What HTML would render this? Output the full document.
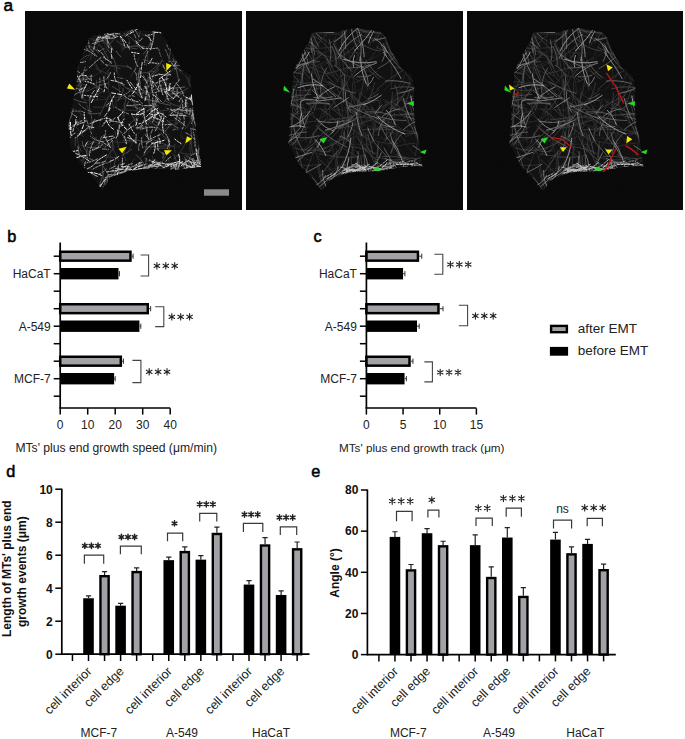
<!DOCTYPE html>
<html><head><meta charset="utf-8"><title>figure</title>
<style>
html,body{margin:0;padding:0;background:#fff;width:685px;height:739px;overflow:hidden}
svg{display:block}
text{font-family:"Liberation Sans", sans-serif}
</style></head><body>
<svg width="685" height="739" viewBox="0 0 685 739">
<defs><filter id="soft" x="-5%" y="-5%" width="110%" height="110%"><feGaussianBlur stdDeviation="0.4"/></filter><filter id="noise" x="0" y="0" width="100%" height="100%"><feTurbulence type="fractalNoise" baseFrequency="0.9" numOctaves="1" seed="3"/><feColorMatrix type="saturate" values="0"/></filter></defs>
<rect width="685" height="739" fill="#fff"/>
<rect x="25" y="11" width="217" height="199" fill="#070707"/>
<rect x="25" y="11" width="217" height="199" fill="#fff" filter="url(#noise)" opacity="0.03"/>
<clipPath id="clip1"><path d="M92.0 35.8 L115.7 31.8 L136.7 29.2 L160.4 31.8 L166.9 41.0 L173.5 54.2 L181.4 68.6 L190.6 75.2 L191.9 93.6 L193.2 109.3 L195.8 125.1 L199.8 146.1 L201.1 167.1 L176.1 169.8 L149.8 168.5 L128.8 171.1 L110.4 177.6 L102.5 190.8 L94.7 180.3 L78.9 161.9 L69.7 146.1 L68.4 125.1 L72.3 104.1 L76.3 85.7 L77.6 67.3 L84.2 49.0 L89.4 38.4 Z"/></clipPath>
<g clip-path="url(#clip1)">
<path d="M92.0 35.8 L115.7 31.8 L136.7 29.2 L160.4 31.8 L166.9 41.0 L173.5 54.2 L181.4 68.6 L190.6 75.2 L191.9 93.6 L193.2 109.3 L195.8 125.1 L199.8 146.1 L201.1 167.1 L176.1 169.8 L149.8 168.5 L128.8 171.1 L110.4 177.6 L102.5 190.8 L94.7 180.3 L78.9 161.9 L69.7 146.1 L68.4 125.1 L72.3 104.1 L76.3 85.7 L77.6 67.3 L84.2 49.0 L89.4 38.4 Z" fill="#121212" stroke="none"/>
<g fill="none" stroke-linecap="round" filter="url(#soft)">
<path d="M137.1 46.2 L137.8 42.5 L138.6 38.8 L139.4 35.2 L140.2 31.5" stroke="rgb(55,55,55)" stroke-width="0.9"/>
<path d="M83.1 163.4 L79.9 158.5 L76.2 154.0 L72.1 149.9 L67.6 146.2" stroke="rgb(40,40,40)" stroke-width="0.7"/>
<path d="M161.9 75.0 L166.6 73.3 L171.1 70.9 L175.2 68.0 L178.8 64.6" stroke="rgb(40,40,40)" stroke-width="0.7"/>
<path d="M122.9 140.4 L128.0 140.2 L133.0 140.2 L138.1 140.5 L143.2 141.1" stroke="rgb(85,85,85)" stroke-width="0.7"/>
<path d="M151.3 114.1 L150.0 118.3 L148.8 122.6 L147.8 126.9 L147.0 131.3" stroke="rgb(70,70,70)" stroke-width="0.7"/>
<path d="M85.6 117.9 L82.7 120.3 L79.5 122.3 L76.0 124.0 L72.4 125.2" stroke="rgb(85,85,85)" stroke-width="0.7"/>
<path d="M173.1 58.6 L174.8 64.1 L176.3 69.7 L177.6 75.4 L178.7 81.1" stroke="rgb(85,85,85)" stroke-width="0.9"/>
<path d="M189.8 145.9 L189.9 148.0 L190.1 150.2 L190.4 152.4 L190.9 154.5" stroke="rgb(70,70,70)" stroke-width="0.7"/>
<path d="M137.2 93.6 L134.3 90.3 L131.3 87.0 L128.4 83.8 L125.4 80.5" stroke="rgb(40,40,40)" stroke-width="0.9"/>
<path d="M157.3 118.1 L161.8 120.3 L166.4 122.2 L171.1 123.7 L176.0 125.0" stroke="rgb(40,40,40)" stroke-width="0.7"/>
<path d="M115.8 137.8 L112.1 138.5 L108.5 139.5 L104.9 140.7 L101.4 142.0" stroke="rgb(55,55,55)" stroke-width="0.9"/>
<path d="M125.8 118.7 L122.4 120.8 L118.9 122.7 L115.3 124.3 L111.5 125.6" stroke="rgb(40,40,40)" stroke-width="0.9"/>
<path d="M147.7 123.6 L144.7 127.7 L141.0 131.3 L136.8 134.1 L132.1 136.2" stroke="rgb(40,40,40)" stroke-width="0.7"/>
<path d="M136.5 136.7 L133.9 140.8 L131.5 144.9 L129.3 149.1 L127.2 153.5" stroke="rgb(55,55,55)" stroke-width="0.7"/>
<path d="M126.1 142.8 L127.6 138.4 L128.6 134.0 L129.2 129.4 L129.2 124.9" stroke="rgb(40,40,40)" stroke-width="0.9"/>
<path d="M183.5 162.5 L186.1 165.2 L188.4 168.2 L190.3 171.4 L192.0 174.8" stroke="rgb(85,85,85)" stroke-width="0.9"/>
<path d="M187.9 109.0 L185.1 104.1 L181.6 99.6 L177.7 95.5 L173.2 92.0" stroke="rgb(85,85,85)" stroke-width="0.9"/>
<path d="M174.0 128.9 L176.9 124.1 L179.3 119.1 L181.5 113.9 L183.2 108.6" stroke="rgb(55,55,55)" stroke-width="0.7"/>
<path d="M142.3 127.7 L138.8 127.4 L135.2 127.0 L131.6 126.7 L128.0 126.4" stroke="rgb(40,40,40)" stroke-width="0.7"/>
<path d="M99.6 115.9 L101.9 110.8 L104.3 105.7 L106.6 100.7 L109.1 95.6" stroke="rgb(85,85,85)" stroke-width="0.7"/>
<path d="M91.3 152.0 L88.6 153.8 L86.1 155.9 L83.7 158.2 L81.6 160.7" stroke="rgb(70,70,70)" stroke-width="0.9"/>
<path d="M82.3 141.7 L82.8 144.5 L83.7 147.1 L85.1 149.5 L86.9 151.7" stroke="rgb(85,85,85)" stroke-width="0.9"/>
<path d="M176.5 110.3 L180.0 112.6 L183.7 114.5 L187.6 116.1 L191.6 117.3" stroke="rgb(55,55,55)" stroke-width="0.9"/>
<path d="M190.4 75.7 L189.6 78.1 L189.1 80.6 L189.0 83.1 L189.2 85.6" stroke="rgb(55,55,55)" stroke-width="0.7"/>
<path d="M126.0 160.7 L125.2 158.7 L124.5 156.8 L123.8 154.8 L123.2 152.9" stroke="rgb(55,55,55)" stroke-width="0.9"/>
<path d="M137.6 135.9 L136.2 137.8 L134.6 139.6 L132.8 141.2 L130.8 142.7" stroke="rgb(40,40,40)" stroke-width="0.9"/>
<path d="M83.6 61.1 L85.6 59.8 L87.3 58.2 L88.9 56.4 L90.2 54.5" stroke="rgb(40,40,40)" stroke-width="0.9"/>
<path d="M124.6 98.2 L122.4 98.4 L120.3 98.9 L118.3 99.5 L116.3 100.4" stroke="rgb(55,55,55)" stroke-width="0.9"/>
<path d="M194.0 111.2 L192.8 116.1 L190.9 120.8 L188.3 125.1 L185.1 129.0" stroke="rgb(70,70,70)" stroke-width="0.7"/>
<path d="M86.7 84.7 L82.3 84.9 L77.8 85.5 L73.4 86.5 L69.1 87.8" stroke="rgb(55,55,55)" stroke-width="0.9"/>
<path d="M144.8 146.9 L147.5 147.2 L150.3 147.1 L153.0 146.6 L155.6 145.5" stroke="rgb(85,85,85)" stroke-width="0.9"/>
<path d="M152.8 164.4 L152.8 162.2 L152.8 160.0 L152.7 157.8 L152.4 155.7" stroke="rgb(55,55,55)" stroke-width="0.7"/>
<path d="M128.6 101.5 L126.8 105.2 L124.8 108.8 L122.6 112.3 L120.2 115.7" stroke="rgb(85,85,85)" stroke-width="0.9"/>
<path d="M164.2 154.7 L160.6 152.0 L157.2 149.0 L154.1 145.7 L151.3 142.2" stroke="rgb(85,85,85)" stroke-width="0.9"/>
<path d="M110.8 148.0 L110.8 153.1 L110.6 158.1 L110.5 163.1 L110.3 168.1" stroke="rgb(40,40,40)" stroke-width="0.9"/>
<path d="M92.9 136.0 L96.9 139.7 L100.8 143.5 L104.7 147.3 L108.6 151.1" stroke="rgb(70,70,70)" stroke-width="0.7"/>
<path d="M93.0 76.2 L89.8 76.4 L86.6 76.9 L83.5 77.6 L80.4 78.6" stroke="rgb(70,70,70)" stroke-width="0.7"/>
<path d="M157.1 140.1 L154.0 145.1 L150.3 149.7 L146.0 153.8 L141.2 157.2" stroke="rgb(55,55,55)" stroke-width="0.7"/>
<path d="M125.3 78.3 L129.0 82.3 L132.9 86.2 L136.7 90.1 L140.7 93.8" stroke="rgb(40,40,40)" stroke-width="0.7"/>
<path d="M162.3 125.0 L158.9 123.6 L155.6 121.8 L152.6 119.7 L149.8 117.2" stroke="rgb(85,85,85)" stroke-width="0.9"/>
<path d="M112.3 149.7 L110.4 152.3 L108.7 155.0 L107.1 157.8 L105.8 160.8" stroke="rgb(70,70,70)" stroke-width="0.7"/>
<path d="M191.1 87.1 L189.8 84.2 L188.5 81.4 L187.2 78.5 L185.8 75.7" stroke="rgb(70,70,70)" stroke-width="0.7"/>
<path d="M118.5 99.8 L119.2 95.7 L119.5 91.5 L119.3 87.4 L118.5 83.3" stroke="rgb(55,55,55)" stroke-width="0.9"/>
<path d="M177.9 70.3 L181.5 72.7 L184.9 75.3 L188.2 78.0 L191.3 80.9" stroke="rgb(40,40,40)" stroke-width="0.9"/>
<path d="M83.2 136.5 L81.4 134.1 L79.6 131.7 L77.8 129.3 L76.0 126.9" stroke="rgb(55,55,55)" stroke-width="0.9"/>
<path d="M173.6 100.0 L172.0 96.3 L170.7 92.6 L169.7 88.7 L168.9 84.8" stroke="rgb(40,40,40)" stroke-width="0.7"/>
<path d="M169.2 101.4 L171.9 99.2 L174.4 96.8 L176.8 94.3 L179.1 91.6" stroke="rgb(55,55,55)" stroke-width="0.9"/>
<path d="M87.5 38.2 L89.9 38.6 L92.3 38.9 L94.7 39.1 L97.1 39.2" stroke="rgb(55,55,55)" stroke-width="0.7"/>
<path d="M142.3 109.9 L145.3 107.8 L148.3 105.9 L151.4 104.0 L154.6 102.4" stroke="rgb(70,70,70)" stroke-width="0.9"/>
<path d="M187.1 116.1 L184.3 111.9 L181.6 107.6 L178.8 103.3 L175.9 99.1" stroke="rgb(40,40,40)" stroke-width="0.7"/>
<path d="M111.2 65.9 L116.3 65.6 L121.5 65.9 L126.6 66.8 L131.6 68.1" stroke="rgb(70,70,70)" stroke-width="0.7"/>
<path d="M162.8 60.1 L159.1 63.7 L155.2 67.2 L151.2 70.5 L147.1 73.6" stroke="rgb(85,85,85)" stroke-width="0.7"/>
<path d="M121.7 158.6 L122.7 156.3 L123.6 154.0 L124.6 151.6 L125.6 149.3" stroke="rgb(70,70,70)" stroke-width="0.7"/>
<path d="M82.4 162.4 L85.2 157.9 L87.7 153.2 L89.9 148.5 L92.0 143.6" stroke="rgb(40,40,40)" stroke-width="0.7"/>
<path d="M194.2 143.5 L190.5 142.0 L186.9 140.1 L183.5 137.9 L180.4 135.3" stroke="rgb(40,40,40)" stroke-width="0.9"/>
<path d="M120.5 36.7 L123.5 35.5 L126.3 33.8 L128.8 31.8 L131.0 29.3" stroke="rgb(85,85,85)" stroke-width="0.9"/>
<path d="M161.1 163.3 L163.9 159.3 L166.4 155.1 L168.4 150.7 L170.0 146.2" stroke="rgb(85,85,85)" stroke-width="0.7"/>
<path d="M162.4 60.5 L159.2 65.3 L155.7 69.9 L151.8 74.2 L147.6 78.1" stroke="rgb(85,85,85)" stroke-width="0.9"/>
<path d="M121.6 84.4 L125.0 87.3 L128.7 89.8 L132.7 91.9 L137.0 93.5" stroke="rgb(55,55,55)" stroke-width="0.9"/>
<path d="M116.5 157.8 L113.5 157.4 L110.5 157.2 L107.4 157.1 L104.4 157.2" stroke="rgb(55,55,55)" stroke-width="0.9"/>
<path d="M159.3 65.1 L155.3 63.4 L151.3 61.9 L147.2 60.7 L143.0 59.7" stroke="rgb(70,70,70)" stroke-width="0.9"/>
<path d="M168.9 62.0 L169.3 58.4 L169.8 54.8 L170.3 51.2 L170.8 47.7" stroke="rgb(70,70,70)" stroke-width="0.9"/>
<path d="M99.1 186.8 L100.1 183.3 L101.2 179.9 L102.4 176.5 L103.7 173.1" stroke="rgb(85,85,85)" stroke-width="0.9"/>
<path d="M154.3 92.4 L148.7 93.0 L143.1 93.0 L137.5 92.3 L132.0 91.0" stroke="rgb(85,85,85)" stroke-width="0.7"/>
<path d="M140.1 110.0 L139.0 112.0 L137.7 113.8 L136.3 115.5 L134.7 117.1" stroke="rgb(85,85,85)" stroke-width="0.9"/>
<path d="M137.3 110.4 L132.5 110.3 L127.7 110.2 L122.9 110.0 L118.2 109.7" stroke="rgb(55,55,55)" stroke-width="0.9"/>
<path d="M116.8 41.0 L121.2 44.3 L126.2 46.7 L131.5 48.2 L137.0 48.7" stroke="rgb(85,85,85)" stroke-width="0.7"/>
<path d="M108.2 92.5 L108.7 87.0 L108.8 81.5 L108.5 76.0 L107.8 70.5" stroke="rgb(55,55,55)" stroke-width="0.7"/>
<path d="M176.8 147.3 L180.1 145.5 L183.2 143.3 L185.9 140.7 L188.4 137.8" stroke="rgb(40,40,40)" stroke-width="0.9"/>
<path d="M161.2 118.0 L162.7 114.1 L164.3 110.4 L166.1 106.7 L167.9 103.0" stroke="rgb(40,40,40)" stroke-width="0.7"/>
<path d="M96.8 64.6 L94.6 65.2 L92.3 65.6 L90.1 66.1 L87.8 66.5" stroke="rgb(40,40,40)" stroke-width="0.7"/>
<path d="M66.4 128.6 L67.7 126.2 L68.7 123.7 L69.6 121.1 L70.3 118.4" stroke="rgb(55,55,55)" stroke-width="0.7"/>
<path d="M175.6 120.2 L174.1 116.4 L172.7 112.5 L171.4 108.7 L170.3 104.7" stroke="rgb(55,55,55)" stroke-width="0.7"/>
<path d="M179.5 115.1 L180.4 120.9 L181.1 126.8 L181.6 132.6 L182.0 138.5" stroke="rgb(40,40,40)" stroke-width="0.7"/>
<path d="M140.9 97.8 L138.0 94.5 L134.6 91.8 L130.8 89.6 L126.7 88.0" stroke="rgb(85,85,85)" stroke-width="0.9"/>
<path d="M180.4 127.9 L174.5 127.6 L168.5 127.9 L162.7 128.8 L156.9 130.2" stroke="rgb(40,40,40)" stroke-width="0.7"/>
<path d="M153.8 74.7 L151.8 75.9 L149.9 77.3 L148.0 78.7 L146.2 80.2" stroke="rgb(55,55,55)" stroke-width="0.9"/>
<path d="M96.5 80.1 L96.6 85.2 L96.8 90.4 L97.0 95.6 L97.3 100.7" stroke="rgb(55,55,55)" stroke-width="0.9"/>
<path d="M164.7 168.4 L161.6 168.5 L158.5 168.6 L155.4 168.6 L152.3 168.6" stroke="rgb(40,40,40)" stroke-width="0.9"/>
<path d="M96.4 50.9 L97.0 48.5 L97.9 46.1 L98.9 43.7 L100.1 41.5" stroke="rgb(55,55,55)" stroke-width="0.7"/>
<path d="M80.9 92.5 L78.4 93.1 L76.0 94.1 L73.8 95.6 L71.9 97.4" stroke="rgb(55,55,55)" stroke-width="0.9"/>
<path d="M144.9 110.1 L140.9 113.9 L136.9 117.6 L132.8 121.3 L128.6 125.0" stroke="rgb(70,70,70)" stroke-width="0.9"/>
<path d="M90.7 35.3 L93.8 36.0 L96.7 37.2 L99.5 38.8 L102.0 40.8" stroke="rgb(40,40,40)" stroke-width="0.7"/>
<path d="M149.7 79.0 L146.6 83.1 L144.3 87.7 L142.6 92.5 L141.6 97.6" stroke="rgb(70,70,70)" stroke-width="0.9"/>
<path d="M115.0 169.0 L116.6 167.5 L118.2 165.8 L119.6 164.0 L121.0 162.2" stroke="rgb(40,40,40)" stroke-width="0.9"/>
<path d="M117.8 101.2 L119.9 98.4 L121.6 95.3 L122.7 91.9 L123.2 88.4" stroke="rgb(85,85,85)" stroke-width="0.7"/>
<path d="M93.6 76.2 L98.6 73.1 L103.3 69.5 L107.7 65.5 L111.7 61.1" stroke="rgb(40,40,40)" stroke-width="0.9"/>
<path d="M173.9 159.2 L177.2 155.7 L180.2 152.0 L182.8 148.1 L185.1 143.9" stroke="rgb(70,70,70)" stroke-width="0.7"/>
<path d="M153.1 98.7 L152.5 103.7 L152.3 108.7 L152.6 113.7 L153.4 118.6" stroke="rgb(85,85,85)" stroke-width="0.7"/>
<path d="M123.8 116.6 L123.9 111.8 L124.3 107.1 L125.1 102.4 L126.2 97.7" stroke="rgb(70,70,70)" stroke-width="0.9"/>
<path d="M114.8 131.4 L115.9 135.5 L116.9 139.6 L117.8 143.8 L118.6 148.0" stroke="rgb(55,55,55)" stroke-width="0.9"/>
<path d="M106.5 46.3 L105.3 50.8 L104.2 55.2 L103.2 59.7 L102.1 64.2" stroke="rgb(40,40,40)" stroke-width="0.7"/>
<path d="M111.1 66.8 L108.1 70.5 L105.7 74.5 L104.0 78.9 L103.0 83.5" stroke="rgb(55,55,55)" stroke-width="0.7"/>
<path d="M171.6 165.6 L175.3 166.2 L179.1 166.4 L182.8 166.2 L186.6 165.6" stroke="rgb(70,70,70)" stroke-width="0.9"/>
<path d="M93.3 107.1 L97.6 107.2 L101.8 107.1 L106.0 106.5 L110.2 105.7" stroke="rgb(55,55,55)" stroke-width="0.9"/>
<path d="M119.2 75.2 L117.9 73.2 L116.6 71.4 L115.1 69.6 L113.6 67.8" stroke="rgb(55,55,55)" stroke-width="0.7"/>
<path d="M187.0 104.7 L185.4 106.2 L183.8 107.9 L182.4 109.6 L181.2 111.4" stroke="rgb(70,70,70)" stroke-width="0.9"/>
<path d="M93.8 40.9 L91.8 44.4 L89.3 47.6 L86.4 50.4 L83.2 52.9" stroke="rgb(40,40,40)" stroke-width="0.7"/>
<path d="M113.3 141.9 L117.6 142.3 L121.9 142.4 L126.2 142.2 L130.4 141.7" stroke="rgb(55,55,55)" stroke-width="0.9"/>
<path d="M154.7 110.6 L152.8 106.4 L150.5 102.4 L147.9 98.5 L145.0 95.0" stroke="rgb(40,40,40)" stroke-width="0.7"/>
<path d="M145.1 133.0 L143.1 136.1 L141.2 139.3 L139.4 142.6 L137.8 145.9" stroke="rgb(40,40,40)" stroke-width="0.7"/>
<path d="M138.2 128.0 L136.7 124.5 L135.1 121.1 L133.4 117.7 L131.6 114.3" stroke="rgb(85,85,85)" stroke-width="0.9"/>
<path d="M141.6 105.4 L139.9 104.0 L138.0 102.8 L135.9 101.9 L133.8 101.3" stroke="rgb(70,70,70)" stroke-width="0.9"/>
<path d="M108.0 74.3 L104.9 72.8 L101.9 71.3 L98.8 69.8 L95.8 68.3" stroke="rgb(55,55,55)" stroke-width="0.9"/>
<path d="M185.1 155.4 L186.6 157.0 L187.9 158.7 L188.8 160.6 L189.4 162.7" stroke="rgb(70,70,70)" stroke-width="0.7"/>
<path d="M127.1 23.0 L126.9 27.4 L127.1 31.8 L127.8 36.2 L129.0 40.4" stroke="rgb(55,55,55)" stroke-width="0.7"/>
<path d="M91.5 116.3 L91.6 119.6 L91.9 123.0 L92.4 126.3 L93.1 129.6" stroke="rgb(70,70,70)" stroke-width="0.7"/>
<path d="M160.6 80.2 L163.5 83.7 L166.6 87.0 L169.8 90.2 L173.1 93.3" stroke="rgb(85,85,85)" stroke-width="0.9"/>
<path d="M108.0 58.5 L106.4 54.8 L104.4 51.3 L102.1 47.9 L99.5 44.8" stroke="rgb(85,85,85)" stroke-width="0.7"/>
<path d="M109.6 177.1 L107.8 173.7 L105.8 170.4 L103.7 167.2 L101.5 164.1" stroke="rgb(85,85,85)" stroke-width="0.9"/>
<path d="M149.7 94.3 L149.2 98.0 L149.0 101.8 L149.1 105.5 L149.5 109.3" stroke="rgb(70,70,70)" stroke-width="0.7"/>
<path d="M86.3 78.7 L83.0 83.1 L79.3 87.3 L75.4 91.4 L71.3 95.1" stroke="rgb(40,40,40)" stroke-width="0.7"/>
<path d="M96.4 93.6 L96.7 91.3 L97.3 89.1 L98.3 87.0 L99.7 85.1" stroke="rgb(55,55,55)" stroke-width="0.9"/>
<path d="M198.7 145.4 L198.5 150.0 L198.7 154.7 L199.3 159.3 L200.2 163.9" stroke="rgb(70,70,70)" stroke-width="0.7"/>
<path d="M108.2 99.0 L104.7 97.6 L101.1 96.2 L97.5 95.0 L93.9 93.7" stroke="rgb(40,40,40)" stroke-width="0.7"/>
<path d="M171.7 102.7 L173.9 106.6 L176.2 110.4 L178.6 114.2 L181.2 117.8" stroke="rgb(40,40,40)" stroke-width="0.7"/>
<path d="M103.3 153.6 L101.1 155.9 L99.0 158.2 L97.0 160.7 L95.0 163.2" stroke="rgb(40,40,40)" stroke-width="0.9"/>
<path d="M165.1 166.7 L159.5 165.6 L154.1 163.8 L149.1 161.2 L144.4 158.0" stroke="rgb(70,70,70)" stroke-width="0.7"/>
<path d="M193.7 114.6 L194.2 117.8 L195.0 120.9 L196.0 123.9 L197.4 126.7" stroke="rgb(70,70,70)" stroke-width="0.7"/>
<path d="M129.6 104.9 L127.6 105.8 L125.7 107.0 L124.0 108.4 L122.4 109.9" stroke="rgb(40,40,40)" stroke-width="0.9"/>
<path d="M146.8 99.2 L143.9 96.5 L141.1 93.7 L138.3 91.0 L135.5 88.2" stroke="rgb(55,55,55)" stroke-width="0.9"/>
<path d="M110.0 178.3 L111.9 172.8 L113.6 167.3 L115.0 161.7 L116.3 156.1" stroke="rgb(70,70,70)" stroke-width="0.9"/>
<path d="M101.7 73.6 L100.1 71.6 L98.6 69.4 L97.2 67.2 L96.0 64.9" stroke="rgb(70,70,70)" stroke-width="0.7"/>
<path d="M122.6 51.5 L121.9 47.1 L121.2 42.7 L120.7 38.2 L120.3 33.8" stroke="rgb(55,55,55)" stroke-width="0.7"/>
<path d="M168.7 112.1 L173.4 109.8 L178.4 108.1 L183.6 106.8 L188.8 106.1" stroke="rgb(55,55,55)" stroke-width="0.9"/>
<path d="M80.9 92.7 L80.5 87.2 L79.5 81.7 L77.9 76.3 L75.7 71.2" stroke="rgb(85,85,85)" stroke-width="0.9"/>
<path d="M102.1 89.6 L98.6 87.4 L95.1 85.3 L91.6 83.3 L88.0 81.3" stroke="rgb(85,85,85)" stroke-width="0.9"/>
<path d="M166.3 69.7 L163.8 68.0 L161.5 66.1 L159.4 63.9 L157.5 61.6" stroke="rgb(40,40,40)" stroke-width="0.9"/>
<path d="M179.2 101.5 L184.1 102.5 L188.9 103.8 L193.7 105.4 L198.3 107.3" stroke="rgb(40,40,40)" stroke-width="0.7"/>
<path d="M140.6 93.4 L140.6 88.2 L140.2 83.0 L139.2 77.9 L137.8 72.8" stroke="rgb(40,40,40)" stroke-width="0.7"/>
<path d="M195.2 139.4 L195.2 142.3 L195.7 145.3 L196.4 148.2 L197.5 151.0" stroke="rgb(40,40,40)" stroke-width="0.9"/>
<path d="M99.1 35.6 L101.1 38.6 L102.9 41.7 L104.6 44.8 L106.2 48.0" stroke="rgb(55,55,55)" stroke-width="0.7"/>
<path d="M178.0 63.4 L174.6 67.3 L171.4 71.3 L168.1 75.2 L164.8 79.2" stroke="rgb(55,55,55)" stroke-width="0.9"/>
<path d="M191.5 143.7 L191.6 146.5 L191.9 149.2 L192.4 152.0 L193.1 154.7" stroke="rgb(70,70,70)" stroke-width="0.7"/>
<path d="M83.2 131.4 L79.9 134.2 L76.7 137.1 L73.6 140.0 L70.6 143.1" stroke="rgb(40,40,40)" stroke-width="0.7"/>
<path d="M90.2 144.1 L92.0 142.5 L93.6 140.8 L95.1 139.0 L96.4 137.0" stroke="rgb(70,70,70)" stroke-width="0.7"/>
<path d="M168.9 94.1 L173.9 93.8 L178.9 92.6 L183.6 90.7 L187.9 88.0" stroke="rgb(70,70,70)" stroke-width="0.9"/>
<path d="M90.3 59.9 L91.2 56.7 L92.3 53.6 L93.6 50.5 L95.1 47.6" stroke="rgb(55,55,55)" stroke-width="0.9"/>
<path d="M150.7 114.6 L148.8 118.2 L146.7 121.7 L144.4 125.0 L141.9 128.1" stroke="rgb(55,55,55)" stroke-width="0.7"/>
<path d="M134.8 158.4 L133.4 160.1 L132.2 162.0 L131.3 164.1 L130.6 166.2" stroke="rgb(55,55,55)" stroke-width="0.7"/>
<path d="M86.3 104.9 L87.6 107.1 L88.6 109.5 L89.1 112.0 L89.3 114.5" stroke="rgb(70,70,70)" stroke-width="0.7"/>
<path d="M92.9 148.7 L96.2 145.5 L99.4 142.1 L102.5 138.6 L105.4 134.9" stroke="rgb(70,70,70)" stroke-width="0.7"/>
<path d="M170.0 141.6 L167.5 139.8 L165.2 137.8 L163.0 135.6 L161.1 133.1" stroke="rgb(85,85,85)" stroke-width="0.9"/>
<path d="M103.3 41.7 L100.6 41.5 L98.0 41.2 L95.4 40.7 L92.8 40.2" stroke="rgb(70,70,70)" stroke-width="0.7"/>
<path d="M165.4 97.3 L167.8 96.0 L170.3 95.1 L172.9 94.6 L175.6 94.5" stroke="rgb(55,55,55)" stroke-width="0.7"/>
<path d="M153.5 110.2 L154.4 107.4 L155.6 104.6 L157.0 101.8 L158.5 99.2" stroke="rgb(70,70,70)" stroke-width="0.9"/>
<path d="M157.6 84.0 L154.3 82.5 L150.8 81.3 L147.2 80.4 L143.6 79.8" stroke="rgb(85,85,85)" stroke-width="0.9"/>
<path d="M100.6 118.8 L100.2 121.2 L100.0 123.6 L99.9 126.0 L99.9 128.4" stroke="rgb(40,40,40)" stroke-width="0.7"/>
<path d="M137.7 81.9 L137.8 86.2 L138.7 90.4 L140.2 94.4 L142.3 98.2" stroke="rgb(85,85,85)" stroke-width="0.9"/>
<path d="M140.1 107.3 L136.8 107.0 L133.4 106.6 L130.1 106.0 L126.8 105.2" stroke="rgb(55,55,55)" stroke-width="0.9"/>
<path d="M106.4 186.5 L104.3 181.8 L103.0 176.8 L102.4 171.6 L102.7 166.5" stroke="rgb(85,85,85)" stroke-width="0.7"/>
<path d="M110.1 144.1 L104.2 143.8 L98.3 143.1 L92.5 142.2 L86.7 140.9" stroke="rgb(55,55,55)" stroke-width="0.7"/>
<path d="M157.0 104.1 L159.0 108.2 L161.3 112.2 L163.8 116.0 L166.5 119.7" stroke="rgb(40,40,40)" stroke-width="0.7"/>
<path d="M175.4 82.7 L173.3 82.9 L171.1 83.1 L169.0 83.3 L166.9 83.6" stroke="rgb(40,40,40)" stroke-width="0.7"/>
<path d="M107.9 173.7 L107.6 176.9 L107.6 180.0 L108.0 183.2 L108.6 186.3" stroke="rgb(85,85,85)" stroke-width="0.7"/>
<path d="M144.6 102.2 L145.5 99.7 L146.5 97.1 L147.6 94.6 L148.8 92.2" stroke="rgb(40,40,40)" stroke-width="0.7"/>
<path d="M155.7 125.5 L157.3 127.0 L159.0 128.5 L160.7 130.0 L162.4 131.3" stroke="rgb(85,85,85)" stroke-width="0.9"/>
<path d="M83.0 98.6 L81.0 95.1 L79.6 91.4 L78.8 87.6 L78.6 83.6" stroke="rgb(70,70,70)" stroke-width="0.7"/>
<path d="M106.5 99.5 L101.1 99.6 L95.6 99.8 L90.1 100.1 L84.6 100.4" stroke="rgb(40,40,40)" stroke-width="0.9"/>
<path d="M75.0 70.5 L76.5 68.0 L77.6 65.4 L78.5 62.7 L79.2 59.9" stroke="rgb(70,70,70)" stroke-width="0.7"/>
<path d="M113.1 150.3 L113.1 147.2 L112.8 144.2 L112.2 141.2 L111.3 138.3" stroke="rgb(85,85,85)" stroke-width="0.9"/>
<path d="M163.2 102.9 L165.1 100.8 L166.6 98.4 L167.8 95.7 L168.5 93.0" stroke="rgb(85,85,85)" stroke-width="0.9"/>
<path d="M175.2 125.9 L171.2 124.8 L167.0 124.3 L162.9 124.4 L158.7 124.9" stroke="rgb(40,40,40)" stroke-width="0.9"/>
<path d="M182.3 101.8 L179.7 107.0 L177.7 112.4 L176.4 118.1 L175.8 123.9" stroke="rgb(70,70,70)" stroke-width="0.9"/>
<path d="M118.6 160.7 L116.7 156.4 L114.6 152.1 L112.4 147.9 L109.9 143.8" stroke="rgb(55,55,55)" stroke-width="0.9"/>
<path d="M147.5 101.1 L143.4 97.7 L138.9 94.8 L134.2 92.3 L129.2 90.4" stroke="rgb(55,55,55)" stroke-width="0.7"/>
<path d="M175.2 152.6 L174.7 150.5 L174.6 148.4 L174.7 146.3 L175.0 144.2" stroke="rgb(70,70,70)" stroke-width="0.7"/>
<path d="M142.4 93.8 L146.3 90.1 L149.4 85.7 L151.8 80.9 L153.4 75.8" stroke="rgb(70,70,70)" stroke-width="0.9"/>
<path d="M75.3 145.9 L75.2 143.8 L75.3 141.6 L75.5 139.4 L76.0 137.3" stroke="rgb(70,70,70)" stroke-width="0.9"/>
<path d="M148.1 164.4 L148.0 166.5 L147.9 168.5 L147.8 170.6 L147.6 172.7" stroke="rgb(55,55,55)" stroke-width="0.7"/>
<path d="M159.0 133.4 L158.3 137.6 L158.0 141.8 L158.2 146.0 L158.6 150.2" stroke="rgb(70,70,70)" stroke-width="0.7"/>
<path d="M154.9 71.1 L150.9 71.8 L146.9 72.4 L142.9 73.0 L138.9 73.5" stroke="rgb(70,70,70)" stroke-width="0.9"/>
<path d="M168.0 110.3 L164.2 110.5 L160.3 111.0 L156.5 111.8 L152.8 112.9" stroke="rgb(55,55,55)" stroke-width="0.9"/>
<path d="M145.8 83.5 L148.6 79.6 L151.7 76.1 L155.2 72.8 L158.8 69.8" stroke="rgb(70,70,70)" stroke-width="0.9"/>
<path d="M86.6 119.3 L82.9 115.3 L78.5 111.9 L73.7 109.2 L68.6 107.3" stroke="rgb(55,55,55)" stroke-width="0.7"/>
<path d="M147.0 36.5 L144.7 35.7 L142.4 34.7 L140.3 33.5 L138.3 32.1" stroke="rgb(55,55,55)" stroke-width="0.7"/>
<path d="M81.4 151.2 L79.3 147.1 L77.9 142.7 L77.4 138.1 L77.7 133.5" stroke="rgb(70,70,70)" stroke-width="0.7"/>
<path d="M95.5 177.4 L93.9 175.2 L92.5 172.8 L91.4 170.3 L90.5 167.7" stroke="rgb(55,55,55)" stroke-width="0.7"/>
<path d="M165.9 87.2 L166.3 84.0 L166.5 80.8 L166.6 77.6 L166.5 74.4" stroke="rgb(70,70,70)" stroke-width="0.7"/>
<path d="M124.2 129.5 L124.3 132.3 L124.8 135.0 L125.8 137.7 L127.1 140.1" stroke="rgb(40,40,40)" stroke-width="0.7"/>
<path d="M117.8 119.6 L120.3 122.0 L122.7 124.4 L125.1 126.9 L127.5 129.4" stroke="rgb(70,70,70)" stroke-width="0.9"/>
<path d="M160.3 121.8 L165.2 121.2 L170.1 120.7 L174.9 120.3 L179.8 120.0" stroke="rgb(40,40,40)" stroke-width="0.7"/>
<path d="M89.4 87.4 L87.4 89.2 L85.2 90.7 L83.0 92.1 L80.6 93.2" stroke="rgb(70,70,70)" stroke-width="0.7"/>
<path d="M110.2 43.6 L112.3 41.6 L114.2 39.2 L115.7 36.7 L116.9 33.9" stroke="rgb(85,85,85)" stroke-width="0.7"/>
<path d="M170.5 124.0 L172.8 124.1 L175.1 123.9 L177.3 123.3 L179.4 122.4" stroke="rgb(55,55,55)" stroke-width="0.9"/>
<path d="M167.5 158.0 L169.6 162.8 L170.9 167.8 L171.5 173.0 L171.2 178.2" stroke="rgb(70,70,70)" stroke-width="0.7"/>
<path d="M159.8 174.3 L163.6 172.4 L167.8 171.2 L172.0 170.7 L176.3 171.1" stroke="rgb(70,70,70)" stroke-width="0.9"/>
<path d="M87.1 148.9 L86.8 152.2 L87.0 155.5 L87.4 158.7 L88.3 161.9" stroke="rgb(85,85,85)" stroke-width="0.9"/>
<path d="M157.4 160.5 L157.2 164.6 L156.8 168.6 L156.5 172.6 L156.1 176.6" stroke="rgb(55,55,55)" stroke-width="0.9"/>
<path d="M146.2 46.4 L147.4 51.2 L147.8 56.1 L147.4 61.0 L146.2 65.7" stroke="rgb(70,70,70)" stroke-width="0.7"/>
<path d="M151.2 110.3 L152.5 108.0 L153.5 105.6 L154.1 103.0 L154.4 100.4" stroke="rgb(70,70,70)" stroke-width="0.9"/>
<path d="M109.9 93.6 L110.9 97.3 L111.8 100.9 L112.8 104.6 L113.8 108.2" stroke="rgb(70,70,70)" stroke-width="0.7"/>
<path d="M141.1 49.6 L137.8 44.6 L133.8 40.1 L129.2 36.4 L124.0 33.4" stroke="rgb(70,70,70)" stroke-width="0.9"/>
<path d="M71.4 102.0 L72.9 97.9 L74.3 93.7 L75.6 89.5 L76.9 85.3" stroke="rgb(55,55,55)" stroke-width="0.9"/>
<path d="M96.3 61.8 L93.6 56.9 L91.1 52.0 L88.8 47.0 L86.5 42.0" stroke="rgb(40,40,40)" stroke-width="0.7"/>
<path d="M169.8 58.2 L171.6 60.3 L173.5 62.4 L175.5 64.5 L177.5 66.4" stroke="rgb(40,40,40)" stroke-width="0.7"/>
<path d="M193.1 133.2 L193.4 131.1 L193.5 128.9 L193.2 126.8 L192.7 124.7" stroke="rgb(55,55,55)" stroke-width="0.9"/>
<path d="M159.7 103.0 L162.3 103.5 L165.0 104.1 L167.6 104.7 L170.2 105.2" stroke="rgb(85,85,85)" stroke-width="0.9"/>
<path d="M120.7 91.9 L118.7 90.4 L116.6 89.0 L114.5 87.7 L112.3 86.4" stroke="rgb(85,85,85)" stroke-width="0.9"/>
<path d="M197.6 153.7 L193.4 154.2 L189.1 154.2 L184.9 153.7 L180.8 152.8" stroke="rgb(70,70,70)" stroke-width="0.7"/>
<path d="M96.1 83.2 L99.0 81.8 L101.9 80.6 L105.0 79.5 L108.0 78.6" stroke="rgb(85,85,85)" stroke-width="0.7"/>
<path d="M123.6 48.1 L128.7 46.8 L133.8 46.1 L139.0 46.0 L144.2 46.4" stroke="rgb(85,85,85)" stroke-width="0.9"/>
<path d="M97.1 51.1 L95.4 49.8 L93.8 48.6 L92.1 47.5 L90.4 46.3" stroke="rgb(85,85,85)" stroke-width="0.9"/>
<path d="M118.0 26.0 L115.0 30.9 L112.7 36.1 L111.1 41.5 L110.2 47.2" stroke="rgb(40,40,40)" stroke-width="0.7"/>
<path d="M86.9 102.9 L82.9 102.2 L79.0 101.2 L75.2 99.7 L71.6 97.8" stroke="rgb(85,85,85)" stroke-width="0.9"/>
<path d="M171.4 152.9 L176.2 155.7 L181.1 158.3 L186.1 160.5 L191.3 162.5" stroke="rgb(40,40,40)" stroke-width="0.7"/>
<path d="M123.6 103.9 L123.3 108.6 L123.0 113.3 L122.5 118.0 L122.0 122.7" stroke="rgb(40,40,40)" stroke-width="0.7"/>
<path d="M141.6 107.4 L142.6 111.9 L143.8 116.3 L144.9 120.8 L146.1 125.2" stroke="rgb(55,55,55)" stroke-width="0.9"/>
<path d="M89.3 55.0 L87.0 55.7 L84.7 56.8 L82.6 58.3 L80.8 60.0" stroke="rgb(70,70,70)" stroke-width="0.9"/>
<path d="M125.0 92.5 L122.7 89.6 L120.8 86.4 L119.3 83.0 L118.2 79.5" stroke="rgb(55,55,55)" stroke-width="0.7"/>
<path d="M77.8 71.9 L78.1 68.6 L77.8 65.2 L77.1 62.0 L76.0 58.8" stroke="rgb(55,55,55)" stroke-width="0.7"/>
<path d="M122.1 155.0 L124.6 153.8 L127.1 152.5 L129.5 151.0 L131.7 149.4" stroke="rgb(85,85,85)" stroke-width="0.7"/>
<path d="M185.2 104.5 L184.1 108.0 L182.9 111.5 L181.6 114.9 L180.1 118.3" stroke="rgb(40,40,40)" stroke-width="0.9"/>
<path d="M120.3 68.8 L116.9 67.5 L113.4 66.3 L109.9 65.3 L106.4 64.3" stroke="rgb(70,70,70)" stroke-width="0.9"/>
<path d="M116.0 107.4 L116.3 105.1 L116.1 102.7 L115.6 100.4 L114.6 98.2" stroke="rgb(40,40,40)" stroke-width="0.9"/>
<path d="M147.0 140.5 L146.8 144.1 L146.2 147.8 L145.3 151.3 L144.0 154.8" stroke="rgb(85,85,85)" stroke-width="0.9"/>
<path d="M84.6 101.4 L83.3 96.4 L82.2 91.3 L81.5 86.2 L81.1 81.1" stroke="rgb(55,55,55)" stroke-width="0.9"/>
<path d="M143.0 54.3 L145.2 52.2 L147.0 49.7 L148.5 47.0 L149.6 44.1" stroke="rgb(85,85,85)" stroke-width="0.9"/>
<path d="M184.1 92.3 L180.1 95.0 L175.8 97.0 L171.2 98.2 L166.4 98.7" stroke="rgb(70,70,70)" stroke-width="0.9"/>
<path d="M166.7 148.1 L164.6 148.0 L162.5 148.0 L160.3 148.2 L158.3 148.6" stroke="rgb(85,85,85)" stroke-width="0.7"/>
<path d="M184.2 157.0 L186.4 160.2 L188.4 163.4 L190.4 166.7 L192.2 170.1" stroke="rgb(85,85,85)" stroke-width="0.9"/>
<path d="M190.4 127.9 L191.3 132.0 L191.6 136.1 L191.2 140.3 L190.1 144.4" stroke="rgb(85,85,85)" stroke-width="0.9"/>
<path d="M100.9 147.4 L96.1 147.8 L91.3 147.7 L86.5 146.9 L81.9 145.5" stroke="rgb(85,85,85)" stroke-width="0.9"/>
<path d="M173.9 154.8 L176.0 160.0 L177.3 165.4 L178.0 171.0 L178.0 176.5" stroke="rgb(85,85,85)" stroke-width="0.7"/>
<path d="M146.5 136.7 L151.6 138.9 L156.7 141.1 L161.9 143.2 L167.2 145.2" stroke="rgb(85,85,85)" stroke-width="0.7"/>
<path d="M194.6 166.9 L192.6 165.4 L190.6 163.8 L188.8 162.1 L187.1 160.2" stroke="rgb(40,40,40)" stroke-width="0.7"/>
<path d="M157.1 124.3 L161.0 126.9 L164.6 129.9 L167.7 133.3 L170.4 137.1" stroke="rgb(40,40,40)" stroke-width="0.7"/>
<path d="M158.1 96.3 L154.4 91.6 L151.4 86.5 L149.0 81.0 L147.4 75.3" stroke="rgb(55,55,55)" stroke-width="0.7"/>
<path d="M90.1 78.8 L85.7 78.9 L81.3 79.2 L77.0 79.8 L72.6 80.6" stroke="rgb(85,85,85)" stroke-width="0.7"/>
<path d="M100.4 113.1 L97.3 113.6 L94.1 113.8 L91.0 113.5 L87.9 112.9" stroke="rgb(85,85,85)" stroke-width="0.9"/>
<path d="M151.2 90.1 L156.3 89.2 L161.4 89.0 L166.4 89.5 L171.4 90.6" stroke="rgb(55,55,55)" stroke-width="0.9"/>
<path d="M157.4 127.3 L154.3 127.2 L151.2 127.3 L148.2 127.5 L145.1 127.8" stroke="rgb(85,85,85)" stroke-width="0.7"/>
<path d="M147.1 173.3 L145.6 168.1 L143.3 163.2 L140.2 158.8 L136.4 154.9" stroke="rgb(85,85,85)" stroke-width="0.9"/>
<path d="M147.8 85.2 L147.3 90.8 L147.7 96.3 L148.8 101.7 L150.8 106.9" stroke="rgb(70,70,70)" stroke-width="0.9"/>
<path d="M117.0 71.8 L116.1 65.9 L114.3 60.3 L111.7 55.0 L108.2 50.2" stroke="rgb(85,85,85)" stroke-width="0.7"/>
<path d="M99.8 35.6 L102.3 39.1 L105.0 42.5 L107.8 45.8 L110.7 48.9" stroke="rgb(85,85,85)" stroke-width="0.9"/>
<path d="M130.5 77.0 L133.2 72.6 L135.5 67.8 L137.3 62.9 L138.7 57.9" stroke="rgb(55,55,55)" stroke-width="0.7"/>
<path d="M140.7 115.1 L138.3 111.9 L136.4 108.5 L134.8 104.8 L133.7 101.0" stroke="rgb(70,70,70)" stroke-width="0.7"/>
<path d="M75.8 82.3 L76.3 79.6 L76.5 76.8 L76.5 74.0 L76.2 71.2" stroke="rgb(85,85,85)" stroke-width="0.7"/>
<path d="M79.0 121.3 L79.8 118.3 L80.4 115.3 L80.7 112.3 L80.6 109.2" stroke="rgb(40,40,40)" stroke-width="0.9"/>
<path d="M88.7 172.2 L86.9 169.4 L85.1 166.5 L83.3 163.7 L81.5 160.8" stroke="rgb(40,40,40)" stroke-width="0.7"/>
<path d="M91.4 126.1 L87.4 129.5 L83.3 132.7 L79.1 135.7 L74.8 138.7" stroke="rgb(55,55,55)" stroke-width="0.9"/>
<path d="M91.9 118.1 L90.4 113.1 L89.6 107.9 L89.5 102.7 L90.2 97.5" stroke="rgb(85,85,85)" stroke-width="0.7"/>
<path d="M108.8 83.0 L103.0 84.5 L97.4 86.4 L92.0 88.8 L86.7 91.6" stroke="rgb(70,70,70)" stroke-width="0.9"/>
<path d="M81.3 117.6 L84.4 119.7 L87.2 122.0 L89.9 124.5 L92.3 127.3" stroke="rgb(55,55,55)" stroke-width="0.9"/>
<path d="M135.7 103.6 L132.5 101.8 L129.4 99.9 L126.5 97.7 L123.7 95.4" stroke="rgb(55,55,55)" stroke-width="0.7"/>
<path d="M135.9 111.6 L140.0 114.6 L143.9 117.7 L147.7 120.9 L151.4 124.2" stroke="rgb(55,55,55)" stroke-width="0.9"/>
<path d="M104.0 90.4 L100.2 93.0 L96.3 95.5 L92.4 97.8 L88.4 100.1" stroke="rgb(70,70,70)" stroke-width="0.7"/>
<path d="M174.5 71.7 L174.9 67.5 L174.8 63.3 L174.4 59.1 L173.7 54.9" stroke="rgb(40,40,40)" stroke-width="0.7"/>
<path d="M109.4 42.7 L109.1 45.1 L108.6 47.4 L107.7 49.7 L106.5 51.8" stroke="rgb(55,55,55)" stroke-width="0.9"/>
<path d="M156.4 125.8 L153.9 124.2 L151.6 122.3 L149.6 120.1 L147.9 117.6" stroke="rgb(85,85,85)" stroke-width="0.7"/>
<path d="M154.6 79.4 L156.0 74.0 L157.7 68.7 L159.7 63.5 L162.1 58.5" stroke="rgb(40,40,40)" stroke-width="0.7"/>
<path d="M180.6 106.6 L176.6 105.6 L172.7 104.3 L168.9 102.7 L165.3 100.8" stroke="rgb(70,70,70)" stroke-width="0.9"/>
<path d="M158.0 146.3 L161.9 146.0 L165.9 145.9 L169.9 146.0 L173.9 146.3" stroke="rgb(70,70,70)" stroke-width="0.9"/>
<path d="M178.9 166.0 L173.6 166.1 L168.2 165.9 L162.9 165.4 L157.6 164.6" stroke="rgb(70,70,70)" stroke-width="0.9"/>
<path d="M87.2 144.4 L89.5 143.9 L91.7 143.1 L93.7 141.8 L95.5 140.3" stroke="rgb(85,85,85)" stroke-width="0.7"/>
<path d="M134.2 165.5 L130.7 167.8 L127.4 170.4 L124.2 173.2 L121.3 176.2" stroke="rgb(85,85,85)" stroke-width="0.9"/>
<path d="M174.2 87.3 L168.2 87.6 L162.3 88.3 L156.4 89.1 L150.5 90.3" stroke="rgb(70,70,70)" stroke-width="0.9"/>
<path d="M126.0 95.2 L123.2 96.1 L120.4 96.8 L117.5 97.2 L114.5 97.4" stroke="rgb(55,55,55)" stroke-width="0.7"/>
<path d="M165.5 74.9 L165.2 71.5 L164.8 68.0 L164.4 64.6 L163.8 61.2" stroke="rgb(40,40,40)" stroke-width="0.9"/>
<path d="M124.4 163.4 L123.1 164.2 L121.7 164.7 L120.2 165.0 L118.7 165.1" stroke="rgb(240,240,240)" stroke-width="0.8" stroke-dasharray="4 2"/>
<path d="M154.0 34.9 L153.5 38.7 L152.7 42.5 L151.7 46.2 L150.5 49.8" stroke="rgb(240,240,240)" stroke-width="0.8" stroke-dasharray="1.5 1.5"/>
<path d="M180.7 107.7 L178.3 108.7 L175.7 109.5 L173.1 110.2 L170.5 110.7" stroke="rgb(160,160,160)" stroke-width="0.8" stroke-dasharray="4 2"/>
<path d="M92.2 43.6 L94.9 42.7 L97.7 41.8 L100.5 41.0 L103.2 40.1" stroke="rgb(120,120,120)" stroke-width="1.0" stroke-dasharray="3 1.5"/>
<path d="M193.7 158.7 L191.8 158.4 L190.0 157.7 L188.4 156.7 L186.9 155.5" stroke="rgb(120,120,120)" stroke-width="0.8" stroke-dasharray="2 1.5"/>
<path d="M162.3 74.4 L159.7 74.6 L157.2 75.0 L154.6 75.6 L152.2 76.5" stroke="rgb(200,200,200)" stroke-width="1.0" stroke-dasharray="3 1.5"/>
<path d="M124.1 133.5 L126.2 131.3 L128.4 129.3 L130.8 127.5 L133.4 125.9" stroke="rgb(240,240,240)" stroke-width="0.8" stroke-dasharray="1.5 1.5"/>
<path d="M139.0 36.7 L138.2 35.3 L137.4 33.9 L136.6 32.4 L135.8 31.1" stroke="rgb(160,160,160)" stroke-width="0.8" stroke-dasharray="1.5 1.5"/>
<path d="M114.6 137.2 L112.8 138.4 L111.0 139.5 L109.1 140.3 L107.1 141.0" stroke="rgb(160,160,160)" stroke-width="1.0" stroke-dasharray="1.5 1.5"/>
<path d="M110.3 108.1 L108.9 110.3 L107.4 112.5 L105.9 114.6 L104.2 116.7" stroke="rgb(240,240,240)" stroke-width="0.8" stroke-dasharray="4 2"/>
<path d="M142.3 62.4 L141.6 66.2 L141.1 70.0 L140.7 73.8 L140.4 77.6" stroke="rgb(200,200,200)" stroke-width="1.0" stroke-dasharray="3 1.5"/>
<path d="M164.1 81.7 L165.0 80.2 L166.0 78.6 L167.0 77.1 L168.0 75.6" stroke="rgb(120,120,120)" stroke-width="0.8" stroke-dasharray="2 1.5"/>
<path d="M169.2 61.6 L172.6 61.3 L176.0 61.2 L179.3 61.2 L182.7 61.3" stroke="rgb(120,120,120)" stroke-width="0.8" stroke-dasharray="1.5 1.5"/>
<path d="M163.3 121.5 L161.4 118.6 L159.7 115.6 L158.2 112.5 L156.7 109.4" stroke="rgb(240,240,240)" stroke-width="1.0" stroke-dasharray="1.5 1.5"/>
<path d="M153.4 95.9 L153.0 93.9 L152.5 92.0 L152.1 90.0 L151.6 88.1" stroke="rgb(160,160,160)" stroke-width="1.0" stroke-dasharray="2 1.5"/>
<path d="M195.1 146.6 L195.0 143.0 L194.7 139.5 L194.2 136.0 L193.5 132.5" stroke="rgb(160,160,160)" stroke-width="0.8" stroke-dasharray="2 1.5"/>
<path d="M158.6 91.0 L156.8 87.5 L154.7 84.1 L152.4 80.9 L149.8 77.8" stroke="rgb(160,160,160)" stroke-width="1.0" stroke-dasharray="3 1.5"/>
<path d="M142.0 89.7 L140.8 88.6 L139.8 87.3 L138.9 86.0 L138.1 84.6" stroke="rgb(240,240,240)" stroke-width="1.0" stroke-dasharray="1.5 1.5"/>
<path d="M152.4 116.2 L149.4 118.9 L146.1 121.1 L142.5 122.8 L138.7 123.9" stroke="rgb(200,200,200)" stroke-width="1.0" stroke-dasharray="2 1.5"/>
<path d="M94.3 90.5 L93.0 92.3 L91.7 94.1 L90.6 96.0 L89.7 98.0" stroke="rgb(160,160,160)" stroke-width="1.0" stroke-dasharray="4 2"/>
<path d="M171.8 63.0 L172.7 64.5 L173.7 66.1 L174.6 67.7 L175.6 69.2" stroke="rgb(160,160,160)" stroke-width="1.0" stroke-dasharray="4 2"/>
<path d="M135.8 125.3 L136.4 123.8 L136.8 122.2 L137.0 120.6 L136.9 118.9" stroke="rgb(240,240,240)" stroke-width="1.0" stroke-dasharray="3 1.5"/>
<path d="M184.8 112.6 L188.3 114.0 L191.6 115.7 L194.8 117.8 L197.7 120.1" stroke="rgb(120,120,120)" stroke-width="1.0" stroke-dasharray="2 1.5"/>
<path d="M79.6 134.1 L81.0 131.4 L82.2 128.7 L83.3 125.8 L84.1 122.9" stroke="rgb(240,240,240)" stroke-width="1.0" stroke-dasharray="4 2"/>
<path d="M121.6 94.6 L118.8 94.2 L116.1 93.7 L113.3 93.2 L110.6 92.7" stroke="rgb(240,240,240)" stroke-width="1.0" stroke-dasharray="4 2"/>
<path d="M108.8 47.8 L107.9 45.0 L107.3 42.2 L107.0 39.3 L107.0 36.4" stroke="rgb(160,160,160)" stroke-width="0.8" stroke-dasharray="3 1.5"/>
<path d="M118.0 36.5 L116.7 36.3 L115.5 36.2 L114.2 36.2 L112.9 36.4" stroke="rgb(200,200,200)" stroke-width="0.8" stroke-dasharray="1.5 1.5"/>
<path d="M98.0 37.6 L101.0 37.2 L104.0 37.0 L107.0 36.9 L110.0 37.1" stroke="rgb(200,200,200)" stroke-width="1.0" stroke-dasharray="3 1.5"/>
<path d="M142.1 97.8 L140.9 94.9 L139.9 91.9 L139.2 88.9 L138.7 85.8" stroke="rgb(240,240,240)" stroke-width="0.8" stroke-dasharray="2 1.5"/>
<path d="M98.9 88.7 L97.0 92.2 L95.1 95.6 L93.2 99.1 L91.2 102.6" stroke="rgb(240,240,240)" stroke-width="1.0" stroke-dasharray="4 2"/>
<path d="M175.1 118.2 L177.8 120.0 L180.3 121.8 L182.8 123.8 L185.3 125.8" stroke="rgb(200,200,200)" stroke-width="0.8" stroke-dasharray="2 1.5"/>
<path d="M154.7 95.6 L155.9 97.0 L156.9 98.5 L157.7 100.0 L158.4 101.7" stroke="rgb(240,240,240)" stroke-width="0.8" stroke-dasharray="2 1.5"/>
<path d="M152.1 31.9 L154.8 32.0 L157.6 32.0 L160.4 32.0 L163.2 31.8" stroke="rgb(120,120,120)" stroke-width="0.8" stroke-dasharray="3 1.5"/>
<path d="M164.3 92.0 L166.8 90.7 L169.4 89.4 L172.0 88.2 L174.6 87.2" stroke="rgb(240,240,240)" stroke-width="0.8" stroke-dasharray="4 2"/>
<path d="M105.0 83.4 L105.1 85.5 L104.9 87.7 L104.5 89.8 L104.0 91.9" stroke="rgb(200,200,200)" stroke-width="1.0" stroke-dasharray="4 2"/>
<path d="M178.1 93.2 L176.7 94.7 L175.2 96.3 L173.9 98.0 L172.7 99.7" stroke="rgb(200,200,200)" stroke-width="1.0" stroke-dasharray="1.5 1.5"/>
<path d="M96.8 39.6 L100.2 39.0 L103.6 38.1 L106.9 36.9 L110.1 35.5" stroke="rgb(160,160,160)" stroke-width="0.8" stroke-dasharray="3 1.5"/>
<path d="M176.8 83.8 L179.1 86.5 L181.1 89.5 L182.7 92.7 L183.9 96.1" stroke="rgb(200,200,200)" stroke-width="0.8" stroke-dasharray="3 1.5"/>
<path d="M142.1 109.3 L140.3 109.2 L138.6 108.8 L136.9 108.2 L135.4 107.2" stroke="rgb(120,120,120)" stroke-width="1.0" stroke-dasharray="3 1.5"/>
<path d="M139.6 143.5 L139.1 145.1 L138.8 146.9 L138.7 148.6 L138.8 150.4" stroke="rgb(120,120,120)" stroke-width="1.0" stroke-dasharray="3 1.5"/>
<path d="M137.9 73.8 L139.2 77.4 L139.9 81.2 L140.2 85.0 L139.9 88.9" stroke="rgb(120,120,120)" stroke-width="0.8" stroke-dasharray="1.5 1.5"/>
<path d="M91.4 111.6 L87.9 110.3 L84.5 108.5 L81.5 106.2 L78.8 103.6" stroke="rgb(120,120,120)" stroke-width="0.8" stroke-dasharray="4 2"/>
<path d="M118.0 134.2 L118.6 131.9 L119.0 129.7 L119.3 127.4 L119.5 125.1" stroke="rgb(160,160,160)" stroke-width="0.8" stroke-dasharray="4 2"/>
<path d="M157.6 113.9 L154.6 115.4 L151.7 117.0 L148.9 118.8 L146.2 120.7" stroke="rgb(240,240,240)" stroke-width="1.0" stroke-dasharray="4 2"/>
<path d="M142.4 48.1 L146.2 48.5 L150.0 48.7 L153.9 48.5 L157.6 48.1" stroke="rgb(200,200,200)" stroke-width="0.8" stroke-dasharray="2 1.5"/>
<path d="M129.0 135.3 L130.6 137.7 L132.5 139.9 L134.6 141.9 L136.9 143.6" stroke="rgb(240,240,240)" stroke-width="1.0" stroke-dasharray="1.5 1.5"/>
<path d="M156.2 82.9 L159.4 81.6 L162.5 80.4 L165.7 79.4 L169.0 78.5" stroke="rgb(200,200,200)" stroke-width="0.8" stroke-dasharray="2 1.5"/>
<path d="M85.3 161.7 L84.8 164.3 L84.3 166.8 L83.6 169.3 L82.8 171.7" stroke="rgb(160,160,160)" stroke-width="1.0" stroke-dasharray="4 2"/>
<path d="M126.3 143.7 L126.0 141.8 L125.6 139.9 L125.0 138.1 L124.2 136.3" stroke="rgb(200,200,200)" stroke-width="1.0" stroke-dasharray="1.5 1.5"/>
<path d="M85.0 121.6 L84.7 119.2 L84.4 116.9 L84.2 114.5 L84.1 112.2" stroke="rgb(240,240,240)" stroke-width="1.0" stroke-dasharray="1.5 1.5"/>
<path d="M149.2 73.4 L149.9 77.0 L150.6 80.7 L151.3 84.3 L152.0 88.0" stroke="rgb(200,200,200)" stroke-width="0.8" stroke-dasharray="2 1.5"/>
<path d="M146.4 158.3 L146.1 160.9 L145.5 163.4 L144.6 165.8 L143.4 168.0" stroke="rgb(120,120,120)" stroke-width="0.8" stroke-dasharray="4 2"/>
<path d="M121.5 82.0 L122.0 83.1 L122.6 84.3 L123.3 85.3 L124.2 86.2" stroke="rgb(120,120,120)" stroke-width="0.8" stroke-dasharray="2 1.5"/>
<path d="M152.6 122.1 L153.6 120.0 L154.5 118.0 L155.5 116.0 L156.5 114.0" stroke="rgb(160,160,160)" stroke-width="1.0" stroke-dasharray="1.5 1.5"/>
<path d="M127.2 168.1 L126.5 169.2 L125.6 170.2 L124.6 171.1 L123.5 171.9" stroke="rgb(240,240,240)" stroke-width="1.0" stroke-dasharray="4 2"/>
<path d="M86.4 75.8 L84.5 75.5 L82.5 75.5 L80.6 75.8 L78.8 76.5" stroke="rgb(240,240,240)" stroke-width="1.0" stroke-dasharray="1.5 1.5"/>
<path d="M164.3 116.9 L163.4 115.9 L162.6 114.9 L161.8 113.9 L161.1 112.8" stroke="rgb(120,120,120)" stroke-width="1.0" stroke-dasharray="1.5 1.5"/>
<path d="M114.3 72.9 L114.3 75.2 L114.6 77.3 L115.3 79.4 L116.2 81.4" stroke="rgb(200,200,200)" stroke-width="1.0" stroke-dasharray="2 1.5"/>
<path d="M161.5 77.0 L163.8 80.3 L165.5 83.9 L166.5 87.8 L166.8 91.7" stroke="rgb(240,240,240)" stroke-width="1.0" stroke-dasharray="4 2"/>
<path d="M181.0 93.2 L177.5 92.0 L173.9 91.1 L170.3 90.6 L166.6 90.4" stroke="rgb(120,120,120)" stroke-width="1.0" stroke-dasharray="4 2"/>
<path d="M181.5 162.3 L183.1 165.1 L184.6 167.9 L186.1 170.8 L187.5 173.7" stroke="rgb(160,160,160)" stroke-width="1.0" stroke-dasharray="1.5 1.5"/>
<path d="M158.8 49.0 L159.2 50.9 L159.7 52.8 L160.2 54.6 L160.8 56.4" stroke="rgb(120,120,120)" stroke-width="0.8" stroke-dasharray="2 1.5"/>
<path d="M140.2 162.3 L138.6 163.1 L137.1 164.0 L135.6 165.0 L134.2 166.0" stroke="rgb(200,200,200)" stroke-width="1.0" stroke-dasharray="2 1.5"/>
<path d="M117.7 117.3 L119.3 120.7 L121.3 123.9 L123.7 126.7 L126.5 129.3" stroke="rgb(240,240,240)" stroke-width="1.0" stroke-dasharray="4 2"/>
<path d="M152.1 58.4 L151.3 59.9 L150.4 61.3 L149.4 62.6 L148.3 63.7" stroke="rgb(240,240,240)" stroke-width="0.8" stroke-dasharray="3 1.5"/>
<path d="M125.6 36.1 L128.6 33.6 L131.4 31.0 L134.0 28.1 L136.5 25.1" stroke="rgb(160,160,160)" stroke-width="1.0" stroke-dasharray="4 2"/>
<path d="M91.2 75.2 L91.0 76.7 L91.0 78.3 L91.1 79.8 L91.5 81.3" stroke="rgb(200,200,200)" stroke-width="1.0" stroke-dasharray="2 1.5"/>
<path d="M167.3 108.7 L169.3 109.1 L171.3 109.4 L173.3 109.6 L175.3 109.9" stroke="rgb(160,160,160)" stroke-width="0.8" stroke-dasharray="1.5 1.5"/>
<path d="M192.2 109.6 L192.2 112.0 L192.1 114.3 L191.7 116.5 L191.0 118.7" stroke="rgb(160,160,160)" stroke-width="0.8" stroke-dasharray="3 1.5"/>
<path d="M104.0 48.7 L102.4 49.4 L100.9 50.2 L99.4 51.3 L98.1 52.5" stroke="rgb(120,120,120)" stroke-width="0.8" stroke-dasharray="1.5 1.5"/>
<path d="M106.3 35.4 L109.6 34.5 L112.9 33.9 L116.3 33.7 L119.7 33.9" stroke="rgb(240,240,240)" stroke-width="0.8" stroke-dasharray="3 1.5"/>
<path d="M169.6 145.2 L169.3 142.2 L168.5 139.3 L167.3 136.5 L165.7 133.9" stroke="rgb(200,200,200)" stroke-width="0.8" stroke-dasharray="2 1.5"/>
<path d="M160.9 84.9 L160.9 87.4 L161.3 89.9 L162.0 92.3 L162.9 94.7" stroke="rgb(200,200,200)" stroke-width="1.0" stroke-dasharray="1.5 1.5"/>
<path d="M165.4 49.5 L166.4 51.7 L167.4 53.9 L168.2 56.2 L169.0 58.4" stroke="rgb(120,120,120)" stroke-width="0.8" stroke-dasharray="3 1.5"/>
<path d="M151.2 40.6 L150.1 38.8 L148.7 37.3 L147.1 36.0 L145.3 34.9" stroke="rgb(240,240,240)" stroke-width="0.8" stroke-dasharray="2 1.5"/>
<path d="M132.7 93.5 L134.4 91.1 L135.9 88.5 L137.3 86.0 L138.7 83.3" stroke="rgb(240,240,240)" stroke-width="1.0" stroke-dasharray="3 1.5"/>
<path d="M171.0 109.6 L173.8 111.4 L177.0 112.8 L180.2 113.6 L183.6 113.9" stroke="rgb(160,160,160)" stroke-width="0.8" stroke-dasharray="2 1.5"/>
<path d="M107.3 77.8 L108.3 76.6 L109.2 75.4 L109.9 74.0 L110.5 72.6" stroke="rgb(200,200,200)" stroke-width="0.8" stroke-dasharray="3 1.5"/>
<path d="M102.8 163.0 L104.7 163.2 L106.6 163.0 L108.4 162.6 L110.2 161.8" stroke="rgb(120,120,120)" stroke-width="1.0" stroke-dasharray="1.5 1.5"/>
<path d="M157.6 141.1 L157.5 143.5 L157.5 146.0 L157.7 148.4 L158.2 150.8" stroke="rgb(200,200,200)" stroke-width="0.8" stroke-dasharray="2 1.5"/>
<path d="M182.8 108.2 L182.6 106.2 L182.6 104.2 L182.5 102.2 L182.5 100.1" stroke="rgb(160,160,160)" stroke-width="0.8" stroke-dasharray="4 2"/>
<path d="M142.9 147.8 L142.0 145.3 L141.5 142.8 L141.4 140.2 L141.7 137.6" stroke="rgb(160,160,160)" stroke-width="0.8" stroke-dasharray="1.5 1.5"/>
<path d="M71.0 129.9 L70.8 127.9 L70.6 125.9 L70.5 123.9 L70.5 122.0" stroke="rgb(240,240,240)" stroke-width="1.0" stroke-dasharray="3 1.5"/>
<path d="M100.3 36.8 L99.2 38.2 L98.2 39.8 L97.4 41.5 L96.7 43.2" stroke="rgb(160,160,160)" stroke-width="1.0" stroke-dasharray="2 1.5"/>
<path d="M166.8 44.8 L167.3 46.2 L167.8 47.4 L168.5 48.7 L169.4 49.8" stroke="rgb(120,120,120)" stroke-width="1.0" stroke-dasharray="2 1.5"/>
<path d="M152.3 143.5 L149.9 145.8 L147.6 148.4 L145.5 151.0 L143.5 153.7" stroke="rgb(200,200,200)" stroke-width="0.8" stroke-dasharray="2 1.5"/>
<path d="M94.4 84.0 L92.1 83.2 L89.8 82.4 L87.4 81.8 L85.0 81.3" stroke="rgb(240,240,240)" stroke-width="0.8" stroke-dasharray="1.5 1.5"/>
<path d="M97.4 158.9 L94.9 160.1 L92.3 161.1 L89.7 162.0 L87.0 162.8" stroke="rgb(160,160,160)" stroke-width="1.0" stroke-dasharray="2 1.5"/>
<path d="M128.9 47.9 L127.2 44.7 L125.2 41.6 L122.9 38.8 L120.2 36.3" stroke="rgb(240,240,240)" stroke-width="0.8" stroke-dasharray="4 2"/>
<path d="M115.3 166.1 L113.9 166.8 L112.5 167.5 L111.1 168.2 L109.7 168.9" stroke="rgb(200,200,200)" stroke-width="0.8" stroke-dasharray="1.5 1.5"/>
<path d="M151.0 111.1 L153.0 110.5 L154.9 109.8 L156.7 109.0 L158.5 108.0" stroke="rgb(240,240,240)" stroke-width="0.8" stroke-dasharray="1.5 1.5"/>
<path d="M85.5 145.6 L86.0 144.2 L86.7 143.0 L87.6 141.8 L88.7 140.8" stroke="rgb(240,240,240)" stroke-width="0.8" stroke-dasharray="4 2"/>
<path d="M124.5 46.0 L123.9 43.5 L123.0 41.1 L121.8 38.8 L120.4 36.6" stroke="rgb(240,240,240)" stroke-width="0.8" stroke-dasharray="3 1.5"/>
<path d="M145.4 135.0 L146.5 136.1 L147.5 137.3 L148.3 138.6 L148.9 140.0" stroke="rgb(160,160,160)" stroke-width="1.0" stroke-dasharray="3 1.5"/>
<path d="M81.9 98.0 L82.4 94.4 L83.4 90.9 L84.8 87.5 L86.6 84.4" stroke="rgb(200,200,200)" stroke-width="1.0" stroke-dasharray="4 2"/>
<path d="M103.4 123.3 L104.7 122.5 L106.0 121.7 L107.4 121.1 L108.8 120.5" stroke="rgb(120,120,120)" stroke-width="1.0" stroke-dasharray="1.5 1.5"/>
<path d="M131.5 94.6 L132.7 95.3 L133.9 96.1 L135.0 96.9 L136.0 97.8" stroke="rgb(120,120,120)" stroke-width="0.8" stroke-dasharray="4 2"/>
<path d="M86.9 79.6 L83.5 79.8 L80.3 80.5 L77.1 81.8 L74.3 83.6" stroke="rgb(160,160,160)" stroke-width="0.8" stroke-dasharray="1.5 1.5"/>
<path d="M83.1 49.0 L86.7 50.2 L90.0 51.8 L93.1 53.9 L95.9 56.4" stroke="rgb(160,160,160)" stroke-width="1.0" stroke-dasharray="1.5 1.5"/>
<path d="M111.1 62.1 L109.1 60.8 L107.2 59.6 L105.2 58.3 L103.3 57.0" stroke="rgb(160,160,160)" stroke-width="1.0" stroke-dasharray="1.5 1.5"/>
<path d="M181.0 110.6 L182.1 109.5 L183.2 108.5 L184.2 107.4 L185.4 106.4" stroke="rgb(200,200,200)" stroke-width="0.8" stroke-dasharray="1.5 1.5"/>
<path d="M162.9 64.9 L164.2 67.9 L166.0 70.6 L168.2 73.1 L170.8 75.2" stroke="rgb(160,160,160)" stroke-width="1.0" stroke-dasharray="4 2"/>
<path d="M178.5 109.4 L182.3 110.3 L186.2 110.8 L190.2 110.9 L194.1 110.6" stroke="rgb(160,160,160)" stroke-width="1.0" stroke-dasharray="3 1.5"/>
<path d="M131.6 52.3 L133.6 52.6 L135.6 52.9 L137.5 53.3 L139.5 53.7" stroke="rgb(240,240,240)" stroke-width="1.0" stroke-dasharray="1.5 1.5"/>
<path d="M185.8 100.4 L185.8 101.9 L185.8 103.5 L185.6 105.0 L185.4 106.6" stroke="rgb(200,200,200)" stroke-width="1.0" stroke-dasharray="4 2"/>
<path d="M158.3 87.8 L159.0 85.9 L159.5 84.0 L159.7 82.0 L159.7 80.0" stroke="rgb(160,160,160)" stroke-width="1.0" stroke-dasharray="3 1.5"/>
<path d="M139.1 82.5 L138.7 78.9 L138.8 75.2 L139.1 71.6 L139.8 68.1" stroke="rgb(120,120,120)" stroke-width="1.0" stroke-dasharray="3 1.5"/>
<path d="M89.6 79.4 L86.6 77.0 L83.4 74.9 L80.1 72.9 L76.7 71.1" stroke="rgb(160,160,160)" stroke-width="0.8" stroke-dasharray="4 2"/>
<path d="M117.5 170.1 L116.0 171.5 L114.6 173.0 L113.2 174.5 L111.8 176.0" stroke="rgb(200,200,200)" stroke-width="0.8" stroke-dasharray="4 2"/>
<path d="M137.7 66.5 L136.2 63.4 L135.1 60.2 L134.4 56.9 L134.1 53.5" stroke="rgb(200,200,200)" stroke-width="0.8" stroke-dasharray="2 1.5"/>
<path d="M183.6 115.3 L184.2 118.7 L184.2 122.2 L183.6 125.6 L182.5 128.9" stroke="rgb(160,160,160)" stroke-width="1.0" stroke-dasharray="4 2"/>
<path d="M147.5 127.4 L145.8 128.0 L143.9 128.5 L142.1 128.9 L140.2 129.1" stroke="rgb(160,160,160)" stroke-width="1.0" stroke-dasharray="2 1.5"/>
<path d="M93.8 49.1 L94.4 45.8 L95.4 42.5 L96.7 39.4 L98.3 36.4" stroke="rgb(240,240,240)" stroke-width="0.8" stroke-dasharray="3 1.5"/>
<path d="M121.0 126.3 L121.4 124.3 L122.1 122.4 L123.0 120.5 L124.1 118.8" stroke="rgb(200,200,200)" stroke-width="0.8" stroke-dasharray="2 1.5"/>
<path d="M170.4 115.4 L174.3 115.1 L178.2 115.1 L182.0 115.3 L185.9 115.9" stroke="rgb(240,240,240)" stroke-width="0.8" stroke-dasharray="3 1.5"/>
<path d="M108.6 174.8 L106.3 177.4 L104.2 180.1 L102.1 182.9 L100.0 185.7" stroke="rgb(160,160,160)" stroke-width="1.0" stroke-dasharray="1.5 1.5"/>
<path d="M162.5 162.7 L161.1 163.0 L159.8 163.4 L158.5 164.1 L157.3 165.0" stroke="rgb(120,120,120)" stroke-width="1.0" stroke-dasharray="2 1.5"/>
<path d="M75.5 123.5 L75.6 121.9 L75.8 120.2 L76.1 118.6 L76.6 117.1" stroke="rgb(240,240,240)" stroke-width="0.8" stroke-dasharray="4 2"/>
<path d="M168.3 100.1 L167.6 97.7 L166.7 95.4 L165.7 93.1 L164.5 90.9" stroke="rgb(240,240,240)" stroke-width="0.8" stroke-dasharray="2 1.5"/>
<path d="M174.0 65.8 L174.8 64.6 L175.6 63.3 L176.3 62.1 L177.1 60.8" stroke="rgb(240,240,240)" stroke-width="0.8" stroke-dasharray="4 2"/>
<path d="M120.4 96.2 L123.1 95.2 L125.8 93.9 L128.3 92.4 L130.6 90.6" stroke="rgb(120,120,120)" stroke-width="1.0" stroke-dasharray="1.5 1.5"/>
<path d="M142.4 103.8 L141.6 102.9 L140.8 101.9 L140.0 101.0 L139.2 100.0" stroke="rgb(120,120,120)" stroke-width="1.0" stroke-dasharray="2 1.5"/>
<path d="M178.7 97.1 L177.2 95.7 L175.5 94.5 L173.8 93.4 L171.9 92.5" stroke="rgb(240,240,240)" stroke-width="0.8" stroke-dasharray="3 1.5"/>
<path d="M129.6 49.7 L129.2 47.8 L129.0 45.9 L129.0 44.0 L129.4 42.1" stroke="rgb(120,120,120)" stroke-width="0.8" stroke-dasharray="4 2"/>
<path d="M108.4 42.9 L107.6 40.3 L106.5 37.8 L105.3 35.4 L103.9 33.1" stroke="rgb(200,200,200)" stroke-width="0.8" stroke-dasharray="4 2"/>
<path d="M178.7 154.5 L179.5 157.9 L179.7 161.3 L179.3 164.8 L178.3 168.1" stroke="rgb(240,240,240)" stroke-width="1.0" stroke-dasharray="3 1.5"/>
<path d="M118.8 156.4 L116.7 158.0 L114.4 159.4 L112.0 160.6 L109.5 161.4" stroke="rgb(200,200,200)" stroke-width="1.0" stroke-dasharray="4 2"/>
<path d="M102.7 37.8 L106.3 38.3 L109.9 38.4 L113.4 38.0 L116.9 37.1" stroke="rgb(240,240,240)" stroke-width="0.8" stroke-dasharray="1.5 1.5"/>
<path d="M93.6 141.8 L91.9 145.1 L90.7 148.6 L89.8 152.2 L89.4 155.8" stroke="rgb(160,160,160)" stroke-width="1.0" stroke-dasharray="3 1.5"/>
<path d="M153.9 32.1 L156.6 32.4 L159.3 32.6 L162.0 32.8 L164.6 33.0" stroke="rgb(240,240,240)" stroke-width="1.0" stroke-dasharray="4 2"/>
<path d="M105.6 161.0 L103.5 161.9 L101.2 162.6 L98.9 163.0 L96.5 163.2" stroke="rgb(160,160,160)" stroke-width="1.0" stroke-dasharray="4 2"/>
<path d="M107.3 180.1 L107.2 181.4 L107.1 182.8 L107.1 184.2 L107.2 185.5" stroke="rgb(120,120,120)" stroke-width="0.8" stroke-dasharray="4 2"/>
<path d="M189.9 97.2 L190.9 100.0 L192.0 102.8 L193.2 105.5 L194.3 108.2" stroke="rgb(200,200,200)" stroke-width="0.8" stroke-dasharray="4 2"/>
<path d="M123.0 122.7 L119.4 122.2 L115.7 121.6 L112.1 121.0 L108.4 120.5" stroke="rgb(200,200,200)" stroke-width="1.0" stroke-dasharray="1.5 1.5"/>
<path d="M163.0 113.2 L161.8 115.9 L160.8 118.7 L159.9 121.5 L159.2 124.4" stroke="rgb(160,160,160)" stroke-width="1.0" stroke-dasharray="1.5 1.5"/>
<path d="M153.3 86.9 L153.0 85.4 L152.8 83.9 L152.7 82.3 L152.6 80.7" stroke="rgb(200,200,200)" stroke-width="1.0" stroke-dasharray="2 1.5"/>
<path d="M91.5 128.5 L92.0 126.1 L92.7 123.8 L93.7 121.5 L94.8 119.3" stroke="rgb(120,120,120)" stroke-width="1.0" stroke-dasharray="4 2"/>
<path d="M128.0 174.3 L124.3 173.4 L120.5 172.5 L116.8 171.6 L113.0 170.8" stroke="rgb(160,160,160)" stroke-width="0.8" stroke-dasharray="4 2"/>
<path d="M154.4 112.4 L154.4 109.3 L154.9 106.2 L155.7 103.1 L156.9 100.3" stroke="rgb(120,120,120)" stroke-width="1.0" stroke-dasharray="2 1.5"/>
<path d="M143.9 108.8 L141.8 110.0 L139.8 111.3 L137.9 112.7 L136.1 114.1" stroke="rgb(240,240,240)" stroke-width="1.0" stroke-dasharray="3 1.5"/>
<path d="M155.3 92.6 L158.8 91.3 L162.4 90.2 L166.0 89.5 L169.7 89.0" stroke="rgb(160,160,160)" stroke-width="1.0" stroke-dasharray="1.5 1.5"/>
<path d="M132.3 163.7 L129.5 164.4 L126.9 165.5 L124.4 167.0 L122.2 168.9" stroke="rgb(200,200,200)" stroke-width="0.8" stroke-dasharray="1.5 1.5"/>
<path d="M161.6 102.0 L159.8 99.7 L157.6 97.7 L155.2 96.0 L152.6 94.7" stroke="rgb(160,160,160)" stroke-width="0.8" stroke-dasharray="3 1.5"/>
<path d="M69.0 129.4 L69.1 126.4 L69.1 123.4 L68.9 120.4 L68.6 117.4" stroke="rgb(240,240,240)" stroke-width="1.0" stroke-dasharray="1.5 1.5"/>
<path d="M140.1 164.5 L137.4 166.9 L134.5 169.1 L131.5 171.2 L128.4 173.2" stroke="rgb(200,200,200)" stroke-width="0.8" stroke-dasharray="4 2"/>
<path d="M86.8 120.4 L87.9 123.8 L89.1 127.2 L90.3 130.5 L91.7 133.9" stroke="rgb(120,120,120)" stroke-width="1.0" stroke-dasharray="4 2"/>
<path d="M114.1 35.5 L110.5 34.6 L106.9 33.4 L103.4 32.0 L100.1 30.3" stroke="rgb(240,240,240)" stroke-width="0.8" stroke-dasharray="1.5 1.5"/>
<path d="M120.9 56.6 L119.6 55.5 L118.4 54.2 L117.4 52.8 L116.5 51.3" stroke="rgb(120,120,120)" stroke-width="0.8" stroke-dasharray="3 1.5"/>
<path d="M101.0 57.6 L98.0 59.9 L95.0 62.4 L92.2 65.0 L89.4 67.7" stroke="rgb(200,200,200)" stroke-width="0.8" stroke-dasharray="2 1.5"/>
<path d="M115.5 174.0 L113.9 174.5 L112.3 175.2 L110.8 176.0 L109.4 177.0" stroke="rgb(120,120,120)" stroke-width="1.0" stroke-dasharray="4 2"/>
<path d="M81.6 120.7 L78.3 122.4 L75.1 124.4 L72.2 126.8 L69.5 129.3" stroke="rgb(160,160,160)" stroke-width="1.0" stroke-dasharray="1.5 1.5"/>
<path d="M151.0 113.9 L152.8 115.1 L154.5 116.5 L156.0 118.1 L157.4 119.8" stroke="rgb(200,200,200)" stroke-width="0.8" stroke-dasharray="2 1.5"/>
<path d="M129.1 124.2 L130.3 126.7 L131.6 129.1 L133.1 131.4 L134.6 133.8" stroke="rgb(240,240,240)" stroke-width="0.8" stroke-dasharray="1.5 1.5"/>
<path d="M85.4 87.5 L83.7 87.8 L82.1 88.5 L80.7 89.3 L79.4 90.5" stroke="rgb(200,200,200)" stroke-width="1.0" stroke-dasharray="1.5 1.5"/>
<path d="M100.8 60.1 L102.3 61.7 L103.9 63.2 L105.6 64.6 L107.4 65.8" stroke="rgb(160,160,160)" stroke-width="1.0" stroke-dasharray="4 2"/>
<path d="M83.6 79.5 L83.3 76.4 L83.5 73.3 L84.1 70.2 L85.2 67.3" stroke="rgb(120,120,120)" stroke-width="1.0" stroke-dasharray="1.5 1.5"/>
<path d="M111.1 80.4 L114.5 81.0 L117.8 81.9 L121.0 83.1 L124.1 84.5" stroke="rgb(200,200,200)" stroke-width="1.0" stroke-dasharray="3 1.5"/>
<path d="M96.3 162.0 L94.5 164.2 L92.4 166.0 L90.1 167.5 L87.5 168.6" stroke="rgb(240,240,240)" stroke-width="0.8" stroke-dasharray="3 1.5"/>
<path d="M82.6 111.5 L78.8 111.1 L74.9 111.2 L71.2 111.9 L67.5 113.1" stroke="rgb(120,120,120)" stroke-width="0.8" stroke-dasharray="1.5 1.5"/>
<path d="M81.8 89.8 L79.4 89.2 L77.0 88.7 L74.6 88.2 L72.2 87.7" stroke="rgb(160,160,160)" stroke-width="0.8" stroke-dasharray="3 1.5"/>
<path d="M87.8 127.6 L86.5 129.0 L85.1 130.1 L83.5 131.0 L81.8 131.7" stroke="rgb(160,160,160)" stroke-width="1.0" stroke-dasharray="2 1.5"/>
<path d="M108.6 175.8 L106.9 178.4 L105.5 181.0 L104.3 183.8 L103.3 186.7" stroke="rgb(120,120,120)" stroke-width="0.8" stroke-dasharray="4 2"/>
<path d="M175.8 66.7 L177.0 68.1 L178.3 69.2 L179.8 70.1 L181.4 70.8" stroke="rgb(120,120,120)" stroke-width="0.8" stroke-dasharray="3 1.5"/>
<path d="M103.3 141.7 L99.8 141.2 L96.4 140.1 L93.3 138.4 L90.5 136.2" stroke="rgb(160,160,160)" stroke-width="0.8" stroke-dasharray="3 1.5"/>
<path d="M101.7 136.6 L100.6 138.9 L99.7 141.3 L99.1 143.8 L98.7 146.4" stroke="rgb(120,120,120)" stroke-width="1.0" stroke-dasharray="3 1.5"/>
<path d="M109.6 146.4 L108.3 143.3 L106.8 140.3 L105.0 137.5 L103.0 134.8" stroke="rgb(200,200,200)" stroke-width="1.0" stroke-dasharray="3 1.5"/>
<path d="M83.4 122.5 L81.7 122.9 L80.1 123.5 L78.5 124.2 L77.0 124.9" stroke="rgb(240,240,240)" stroke-width="0.8" stroke-dasharray="3 1.5"/>
<path d="M129.9 33.6 L132.7 31.9 L135.5 30.1 L138.3 28.4 L141.1 26.6" stroke="rgb(240,240,240)" stroke-width="1.0" stroke-dasharray="4 2"/>
<path d="M194.4 108.7 L194.1 112.5 L193.5 116.2 L192.7 119.9 L191.7 123.6" stroke="rgb(160,160,160)" stroke-width="0.8" stroke-dasharray="3 1.5"/>
<path d="M70.7 118.1 L71.2 115.9 L71.8 113.7 L72.5 111.5 L73.2 109.4" stroke="rgb(120,120,120)" stroke-width="0.8" stroke-dasharray="4 2"/>
<path d="M172.9 130.2 L174.0 129.6 L175.3 129.3 L176.5 129.1 L177.8 129.2" stroke="rgb(120,120,120)" stroke-width="0.8" stroke-dasharray="3 1.5"/>
<path d="M146.7 124.0 L145.9 122.2 L145.3 120.4 L144.8 118.5 L144.5 116.6" stroke="rgb(240,240,240)" stroke-width="0.8" stroke-dasharray="1.5 1.5"/>
<path d="M190.3 109.7 L190.1 111.1 L190.0 112.5 L189.8 113.9 L189.6 115.3" stroke="rgb(160,160,160)" stroke-width="1.0" stroke-dasharray="4 2"/>
<path d="M151.7 105.5 L149.3 105.4 L146.9 105.5 L144.6 105.6 L142.2 105.9" stroke="rgb(200,200,200)" stroke-width="0.8" stroke-dasharray="3 1.5"/>
<path d="M141.3 89.5 L139.7 88.4 L138.2 87.0 L137.1 85.4 L136.2 83.6" stroke="rgb(120,120,120)" stroke-width="0.8" stroke-dasharray="1.5 1.5"/>
<path d="M175.7 169.8 L175.2 167.7 L174.4 165.8 L173.3 163.9 L172.0 162.2" stroke="rgb(240,240,240)" stroke-width="0.8" stroke-dasharray="3 1.5"/>
<path d="M122.3 167.4 L122.3 165.2 L122.3 162.9 L122.4 160.6 L122.6 158.4" stroke="rgb(200,200,200)" stroke-width="1.0" stroke-dasharray="1.5 1.5"/>
<path d="M187.2 173.8 L186.9 170.2 L186.6 166.6 L186.2 163.0 L185.9 159.4" stroke="rgb(160,160,160)" stroke-width="1.0" stroke-dasharray="4 2"/>
<path d="M132.0 88.3 L130.7 86.4 L129.5 84.4 L128.2 82.4 L127.1 80.3" stroke="rgb(240,240,240)" stroke-width="1.0" stroke-dasharray="1.5 1.5"/>
<path d="M135.9 38.2 L134.5 34.9 L132.8 31.7 L130.7 28.7 L128.3 26.0" stroke="rgb(120,120,120)" stroke-width="1.0" stroke-dasharray="4 2"/>
<path d="M149.6 127.1 L150.9 127.0 L152.3 127.1 L153.7 127.4 L155.0 127.8" stroke="rgb(200,200,200)" stroke-width="0.8" stroke-dasharray="3 1.5"/>
<path d="M170.5 74.5 L167.4 75.0 L164.2 75.0 L161.0 74.6 L157.9 73.7" stroke="rgb(160,160,160)" stroke-width="1.0" stroke-dasharray="3 1.5"/>
<path d="M113.0 50.0 L111.4 47.0 L109.4 44.2 L107.2 41.6 L104.7 39.3" stroke="rgb(120,120,120)" stroke-width="0.8" stroke-dasharray="4 2"/>
<path d="M85.9 155.4 L82.0 156.0 L78.3 157.1 L74.7 158.5 L71.2 160.3" stroke="rgb(240,240,240)" stroke-width="1.0" stroke-dasharray="4 2"/>
<path d="M126.0 172.0 L124.6 172.2 L123.2 172.4 L121.9 172.5 L120.5 172.6" stroke="rgb(240,240,240)" stroke-width="0.8" stroke-dasharray="3 1.5"/>
<path d="M188.8 160.6 L186.4 161.6 L184.3 163.0 L182.3 164.7 L180.7 166.6" stroke="rgb(240,240,240)" stroke-width="1.0" stroke-dasharray="2 1.5"/>
<path d="M147.1 111.1 L149.5 109.6 L151.9 108.2 L154.4 106.8 L157.0 105.5" stroke="rgb(120,120,120)" stroke-width="1.0" stroke-dasharray="2 1.5"/>
<path d="M89.3 47.5 L88.9 44.0 L88.6 40.5 L88.3 37.0 L88.0 33.5" stroke="rgb(160,160,160)" stroke-width="0.8" stroke-dasharray="2 1.5"/>
<path d="M124.5 96.0 L126.5 97.5 L128.6 98.8 L130.9 99.9 L133.3 100.7" stroke="rgb(160,160,160)" stroke-width="1.0" stroke-dasharray="3 1.5"/>
<path d="M172.9 114.4 L175.1 115.4 L177.2 116.6 L179.1 118.0 L180.8 119.6" stroke="rgb(160,160,160)" stroke-width="1.0" stroke-dasharray="2 1.5"/>
<path d="M170.2 71.1 L167.3 73.3 L164.3 75.5 L161.3 77.6 L158.3 79.7" stroke="rgb(240,240,240)" stroke-width="1.0" stroke-dasharray="1.5 1.5"/>
<path d="M159.3 102.2 L155.6 101.3 L151.9 100.4 L148.2 99.6 L144.4 98.8" stroke="rgb(120,120,120)" stroke-width="1.0" stroke-dasharray="1.5 1.5"/>
<path d="M91.8 123.6 L94.9 121.8 L98.1 120.3 L101.5 119.1 L104.9 118.3" stroke="rgb(200,200,200)" stroke-width="0.8" stroke-dasharray="3 1.5"/>
<path d="M112.6 140.3 L111.0 142.0 L109.3 143.6 L107.5 145.1 L105.6 146.5" stroke="rgb(160,160,160)" stroke-width="0.8" stroke-dasharray="3 1.5"/>
<path d="M134.2 71.9 L134.7 70.7 L135.2 69.5 L135.8 68.4 L136.4 67.2" stroke="rgb(120,120,120)" stroke-width="1.0" stroke-dasharray="4 2"/>
<path d="M141.1 142.8 L143.2 142.1 L145.4 141.7 L147.7 141.5 L150.0 141.5" stroke="rgb(120,120,120)" stroke-width="0.8" stroke-dasharray="2 1.5"/>
<path d="M78.1 80.0 L79.7 76.9 L81.7 74.1 L84.2 71.7 L87.0 69.6" stroke="rgb(120,120,120)" stroke-width="1.0" stroke-dasharray="4 2"/>
<path d="M152.5 129.5 L151.6 131.5 L150.9 133.6 L150.5 135.8 L150.4 138.0" stroke="rgb(160,160,160)" stroke-width="0.8" stroke-dasharray="4 2"/>
<path d="M167.0 94.0 L168.1 92.0 L168.8 89.8 L169.2 87.6 L169.2 85.4" stroke="rgb(200,200,200)" stroke-width="0.8" stroke-dasharray="2 1.5"/>
<path d="M178.0 127.9 L175.1 126.3 L172.4 124.5 L169.9 122.6 L167.4 120.5" stroke="rgb(120,120,120)" stroke-width="0.8" stroke-dasharray="1.5 1.5"/>
<path d="M113.4 129.2 L111.1 127.5 L109.2 125.4 L107.6 123.0 L106.4 120.4" stroke="rgb(240,240,240)" stroke-width="1.0" stroke-dasharray="3 1.5"/>
<path d="M140.3 104.5 L136.6 104.9 L132.9 105.3 L129.2 105.5 L125.5 105.6" stroke="rgb(160,160,160)" stroke-width="1.0" stroke-dasharray="1.5 1.5"/>
<path d="M106.5 105.2 L108.0 103.7 L109.7 102.4 L111.5 101.4 L113.5 100.6" stroke="rgb(200,200,200)" stroke-width="0.8" stroke-dasharray="3 1.5"/>
<path d="M113.0 136.1 L110.3 136.4 L107.6 136.9 L104.9 137.4 L102.2 138.0" stroke="rgb(200,200,200)" stroke-width="1.0" stroke-dasharray="4 2"/>
<path d="M191.5 128.9 L193.8 129.2 L196.0 129.8 L198.0 130.9 L199.9 132.2" stroke="rgb(160,160,160)" stroke-width="0.8" stroke-dasharray="4 2"/>
<path d="M143.3 113.4 L140.1 114.3 L136.8 114.6 L133.5 114.4 L130.3 113.6" stroke="rgb(240,240,240)" stroke-width="1.0" stroke-dasharray="3 1.5"/>
<path d="M191.1 96.9 L191.6 100.0 L192.6 103.0 L193.8 105.8 L195.4 108.5" stroke="rgb(240,240,240)" stroke-width="0.8" stroke-dasharray="2 1.5"/>
<path d="M145.0 100.5 L145.9 97.0 L146.3 93.5 L146.4 90.0 L146.0 86.4" stroke="rgb(240,240,240)" stroke-width="0.8" stroke-dasharray="4 2"/>
<path d="M185.2 99.2 L188.1 99.0 L190.8 98.5 L193.6 97.8 L196.3 96.8" stroke="rgb(160,160,160)" stroke-width="0.8" stroke-dasharray="2 1.5"/>
<path d="M181.6 97.9 L180.7 99.0 L179.9 100.2 L179.2 101.5 L178.6 102.8" stroke="rgb(200,200,200)" stroke-width="0.8" stroke-dasharray="1.5 1.5"/>
<path d="M78.2 150.4 L75.9 151.0 L73.5 151.3 L71.1 151.4 L68.7 151.3" stroke="rgb(240,240,240)" stroke-width="1.0" stroke-dasharray="2 1.5"/>
<path d="M76.2 116.3 L73.8 115.0 L71.7 113.3 L69.9 111.3 L68.4 109.0" stroke="rgb(160,160,160)" stroke-width="1.0" stroke-dasharray="2 1.5"/>
<path d="M153.3 117.5 L155.9 118.0 L158.3 119.0 L160.6 120.4 L162.5 122.2" stroke="rgb(200,200,200)" stroke-width="1.0" stroke-dasharray="2 1.5"/>
<path d="M155.7 108.7 L153.3 110.4 L151.0 112.3 L148.8 114.3 L146.7 116.5" stroke="rgb(240,240,240)" stroke-width="1.0" stroke-dasharray="2 1.5"/>
<path d="M80.5 62.4 L81.8 62.4 L83.0 62.2 L84.3 62.0 L85.5 61.6" stroke="rgb(160,160,160)" stroke-width="1.0" stroke-dasharray="3 1.5"/>
<path d="M146.8 82.9 L145.9 80.8 L144.7 78.9 L143.2 77.2 L141.4 75.8" stroke="rgb(200,200,200)" stroke-width="1.0" stroke-dasharray="1.5 1.5"/>
<path d="M174.7 88.1 L177.3 87.8 L179.9 87.6 L182.4 87.3 L185.0 86.9" stroke="rgb(120,120,120)" stroke-width="0.8" stroke-dasharray="4 2"/>
<path d="M105.2 58.9 L107.1 59.9 L108.8 61.0 L110.3 62.4 L111.7 64.0" stroke="rgb(160,160,160)" stroke-width="1.0" stroke-dasharray="1.5 1.5"/>
<path d="M196.1 148.9 L196.4 152.7 L197.1 156.4 L198.2 160.1 L199.6 163.6" stroke="rgb(240,240,240)" stroke-width="1.0" stroke-dasharray="3 1.5"/>
<path d="M192.6 112.7 L192.9 116.1 L193.6 119.5 L194.6 122.7 L195.8 125.9" stroke="rgb(200,200,200)" stroke-width="0.8" stroke-dasharray="3 1.5"/>
<path d="M191.6 95.0 L191.9 98.5 L192.5 101.9 L193.2 105.4 L194.3 108.7" stroke="rgb(240,240,240)" stroke-width="1.0" stroke-dasharray="4 2"/>
<path d="M92.2 150.4 L95.4 149.3 L98.3 147.8 L101.0 145.8 L103.5 143.6" stroke="rgb(160,160,160)" stroke-width="0.8" stroke-dasharray="3 1.5"/>
<path d="M185.8 132.9 L188.3 134.0 L190.7 135.5 L192.8 137.4 L194.5 139.5" stroke="rgb(160,160,160)" stroke-width="0.8" stroke-dasharray="3 1.5"/>
<path d="M155.2 130.9 L156.8 128.3 L158.0 125.6 L158.9 122.7 L159.4 119.7" stroke="rgb(200,200,200)" stroke-width="0.8" stroke-dasharray="4 2"/>
<path d="M182.3 111.0 L185.8 110.1 L189.3 109.1 L192.8 108.0 L196.3 106.8" stroke="rgb(120,120,120)" stroke-width="1.0" stroke-dasharray="2 1.5"/>
<path d="M72.9 131.4 L73.4 128.7 L74.3 126.1 L75.5 123.7 L77.0 121.5" stroke="rgb(240,240,240)" stroke-width="0.8" stroke-dasharray="3 1.5"/>
<path d="M192.6 160.3 L193.6 162.2 L194.3 164.2 L194.8 166.2 L195.0 168.3" stroke="rgb(240,240,240)" stroke-width="0.8" stroke-dasharray="2 1.5"/>
<path d="M165.1 154.1 L166.8 150.6 L168.0 147.0 L168.7 143.3 L168.9 139.5" stroke="rgb(160,160,160)" stroke-width="0.8" stroke-dasharray="4 2"/>
<path d="M172.6 98.2 L171.1 96.7 L169.6 95.3 L167.9 94.0 L166.2 92.8" stroke="rgb(200,200,200)" stroke-width="1.0" stroke-dasharray="2 1.5"/>
<path d="M201.9 145.9 L199.5 148.8 L196.9 151.5 L193.9 153.8 L190.6 155.7" stroke="rgb(120,120,120)" stroke-width="1.0" stroke-dasharray="2 1.5"/>
<path d="M171.3 124.8 L169.8 124.5 L168.2 124.4 L166.6 124.5 L165.0 124.9" stroke="rgb(200,200,200)" stroke-width="0.8" stroke-dasharray="3 1.5"/>
<path d="M84.0 156.2 L86.7 157.4 L89.4 158.6 L92.1 159.7 L94.8 160.7" stroke="rgb(120,120,120)" stroke-width="0.8" stroke-dasharray="4 2"/>
<path d="M162.9 152.5 L163.1 153.9 L163.2 155.3 L163.1 156.7 L162.8 158.1" stroke="rgb(120,120,120)" stroke-width="1.0" stroke-dasharray="2 1.5"/>
<path d="M98.6 147.2 L97.2 147.9 L95.7 148.6 L94.1 149.1 L92.5 149.6" stroke="rgb(200,200,200)" stroke-width="0.8" stroke-dasharray="4 2"/>
<path d="M126.6 142.3 L125.0 139.2 L123.3 136.2 L121.6 133.1 L119.8 130.1" stroke="rgb(120,120,120)" stroke-width="1.0" stroke-dasharray="2 1.5"/>
<path d="M163.9 117.8 L163.0 121.5 L162.6 125.4 L162.9 129.2 L163.8 133.0" stroke="rgb(240,240,240)" stroke-width="1.0" stroke-dasharray="1.5 1.5"/>
<path d="M170.0 125.2 L168.7 126.8 L167.5 128.4 L166.2 130.0 L164.9 131.6" stroke="rgb(120,120,120)" stroke-width="0.8" stroke-dasharray="4 2"/>
<path d="M93.8 127.5 L92.0 127.4 L90.2 127.0 L88.6 126.4 L87.0 125.6" stroke="rgb(200,200,200)" stroke-width="1.0" stroke-dasharray="2 1.5"/>
<path d="M137.0 80.0 L136.9 78.1 L136.6 76.2 L136.2 74.3 L135.6 72.4" stroke="rgb(160,160,160)" stroke-width="0.8" stroke-dasharray="3 1.5"/>
<path d="M143.6 75.5 L145.1 78.6 L146.5 81.7 L147.9 84.9 L149.2 88.1" stroke="rgb(120,120,120)" stroke-width="0.8" stroke-dasharray="2 1.5"/>
<path d="M143.7 108.2 L144.0 110.0 L144.1 111.8 L144.1 113.5 L144.0 115.3" stroke="rgb(240,240,240)" stroke-width="1.0" stroke-dasharray="1.5 1.5"/>
<path d="M187.1 112.4 L186.1 109.5 L185.6 106.5 L185.7 103.4 L186.2 100.4" stroke="rgb(200,200,200)" stroke-width="0.8" stroke-dasharray="4 2"/>
<path d="M102.3 126.2 L104.0 124.0 L105.4 121.7 L106.4 119.1 L107.0 116.4" stroke="rgb(160,160,160)" stroke-width="1.0" stroke-dasharray="1.5 1.5"/>
<path d="M74.1 95.2 L76.2 93.6 L78.5 92.4 L80.9 91.6 L83.5 91.3" stroke="rgb(120,120,120)" stroke-width="1.0" stroke-dasharray="3 1.5"/>
<path d="M149.4 97.2 L148.5 94.0 L147.2 90.9 L145.7 87.9 L144.0 85.0" stroke="rgb(200,200,200)" stroke-width="0.8" stroke-dasharray="3 1.5"/>
<path d="M128.7 114.0 L125.1 112.6 L121.7 111.0 L118.4 109.1 L115.2 107.0" stroke="rgb(120,120,120)" stroke-width="1.0" stroke-dasharray="3 1.5"/>
<path d="M136.2 127.9 L138.0 127.7 L139.7 127.3 L141.3 126.5 L142.7 125.5" stroke="rgb(160,160,160)" stroke-width="1.0" stroke-dasharray="3 1.5"/>
<path d="M108.9 110.4 L109.5 106.5 L110.6 102.8 L112.1 99.2 L114.1 95.8" stroke="rgb(240,240,240)" stroke-width="1.0" stroke-dasharray="3 1.5"/>
<path d="M153.8 107.5 L153.1 105.1 L152.7 102.7 L152.6 100.3 L152.7 97.8" stroke="rgb(160,160,160)" stroke-width="0.8" stroke-dasharray="1.5 1.5"/>
<path d="M156.9 112.3 L159.5 112.9 L162.0 113.9 L164.2 115.3 L166.2 117.0" stroke="rgb(200,200,200)" stroke-width="1.0" stroke-dasharray="1.5 1.5"/>
<path d="M154.9 142.9 L155.1 145.8 L155.0 148.7 L154.4 151.5 L153.4 154.2" stroke="rgb(240,240,240)" stroke-width="1.0" stroke-dasharray="1.5 1.5"/>
<path d="M100.0 186.9 L101.4 184.7 L103.0 182.5 L104.7 180.5 L106.6 178.6" stroke="rgb(240,240,240)" stroke-width="1.0" stroke-dasharray="4 2"/>
<path d="M150.2 118.4 L150.4 115.1 L150.9 111.7 L151.7 108.5 L152.9 105.3" stroke="rgb(120,120,120)" stroke-width="0.8" stroke-dasharray="1.5 1.5"/>
<path d="M174.4 66.0 L176.5 65.7 L178.6 65.5 L180.7 65.5 L182.8 65.6" stroke="rgb(160,160,160)" stroke-width="0.8" stroke-dasharray="3 1.5"/>
<path d="M89.8 51.7 L88.5 50.5 L87.4 49.2 L86.5 47.7 L85.8 46.1" stroke="rgb(120,120,120)" stroke-width="1.0" stroke-dasharray="1.5 1.5"/>
<path d="M117.9 168.5 L120.7 170.2 L123.3 172.3 L125.6 174.6 L127.7 177.1" stroke="rgb(120,120,120)" stroke-width="0.8" stroke-dasharray="3 1.5"/>
<path d="M170.7 157.0 L169.3 157.9 L168.0 159.0 L166.8 160.1 L165.8 161.4" stroke="rgb(200,200,200)" stroke-width="0.8" stroke-dasharray="3 1.5"/>
<path d="M102.4 149.0 L104.0 149.1 L105.6 149.2 L107.1 149.3 L108.7 149.3" stroke="rgb(160,160,160)" stroke-width="0.8" stroke-dasharray="4 2"/>
<path d="M79.8 154.9 L78.8 152.6 L78.2 150.2 L77.9 147.7 L78.1 145.2" stroke="rgb(120,120,120)" stroke-width="0.8" stroke-dasharray="2 1.5"/>
<path d="M103.9 164.0 L101.1 165.0 L98.3 166.2 L95.6 167.6 L93.0 169.1" stroke="rgb(160,160,160)" stroke-width="1.0" stroke-dasharray="2 1.5"/>
<path d="M136.5 142.3 L134.1 140.6 L131.6 139.1 L129.0 138.0 L126.2 137.1" stroke="rgb(240,240,240)" stroke-width="0.8" stroke-dasharray="4 2"/>
<path d="M75.1 133.2 L73.6 134.0 L72.2 135.0 L71.1 136.3 L70.2 137.7" stroke="rgb(160,160,160)" stroke-width="1.0" stroke-dasharray="1.5 1.5"/>
<path d="M143.5 48.6 L141.3 47.1 L139.2 45.3 L137.4 43.2 L136.0 41.0" stroke="rgb(200,200,200)" stroke-width="1.0" stroke-dasharray="3 1.5"/>
<path d="M104.6 136.0 L105.1 134.6 L105.5 133.2 L105.6 131.8 L105.5 130.4" stroke="rgb(160,160,160)" stroke-width="0.8" stroke-dasharray="3 1.5"/>
<path d="M110.7 147.5 L108.3 145.9 L105.9 144.3 L103.6 142.7 L101.2 141.1" stroke="rgb(160,160,160)" stroke-width="1.0" stroke-dasharray="1.5 1.5"/>
<path d="M106.4 155.0 L103.9 156.4 L101.5 157.9 L99.2 159.5 L96.9 161.1" stroke="rgb(240,240,240)" stroke-width="1.0" stroke-dasharray="2 1.5"/>
<path d="M149.4 62.8 L151.7 62.9 L154.0 63.0 L156.3 63.2 L158.6 63.5" stroke="rgb(200,200,200)" stroke-width="0.8" stroke-dasharray="1.5 1.5"/>
<path d="M80.6 82.3 L79.9 80.5 L79.0 78.7 L77.8 77.1 L76.5 75.7" stroke="rgb(200,200,200)" stroke-width="1.0" stroke-dasharray="1.5 1.5"/>
<path d="M185.8 97.1 L188.4 98.3 L191.0 99.4 L193.7 100.5 L196.4 101.4" stroke="rgb(240,240,240)" stroke-width="1.0" stroke-dasharray="2 1.5"/>
<path d="M148.1 51.3 L146.6 54.3 L145.5 57.6 L144.8 60.9 L144.5 64.3" stroke="rgb(160,160,160)" stroke-width="0.8" stroke-dasharray="3 1.5"/>
<path d="M130.5 28.9 L134.1 29.0 L137.7 28.7 L141.3 28.1 L144.8 27.2" stroke="rgb(200,200,200)" stroke-width="0.8" stroke-dasharray="2 1.5"/>
<path d="M90.7 172.8 L92.3 173.7 L94.0 174.6 L95.6 175.5 L97.3 176.3" stroke="rgb(240,240,240)" stroke-width="0.8" stroke-dasharray="3 1.5"/>
<path d="M136.2 134.1 L136.1 136.5 L136.0 138.9 L135.7 141.3 L135.3 143.7" stroke="rgb(160,160,160)" stroke-width="0.8" stroke-dasharray="2 1.5"/>
<path d="M177.1 163.3 L176.4 165.1 L176.0 167.1 L175.9 169.0 L176.1 171.0" stroke="rgb(200,200,200)" stroke-width="1.0" stroke-dasharray="4 2"/>
<path d="M89.0 160.8 L85.9 158.8 L82.6 156.8 L79.3 155.0 L75.9 153.4" stroke="rgb(200,200,200)" stroke-width="1.0" stroke-dasharray="4 2"/>
<path d="M149.3 36.9 L150.2 39.7 L150.8 42.5 L151.2 45.4 L151.4 48.3" stroke="rgb(160,160,160)" stroke-width="1.0" stroke-dasharray="4 2"/>
<path d="M99.8 78.2 L100.0 81.8 L99.8 85.3 L99.3 88.8 L98.6 92.3" stroke="rgb(120,120,120)" stroke-width="1.0" stroke-dasharray="1.5 1.5"/>
<path d="M169.5 115.2 L171.2 113.4 L173.3 111.8 L175.5 110.5 L177.8 109.4" stroke="rgb(200,200,200)" stroke-width="0.8" stroke-dasharray="4 2"/>
<path d="M160.0 134.8 L157.4 135.8 L154.9 136.9 L152.4 138.1 L150.0 139.4" stroke="rgb(200,200,200)" stroke-width="0.8" stroke-dasharray="3 1.5"/>
<path d="M158.6 113.1 L156.9 113.7 L155.2 114.1 L153.5 114.4 L151.7 114.4" stroke="rgb(240,240,240)" stroke-width="0.8" stroke-dasharray="1.5 1.5"/>
<path d="M198.0 150.9 L198.0 153.4 L198.0 155.9 L197.8 158.5 L197.4 161.0" stroke="rgb(160,160,160)" stroke-width="1.0" stroke-dasharray="3 1.5"/>
<path d="M177.2 89.1 L177.1 90.6 L177.0 92.1 L176.9 93.6 L176.6 95.1" stroke="rgb(160,160,160)" stroke-width="0.8" stroke-dasharray="4 2"/>
<path d="M115.1 117.9 L113.6 119.2 L112.1 120.5 L110.5 121.7 L108.9 122.8" stroke="rgb(160,160,160)" stroke-width="1.0" stroke-dasharray="3 1.5"/>
<path d="M97.7 50.0 L100.0 51.5 L102.0 53.2 L103.6 55.3 L104.9 57.7" stroke="rgb(200,200,200)" stroke-width="0.8" stroke-dasharray="3 1.5"/>
<path d="M97.0 56.6 L95.2 54.5 L93.4 52.4 L91.6 50.2 L89.9 48.1" stroke="rgb(160,160,160)" stroke-width="0.8" stroke-dasharray="4 2"/>
<path d="M152.0 143.3 L155.3 142.7 L158.6 141.9 L161.9 141.0 L165.1 139.9" stroke="rgb(240,240,240)" stroke-width="1.0" stroke-dasharray="2 1.5"/>
<path d="M136.8 89.7 L135.0 88.0 L133.4 86.1 L131.8 84.2 L130.3 82.2" stroke="rgb(200,200,200)" stroke-width="0.8" stroke-dasharray="4 2"/>
<path d="M146.3 143.5 L147.7 142.6 L149.1 141.8 L150.5 141.0 L152.0 140.2" stroke="rgb(160,160,160)" stroke-width="1.0" stroke-dasharray="3 1.5"/>
<path d="M134.0 96.1 L132.4 95.9 L130.9 95.8 L129.3 96.0 L127.8 96.3" stroke="rgb(120,120,120)" stroke-width="1.0" stroke-dasharray="2 1.5"/>
<path d="M131.4 69.0 L129.9 68.0 L128.5 67.0 L127.3 65.7 L126.3 64.4" stroke="rgb(120,120,120)" stroke-width="0.8" stroke-dasharray="2 1.5"/>
<path d="M85.3 130.1 L82.9 131.9 L80.5 133.7 L78.1 135.6 L75.7 137.4" stroke="rgb(240,240,240)" stroke-width="0.8" stroke-dasharray="4 2"/>
<path d="M112.0 58.5 L111.5 55.8 L111.3 53.1 L111.4 50.4 L111.8 47.7" stroke="rgb(200,200,200)" stroke-width="1.0" stroke-dasharray="4 2"/>
<path d="M71.2 135.4 L70.8 133.2 L70.6 131.1 L70.4 128.9 L70.3 126.8" stroke="rgb(240,240,240)" stroke-width="1.0" stroke-dasharray="4 2"/>
<path d="M146.7 129.0 L146.8 131.5 L147.1 134.0 L147.7 136.4 L148.6 138.8" stroke="rgb(160,160,160)" stroke-width="1.0" stroke-dasharray="3 1.5"/>
<path d="M101.5 175.4 L98.0 173.9 L94.3 172.9 L90.5 172.5 L86.7 172.6" stroke="rgb(240,240,240)" stroke-width="1.0" stroke-dasharray="3 1.5"/>
<path d="M144.0 120.1 L142.9 122.7 L141.3 125.1 L139.4 127.2 L137.1 129.0" stroke="rgb(160,160,160)" stroke-width="0.8" stroke-dasharray="3 1.5"/>
<path d="M199.2 156.6 L199.0 160.4 L198.9 164.2 L199.1 168.0 L199.4 171.8" stroke="rgb(120,120,120)" stroke-width="0.8" stroke-dasharray="2 1.5"/>
<path d="M106.1 118.2 L107.7 118.4 L109.3 118.8 L110.8 119.5 L112.3 120.3" stroke="rgb(240,240,240)" stroke-width="1.0" stroke-dasharray="2 1.5"/>
<path d="M103.8 76.7 L103.9 79.8 L104.5 82.8 L105.6 85.8 L107.1 88.5" stroke="rgb(160,160,160)" stroke-width="1.0" stroke-dasharray="2 1.5"/>
<path d="M173.0 89.9 L174.2 86.8 L175.9 83.8 L178.1 81.2 L180.6 78.9" stroke="rgb(160,160,160)" stroke-width="1.0" stroke-dasharray="2 1.5"/>
<path d="M190.9 162.5 L191.7 163.9 L192.3 165.4 L192.7 166.9 L192.9 168.5" stroke="rgb(200,200,200)" stroke-width="1.0" stroke-dasharray="3 1.5"/>
<path d="M169.1 90.5 L169.5 88.8 L169.8 87.0 L170.0 85.3 L170.1 83.5" stroke="rgb(240,240,240)" stroke-width="1.0" stroke-dasharray="4 2"/>
<path d="M79.6 155.9 L79.1 153.9 L78.7 151.9 L78.4 149.8 L78.3 147.8" stroke="rgb(120,120,120)" stroke-width="1.0" stroke-dasharray="2 1.5"/>
<path d="M181.0 143.5 L179.4 142.5 L177.8 141.5 L176.3 140.3 L174.9 139.1" stroke="rgb(240,240,240)" stroke-width="1.0" stroke-dasharray="1.5 1.5"/>
<path d="M187.1 102.5 L186.9 104.6 L186.4 106.6 L185.7 108.5 L184.9 110.4" stroke="rgb(120,120,120)" stroke-width="0.8" stroke-dasharray="1.5 1.5"/>
<path d="M119.3 124.9 L119.2 128.3 L118.6 131.7 L117.6 134.9 L116.2 138.0" stroke="rgb(160,160,160)" stroke-width="1.0" stroke-dasharray="4 2"/>
<path d="M122.8 78.4 L121.5 78.3 L120.1 78.0 L118.8 77.7 L117.6 77.2" stroke="rgb(120,120,120)" stroke-width="0.8" stroke-dasharray="3 1.5"/>
<path d="M139.3 128.1 L141.0 127.9 L142.7 127.6 L144.4 127.2 L146.0 126.6" stroke="rgb(120,120,120)" stroke-width="0.8" stroke-dasharray="4 2"/>
<path d="M152.9 106.8 L154.5 103.9 L155.7 100.7 L156.2 97.4 L156.3 94.1" stroke="rgb(120,120,120)" stroke-width="1.0" stroke-dasharray="4 2"/>
<path d="M125.3 170.4 L123.7 171.4 L122.1 172.1 L120.3 172.7 L118.5 173.1" stroke="rgb(160,160,160)" stroke-width="1.0" stroke-dasharray="2 1.5"/>
<path d="M131.3 98.6 L132.9 99.8 L134.6 100.7 L136.4 101.3 L138.3 101.7" stroke="rgb(200,200,200)" stroke-width="0.8" stroke-dasharray="1.5 1.5"/>
<path d="M159.1 138.2 L159.7 139.6 L160.0 141.1 L160.1 142.6 L160.0 144.1" stroke="rgb(200,200,200)" stroke-width="1.0" stroke-dasharray="2 1.5"/>
<path d="M106.4 169.1 L104.5 170.7 L102.5 172.2 L100.3 173.5 L98.1 174.7" stroke="rgb(160,160,160)" stroke-width="0.8" stroke-dasharray="2 1.5"/>
<path d="M148.0 35.1 L149.7 35.0 L151.3 34.6 L152.9 34.0 L154.5 33.2" stroke="rgb(240,240,240)" stroke-width="0.8" stroke-dasharray="1.5 1.5"/>
<path d="M142.2 38.5 L140.7 39.8 L139.3 41.2 L137.8 42.5 L136.4 43.9" stroke="rgb(200,200,200)" stroke-width="0.8" stroke-dasharray="4 2"/>
<path d="M117.9 129.7 L117.6 131.2 L117.5 132.8 L117.6 134.4 L117.8 135.9" stroke="rgb(200,200,200)" stroke-width="1.0" stroke-dasharray="1.5 1.5"/>
<path d="M97.7 96.6 L94.3 96.4 L90.9 96.1 L87.6 95.7 L84.2 95.3" stroke="rgb(240,240,240)" stroke-width="0.8" stroke-dasharray="1.5 1.5"/>
<path d="M101.0 120.1 L98.2 120.4 L95.4 121.0 L92.8 122.1 L90.4 123.4" stroke="rgb(200,200,200)" stroke-width="0.8" stroke-dasharray="2 1.5"/>
<path d="M117.9 117.7 L119.1 116.2 L120.3 114.8 L121.6 113.4 L123.0 112.0" stroke="rgb(240,240,240)" stroke-width="1.0" stroke-dasharray="1.5 1.5"/>
<path d="M117.0 174.4 L118.1 172.5 L119.2 170.6 L120.3 168.7 L121.4 166.8" stroke="rgb(120,120,120)" stroke-width="1.0" stroke-dasharray="1.5 1.5"/>
<path d="M172.8 163.9 L163.4 167.6" stroke="rgb(220,220,220)" stroke-width="1.1" stroke-dasharray="3 1.5"/>
<path d="M147.2 169.3 L138.3 168.3" stroke="rgb(180,180,180)" stroke-width="0.9" stroke-dasharray="4 2"/>
<path d="M148.8 168.3 L142.6 168.4" stroke="rgb(140,140,140)" stroke-width="0.9" stroke-dasharray="2 1.5"/>
<path d="M163.0 167.1 L155.8 161.7" stroke="rgb(140,140,140)" stroke-width="1.1" stroke-dasharray="2 1.5"/>
<path d="M182.6 161.8 L171.1 166.4" stroke="rgb(220,220,220)" stroke-width="1.1" stroke-dasharray="4 2"/>
<path d="M203.2 162.7 L189.4 158.8" stroke="rgb(140,140,140)" stroke-width="1.1" stroke-dasharray="3 1.5"/>
<path d="M160.0 165.7 L152.5 166.9" stroke="rgb(180,180,180)" stroke-width="0.9" stroke-dasharray="2 1.5"/>
<path d="M130.4 170.1 L115.3 168.4" stroke="rgb(180,180,180)" stroke-width="0.9" stroke-dasharray="2 1.5"/>
<path d="M128.1 166.0 L121.1 177.0" stroke="rgb(180,180,180)" stroke-width="1.1" stroke-dasharray="3 1.5"/>
<path d="M154.8 159.8 L148.8 167.8" stroke="rgb(180,180,180)" stroke-width="1.1" stroke-dasharray="4 2"/>
<path d="M142.0 162.4 L136.1 165.5" stroke="rgb(180,180,180)" stroke-width="0.9" stroke-dasharray="4 2"/>
<path d="M194.4 164.4 L190.5 169.1" stroke="rgb(220,220,220)" stroke-width="0.9" stroke-dasharray="3 1.5"/>
<path d="M140.7 170.7 L125.9 168.7" stroke="rgb(220,220,220)" stroke-width="1.1" stroke-dasharray="3 1.5"/>
<path d="M189.7 165.7 L179.7 170.9" stroke="rgb(140,140,140)" stroke-width="0.9" stroke-dasharray="4 2"/>
<path d="M193.5 168.0 L181.1 163.1" stroke="rgb(180,180,180)" stroke-width="1.1" stroke-dasharray="3 1.5"/>
<path d="M200.3 162.7 L190.0 162.6" stroke="rgb(180,180,180)" stroke-width="1.1" stroke-dasharray="3 1.5"/>
<path d="M130.7 167.7 L121.9 173.6" stroke="rgb(140,140,140)" stroke-width="1.1" stroke-dasharray="3 1.5"/>
<path d="M194.1 165.1 L184.8 168.9" stroke="rgb(220,220,220)" stroke-width="0.9" stroke-dasharray="2 1.5"/>
<path d="M187.5 165.3 L179.8 162.9" stroke="rgb(180,180,180)" stroke-width="0.9" stroke-dasharray="2 1.5"/>
<path d="M176.0 164.8 L170.6 169.7" stroke="rgb(140,140,140)" stroke-width="1.1" stroke-dasharray="4 2"/>
<path d="M160.2 162.0 L150.8 167.6" stroke="rgb(180,180,180)" stroke-width="0.9" stroke-dasharray="4 2"/>
<path d="M116.9 174.7 L104.6 177.7" stroke="rgb(140,140,140)" stroke-width="1.1" stroke-dasharray="3 1.5"/>
<path d="M129.3 166.9 L121.6 166.5" stroke="rgb(220,220,220)" stroke-width="1.1" stroke-dasharray="2 1.5"/>
<path d="M179.1 169.5 L171.3 168.1" stroke="rgb(140,140,140)" stroke-width="0.9" stroke-dasharray="4 2"/>
<path d="M204.9 163.0 L196.7 165.9" stroke="rgb(220,220,220)" stroke-width="0.9" stroke-dasharray="2 1.5"/>
<path d="M151.0 165.4 L136.1 170.2" stroke="rgb(220,220,220)" stroke-width="0.9" stroke-dasharray="3 1.5"/>
<path d="M160.7 165.5 L149.6 160.1" stroke="rgb(220,220,220)" stroke-width="1.1" stroke-dasharray="4 2"/>
<path d="M203.7 158.8 L192.4 167.1" stroke="rgb(140,140,140)" stroke-width="1.1" stroke-dasharray="4 2"/>
<path d="M160.1 165.1 L153.9 169.8" stroke="rgb(140,140,140)" stroke-width="0.9" stroke-dasharray="3 1.5"/>
<path d="M122.5 169.2 L106.7 171.9" stroke="rgb(220,220,220)" stroke-width="0.9" stroke-dasharray="3 1.5"/>
<path d="M203.1 158.6 L190.7 163.3" stroke="rgb(140,140,140)" stroke-width="1.1" stroke-dasharray="3 1.5"/>
<path d="M154.4 162.2 L143.3 172.8" stroke="rgb(180,180,180)" stroke-width="0.9" stroke-dasharray="3 1.5"/>
<path d="M152.2 166.5 L144.2 167.8" stroke="rgb(140,140,140)" stroke-width="1.1" stroke-dasharray="3 1.5"/>
<path d="M142.1 165.2 L134.1 168.4" stroke="rgb(220,220,220)" stroke-width="1.1" stroke-dasharray="4 2"/>
<path d="M186.7 163.1 L178.9 164.4" stroke="rgb(140,140,140)" stroke-width="0.9" stroke-dasharray="2 1.5"/>
<path d="M169.6 164.2 L157.7 162.9" stroke="rgb(180,180,180)" stroke-width="1.1" stroke-dasharray="3 1.5"/>
<path d="M157.8 166.8 L149.8 164.3" stroke="rgb(180,180,180)" stroke-width="0.9" stroke-dasharray="2 1.5"/>
<path d="M200.8 166.5 L190.9 167.3" stroke="rgb(220,220,220)" stroke-width="1.1" stroke-dasharray="4 2"/>
<path d="M123.3 173.6 L108.5 174.7" stroke="rgb(140,140,140)" stroke-width="1.1" stroke-dasharray="4 2"/>
<path d="M146.9 164.0 L131.6 166.8" stroke="rgb(140,140,140)" stroke-width="0.9" stroke-dasharray="3 1.5"/>
<path d="M118.2 166.3 L117.5 175.4" stroke="rgb(220,220,220)" stroke-width="0.9" stroke-dasharray="4 2"/>
<path d="M158.1 163.9 L146.4 166.5" stroke="rgb(180,180,180)" stroke-width="1.1" stroke-dasharray="4 2"/>
<path d="M197.1 164.9 L189.0 161.0" stroke="rgb(180,180,180)" stroke-width="1.1" stroke-dasharray="4 2"/>
<path d="M179.3 161.6 L165.6 164.9" stroke="rgb(220,220,220)" stroke-width="1.1" stroke-dasharray="2 1.5"/>
<path d="M175.3 167.2 L171.0 162.7" stroke="rgb(140,140,140)" stroke-width="1.1" stroke-dasharray="2 1.5"/>
</g></g>
<rect x="246" y="11" width="217" height="199" fill="#070707"/>
<rect x="246" y="11" width="217" height="199" fill="#fff" filter="url(#noise)" opacity="0.03"/>
<clipPath id="clip2"><path d="M312.0 33.1 L335.7 31.8 L356.7 27.9 L380.4 31.8 L386.9 38.4 L393.5 54.2 L401.4 68.6 L411.9 75.2 L414.5 88.3 L413.2 106.7 L415.8 125.1 L419.8 146.1 L422.4 167.1 L401.4 167.1 L380.4 171.1 L348.8 172.4 L330.4 180.3 L322.5 190.8 L314.7 182.9 L298.9 164.5 L288.4 143.5 L289.7 125.1 L291.0 98.8 L293.6 69.9 L301.5 54.2 L309.4 41.0 Z"/></clipPath>
<g clip-path="url(#clip2)">
<path d="M312.0 33.1 L335.7 31.8 L356.7 27.9 L380.4 31.8 L386.9 38.4 L393.5 54.2 L401.4 68.6 L411.9 75.2 L414.5 88.3 L413.2 106.7 L415.8 125.1 L419.8 146.1 L422.4 167.1 L401.4 167.1 L380.4 171.1 L348.8 172.4 L330.4 180.3 L322.5 190.8 L314.7 182.9 L298.9 164.5 L288.4 143.5 L289.7 125.1 L291.0 98.8 L293.6 69.9 L301.5 54.2 L309.4 41.0 Z" fill="#121212" stroke="none"/>
<g fill="none" stroke-linecap="round" filter="url(#soft)">
<path d="M345.0 160.5 L339.4 166.3 L333.4 171.6 L327.0 176.4 L320.3 180.8" stroke="rgb(75,75,75)" stroke-width="0.6"/>
<path d="M357.0 33.0 L361.4 32.5 L365.9 32.3 L370.3 32.5 L374.7 32.9" stroke="rgb(40,40,40)" stroke-width="0.8"/>
<path d="M328.4 191.3 L326.0 187.4 L323.7 183.3 L321.7 179.1 L320.0 174.8" stroke="rgb(60,60,60)" stroke-width="0.6"/>
<path d="M359.8 57.4 L352.6 63.7 L345.9 70.4 L339.6 77.6 L333.9 85.2" stroke="rgb(50,50,50)" stroke-width="0.8"/>
<path d="M328.9 34.0 L335.4 34.2 L341.7 35.4 L347.6 37.8 L353.1 41.2" stroke="rgb(40,40,40)" stroke-width="0.8"/>
<path d="M310.4 160.8 L305.7 158.7 L300.6 157.2 L295.4 156.5 L290.2 156.5" stroke="rgb(40,40,40)" stroke-width="0.6"/>
<path d="M347.7 89.2 L340.1 87.2 L332.7 84.8 L325.5 82.0 L318.4 78.8" stroke="rgb(50,50,50)" stroke-width="0.6"/>
<path d="M291.6 125.5 L291.8 117.4 L292.6 109.4 L293.9 101.4 L295.8 93.6" stroke="rgb(75,75,75)" stroke-width="0.6"/>
<path d="M337.4 57.9 L336.6 52.5 L336.1 47.1 L335.7 41.6 L335.4 36.1" stroke="rgb(40,40,40)" stroke-width="0.6"/>
<path d="M365.9 64.4 L362.5 60.7 L359.3 56.8 L356.2 52.8 L353.4 48.6" stroke="rgb(75,75,75)" stroke-width="0.6"/>
<path d="M333.2 76.4 L326.9 71.6 L320.1 67.6 L312.8 64.5 L305.3 62.1" stroke="rgb(50,50,50)" stroke-width="0.8"/>
<path d="M301.8 123.5 L297.8 115.4 L293.6 107.4 L289.2 99.5 L284.7 91.7" stroke="rgb(50,50,50)" stroke-width="0.8"/>
<path d="M328.0 141.2 L333.3 136.2 L338.1 130.9 L342.6 125.2 L346.5 119.2" stroke="rgb(60,60,60)" stroke-width="0.8"/>
<path d="M329.8 74.2 L321.9 72.3 L314.5 69.1 L307.7 64.7 L301.7 59.2" stroke="rgb(50,50,50)" stroke-width="0.6"/>
<path d="M321.1 87.6 L313.8 89.5 L306.2 90.5 L298.6 90.3 L291.0 89.0" stroke="rgb(60,60,60)" stroke-width="0.8"/>
<path d="M312.3 42.6 L314.6 46.0 L316.4 49.6 L317.8 53.4 L318.8 57.3" stroke="rgb(50,50,50)" stroke-width="0.6"/>
<path d="M367.9 90.0 L366.3 85.3 L365.5 80.3 L365.3 75.3 L366.0 70.3" stroke="rgb(50,50,50)" stroke-width="0.8"/>
<path d="M338.7 126.0 L342.2 120.6 L345.3 114.8 L347.9 108.9 L350.0 102.7" stroke="rgb(50,50,50)" stroke-width="0.6"/>
<path d="M398.6 161.2 L399.1 155.8 L398.6 150.4 L397.2 145.1 L395.0 140.2" stroke="rgb(50,50,50)" stroke-width="0.6"/>
<path d="M356.1 82.1 L361.4 79.6 L366.7 77.0 L371.9 74.3 L377.0 71.5" stroke="rgb(75,75,75)" stroke-width="0.6"/>
<path d="M332.7 82.1 L329.1 78.3 L325.8 74.1 L323.1 69.6 L320.8 64.9" stroke="rgb(75,75,75)" stroke-width="0.8"/>
<path d="M401.9 91.7 L406.6 91.5 L411.4 90.7 L415.9 89.3 L420.3 87.4" stroke="rgb(60,60,60)" stroke-width="0.6"/>
<path d="M366.1 52.6 L361.3 53.0 L356.4 53.0 L351.6 52.7 L346.8 52.1" stroke="rgb(40,40,40)" stroke-width="0.8"/>
<path d="M388.2 99.3 L384.0 107.2 L379.3 115.0 L374.4 122.6 L369.2 130.0" stroke="rgb(40,40,40)" stroke-width="0.8"/>
<path d="M329.7 30.8 L336.2 33.2 L342.5 36.1 L348.6 39.4 L354.5 43.1" stroke="rgb(40,40,40)" stroke-width="0.6"/>
<path d="M399.2 110.3 L405.2 105.7 L411.1 100.8 L416.7 95.7 L422.2 90.3" stroke="rgb(75,75,75)" stroke-width="0.8"/>
<path d="M298.7 94.0 L301.7 98.3 L305.4 102.0 L309.6 105.1 L314.3 107.4" stroke="rgb(40,40,40)" stroke-width="0.6"/>
<path d="M327.2 73.3 L331.7 72.4 L336.2 71.3 L340.7 70.0 L345.1 68.5" stroke="rgb(75,75,75)" stroke-width="0.6"/>
<path d="M412.7 94.9 L411.6 98.7 L410.0 102.4 L408.0 105.9 L405.6 109.1" stroke="rgb(40,40,40)" stroke-width="0.6"/>
<path d="M320.3 164.2 L311.8 165.4 L303.2 165.3 L294.7 163.9 L286.5 161.3" stroke="rgb(50,50,50)" stroke-width="0.8"/>
<path d="M320.7 82.8 L313.4 82.4 L306.0 83.0 L298.8 84.6 L291.9 87.2" stroke="rgb(60,60,60)" stroke-width="0.8"/>
<path d="M376.7 47.2 L384.2 51.1 L392.1 54.2 L400.2 56.7 L408.5 58.3" stroke="rgb(75,75,75)" stroke-width="0.8"/>
<path d="M349.4 25.4 L357.9 28.2 L366.5 30.7 L375.3 32.7 L384.1 34.3" stroke="rgb(40,40,40)" stroke-width="0.8"/>
<path d="M357.1 70.8 L363.2 78.7 L369.1 86.7 L374.7 94.9 L379.9 103.4" stroke="rgb(40,40,40)" stroke-width="0.8"/>
<path d="M314.3 110.4 L316.2 103.9 L317.0 97.2 L316.9 90.4 L315.7 83.7" stroke="rgb(75,75,75)" stroke-width="0.8"/>
<path d="M338.4 81.5 L334.2 76.5 L330.9 70.9 L328.6 64.8 L327.4 58.5" stroke="rgb(60,60,60)" stroke-width="0.8"/>
<path d="M331.5 183.1 L330.6 177.2 L329.6 171.4 L328.7 165.6 L327.7 159.7" stroke="rgb(40,40,40)" stroke-width="0.8"/>
<path d="M309.9 85.7 L315.8 85.1 L321.8 84.6 L327.8 84.2 L333.7 83.8" stroke="rgb(40,40,40)" stroke-width="0.6"/>
<path d="M344.7 120.2 L350.4 122.6 L355.6 126.0 L360.2 130.2 L364.0 135.1" stroke="rgb(50,50,50)" stroke-width="0.6"/>
<path d="M332.3 121.0 L325.7 121.3 L319.2 121.5 L312.6 121.6 L306.0 121.5" stroke="rgb(40,40,40)" stroke-width="0.8"/>
<path d="M305.8 89.9 L300.0 82.7 L293.7 75.7 L287.2 69.1 L280.2 62.9" stroke="rgb(75,75,75)" stroke-width="0.8"/>
<path d="M303.3 36.3 L310.0 34.3 L316.5 31.6 L322.8 28.4 L328.7 24.7" stroke="rgb(50,50,50)" stroke-width="0.6"/>
<path d="M326.2 34.5 L325.7 40.1 L325.5 45.7 L325.7 51.3 L326.2 56.9" stroke="rgb(40,40,40)" stroke-width="0.6"/>
<path d="M388.8 51.5 L390.7 60.6 L391.7 69.8 L391.9 79.1 L391.4 88.3" stroke="rgb(40,40,40)" stroke-width="0.8"/>
<path d="M396.5 138.4 L393.7 134.7 L391.3 130.8 L389.3 126.6 L387.8 122.3" stroke="rgb(50,50,50)" stroke-width="0.6"/>
<path d="M403.7 99.8 L408.9 97.4 L414.3 96.0 L420.0 95.4 L425.6 95.8" stroke="rgb(50,50,50)" stroke-width="0.6"/>
<path d="M315.5 141.2 L318.4 137.5 L321.8 134.3 L325.5 131.4 L329.5 129.1" stroke="rgb(75,75,75)" stroke-width="0.6"/>
<path d="M388.7 112.2 L395.4 105.7 L401.2 98.5 L406.3 90.7 L410.4 82.4" stroke="rgb(75,75,75)" stroke-width="0.8"/>
<path d="M357.9 100.8 L357.6 107.6 L357.9 114.3 L358.7 121.0 L360.1 127.6" stroke="rgb(75,75,75)" stroke-width="0.8"/>
<path d="M393.9 147.1 L399.1 145.7 L404.3 144.6 L409.6 143.8 L414.9 143.2" stroke="rgb(60,60,60)" stroke-width="0.6"/>
<path d="M311.7 73.6 L304.7 70.2 L297.8 66.6 L291.1 62.7 L284.6 58.6" stroke="rgb(50,50,50)" stroke-width="0.6"/>
<path d="M294.2 113.8 L298.1 113.8 L302.0 113.3 L305.8 112.3 L309.5 110.8" stroke="rgb(60,60,60)" stroke-width="0.6"/>
<path d="M349.8 144.0 L344.6 135.6 L340.9 126.4 L339.0 116.6 L338.8 106.7" stroke="rgb(40,40,40)" stroke-width="0.6"/>
<path d="M296.6 151.3 L300.1 159.7 L302.4 168.6 L303.4 177.6 L303.2 186.7" stroke="rgb(75,75,75)" stroke-width="0.8"/>
<path d="M355.4 93.7 L355.3 88.3 L354.6 82.9 L353.1 77.7 L351.0 72.7" stroke="rgb(50,50,50)" stroke-width="0.6"/>
<path d="M326.6 62.6 L333.2 55.8 L340.4 49.5 L348.0 43.8 L355.9 38.6" stroke="rgb(40,40,40)" stroke-width="0.8"/>
<path d="M340.8 143.2 L339.5 146.9 L338.5 150.7 L337.7 154.5 L337.2 158.3" stroke="rgb(40,40,40)" stroke-width="0.8"/>
<path d="M375.6 140.8 L381.2 142.4 L386.9 143.3 L392.7 143.5 L398.5 142.9" stroke="rgb(60,60,60)" stroke-width="0.6"/>
<path d="M341.3 170.2 L337.7 172.3 L334.1 174.5 L330.5 176.6 L326.9 178.7" stroke="rgb(40,40,40)" stroke-width="0.8"/>
<path d="M296.6 64.3 L299.5 70.1 L301.8 76.2 L303.3 82.5 L304.0 89.0" stroke="rgb(50,50,50)" stroke-width="0.6"/>
<path d="M305.6 151.4 L312.0 147.2 L318.4 142.9 L324.6 138.4 L330.8 133.8" stroke="rgb(40,40,40)" stroke-width="0.8"/>
<path d="M310.9 33.6 L313.0 38.6 L315.3 43.5 L317.6 48.3 L320.0 53.1" stroke="rgb(50,50,50)" stroke-width="0.6"/>
<path d="M326.3 86.2 L319.3 82.6 L313.1 77.8 L307.7 72.0 L303.5 65.4" stroke="rgb(60,60,60)" stroke-width="0.6"/>
<path d="M354.8 133.0 L348.6 136.0 L342.4 138.9 L336.1 141.7 L329.8 144.4" stroke="rgb(40,40,40)" stroke-width="0.6"/>
<path d="M361.4 110.4 L366.1 104.2 L369.9 97.4 L372.7 90.1 L374.6 82.6" stroke="rgb(60,60,60)" stroke-width="0.8"/>
<path d="M355.5 104.8 L353.0 98.9 L350.4 93.0 L347.9 87.1 L345.4 81.2" stroke="rgb(60,60,60)" stroke-width="0.8"/>
<path d="M344.1 141.4 L349.5 136.3 L354.8 131.0 L359.9 125.6 L364.7 120.0" stroke="rgb(50,50,50)" stroke-width="0.6"/>
<path d="M351.7 116.3 L346.2 117.7 L340.7 118.7 L335.0 119.2 L329.4 119.2" stroke="rgb(75,75,75)" stroke-width="0.8"/>
<path d="M368.7 63.1 L371.3 60.2 L374.4 57.6 L377.7 55.4 L381.3 53.6" stroke="rgb(40,40,40)" stroke-width="0.6"/>
<path d="M305.5 110.8 L305.4 118.7 L305.5 126.6 L305.7 134.5 L306.2 142.4" stroke="rgb(40,40,40)" stroke-width="0.8"/>
<path d="M349.8 59.8 L341.8 59.1 L333.9 57.8 L326.2 56.0 L318.5 53.6" stroke="rgb(60,60,60)" stroke-width="0.6"/>
<path d="M281.8 105.7 L287.3 105.7 L292.8 105.5 L298.3 105.3 L303.7 105.0" stroke="rgb(60,60,60)" stroke-width="0.6"/>
<path d="M355.9 118.7 L354.2 128.3 L353.2 137.9 L353.0 147.5 L353.5 157.2" stroke="rgb(50,50,50)" stroke-width="0.6"/>
<path d="M377.7 157.1 L384.3 159.0 L391.2 159.9 L398.1 159.9 L404.9 158.9" stroke="rgb(75,75,75)" stroke-width="0.6"/>
<path d="M367.7 163.4 L360.0 165.6 L352.6 169.1 L345.9 173.6 L340.0 179.2" stroke="rgb(50,50,50)" stroke-width="0.6"/>
<path d="M306.1 109.5 L299.8 106.3 L293.2 103.9 L286.4 102.2 L279.3 101.4" stroke="rgb(60,60,60)" stroke-width="0.8"/>
<path d="M378.9 90.0 L372.2 94.9 L365.9 100.2 L360.0 106.1 L354.7 112.4" stroke="rgb(60,60,60)" stroke-width="0.6"/>
<path d="M379.4 121.9 L382.7 119.8 L385.8 117.5 L388.7 114.9 L391.3 112.1" stroke="rgb(75,75,75)" stroke-width="0.6"/>
<path d="M400.0 131.5 L396.6 134.6 L393.6 138.1 L391.1 142.0 L389.2 146.2" stroke="rgb(40,40,40)" stroke-width="0.8"/>
<path d="M304.7 64.0 L309.4 62.1 L313.9 59.8 L318.2 57.1 L322.3 54.1" stroke="rgb(75,75,75)" stroke-width="0.8"/>
<path d="M410.2 89.5 L408.4 94.8 L406.6 100.0 L404.8 105.3 L403.1 110.5" stroke="rgb(60,60,60)" stroke-width="0.8"/>
<path d="M307.5 99.7 L302.2 98.1 L296.7 97.4 L291.2 97.6 L285.8 98.6" stroke="rgb(50,50,50)" stroke-width="0.8"/>
<path d="M330.5 122.9 L329.7 113.6 L329.6 104.3 L330.3 95.1 L331.9 85.9" stroke="rgb(40,40,40)" stroke-width="0.6"/>
<path d="M331.4 52.3 L326.5 45.9 L320.7 40.3 L314.0 35.8 L306.7 32.4" stroke="rgb(75,75,75)" stroke-width="0.6"/>
<path d="M373.8 42.3 L370.2 37.4 L365.9 33.1 L361.2 29.4 L355.9 26.3" stroke="rgb(60,60,60)" stroke-width="0.8"/>
<path d="M405.3 73.2 L409.5 77.9 L414.3 82.1 L419.5 85.6 L425.1 88.5" stroke="rgb(50,50,50)" stroke-width="0.8"/>
<path d="M371.4 106.5 L373.6 109.6 L375.6 112.9 L377.2 116.4 L378.6 119.9" stroke="rgb(75,75,75)" stroke-width="0.8"/>
<path d="M362.6 124.7 L360.4 116.7 L359.3 108.5 L359.1 100.3 L360.0 92.0" stroke="rgb(60,60,60)" stroke-width="0.8"/>
<path d="M370.7 34.6 L364.7 38.9 L359.5 44.1 L355.2 50.1 L351.8 56.6" stroke="rgb(40,40,40)" stroke-width="0.6"/>
<path d="M366.8 111.6 L369.1 115.9 L371.4 120.2 L373.8 124.4 L376.2 128.6" stroke="rgb(60,60,60)" stroke-width="0.6"/>
<path d="M331.5 139.7 L328.0 135.7 L324.2 132.0 L320.1 128.7 L315.7 125.6" stroke="rgb(60,60,60)" stroke-width="0.8"/>
<path d="M330.7 89.5 L336.4 95.6 L343.0 100.7 L350.2 104.9 L358.0 107.9" stroke="rgb(60,60,60)" stroke-width="0.6"/>
<path d="M364.3 129.7 L363.5 134.0 L362.5 138.2 L361.3 142.3 L359.8 146.3" stroke="rgb(40,40,40)" stroke-width="0.8"/>
<path d="M347.6 137.4 L349.4 142.1 L351.8 146.6 L355.0 150.6 L358.7 154.0" stroke="rgb(50,50,50)" stroke-width="0.6"/>
<path d="M325.4 113.8 L321.7 119.4 L318.0 125.1 L314.4 130.9 L311.0 136.7" stroke="rgb(40,40,40)" stroke-width="0.6"/>
<path d="M312.6 99.4 L306.0 99.0 L299.4 99.3 L292.9 100.4 L286.5 102.2" stroke="rgb(75,75,75)" stroke-width="0.8"/>
<path d="M347.0 119.4 L339.7 114.8 L333.1 109.3 L327.1 103.1 L321.9 96.2" stroke="rgb(60,60,60)" stroke-width="0.8"/>
<path d="M373.4 115.2 L377.7 118.7 L382.4 121.7 L387.3 124.2 L392.5 126.0" stroke="rgb(60,60,60)" stroke-width="0.8"/>
<path d="M373.4 127.9 L373.4 131.7 L373.2 135.5 L372.6 139.2 L371.8 142.9" stroke="rgb(75,75,75)" stroke-width="0.8"/>
<path d="M391.8 132.1 L395.7 133.4 L399.4 135.3 L402.7 137.8 L405.6 140.8" stroke="rgb(50,50,50)" stroke-width="0.8"/>
<path d="M331.7 96.9 L326.3 104.7 L321.9 113.1 L318.6 122.0 L316.3 131.2" stroke="rgb(50,50,50)" stroke-width="0.6"/>
<path d="M354.0 111.0 L350.1 117.6 L346.8 124.7 L344.1 132.0 L342.2 139.5" stroke="rgb(75,75,75)" stroke-width="0.6"/>
<path d="M359.0 120.4 L360.2 125.1 L362.0 129.5 L364.5 133.7 L367.5 137.5" stroke="rgb(40,40,40)" stroke-width="0.8"/>
<path d="M348.6 113.9 L353.9 120.4 L358.0 127.7 L360.7 135.7 L361.9 144.0" stroke="rgb(60,60,60)" stroke-width="0.6"/>
<path d="M375.5 154.1 L381.1 146.4 L385.8 138.2 L389.3 129.4 L391.7 120.2" stroke="rgb(40,40,40)" stroke-width="0.8"/>
<path d="M309.1 89.5 L300.9 93.6 L292.7 97.2 L284.3 100.6 L275.7 103.6" stroke="rgb(60,60,60)" stroke-width="0.6"/>
<path d="M381.5 111.5 L374.5 112.7 L367.6 114.5 L360.8 116.7 L354.2 119.4" stroke="rgb(60,60,60)" stroke-width="0.8"/>
<path d="M395.6 121.0 L396.5 128.5 L396.5 136.1 L395.6 143.6 L393.9 151.0" stroke="rgb(40,40,40)" stroke-width="0.6"/>
<path d="M361.1 156.7 L361.3 161.9 L362.2 167.1 L363.9 172.0 L366.3 176.6" stroke="rgb(75,75,75)" stroke-width="0.8"/>
<path d="M368.5 46.2 L373.8 39.1 L378.5 31.7 L382.8 24.0 L386.6 16.0" stroke="rgb(60,60,60)" stroke-width="0.6"/>
<path d="M373.6 131.8 L375.5 123.6 L377.4 115.4 L379.2 107.2 L381.0 99.0" stroke="rgb(50,50,50)" stroke-width="0.8"/>
<path d="M308.8 35.1 L309.1 40.3 L308.9 45.5 L308.2 50.6 L306.8 55.6" stroke="rgb(40,40,40)" stroke-width="0.6"/>
<path d="M327.4 93.4 L322.8 87.1 L318.9 80.3 L315.6 73.2 L313.0 65.9" stroke="rgb(75,75,75)" stroke-width="0.8"/>
<path d="M293.3 138.5 L295.4 132.7 L298.2 127.2 L301.6 122.0 L305.5 117.2" stroke="rgb(40,40,40)" stroke-width="0.6"/>
<path d="M331.3 139.0 L332.6 146.6 L334.0 154.2 L335.5 161.8 L337.1 169.4" stroke="rgb(50,50,50)" stroke-width="0.6"/>
<path d="M347.0 66.8 L344.8 58.4 L343.6 49.8 L343.7 41.1 L344.8 32.5" stroke="rgb(75,75,75)" stroke-width="0.6"/>
<path d="M402.6 139.4 L405.4 143.4 L408.5 147.3 L411.6 151.0 L415.0 154.5" stroke="rgb(40,40,40)" stroke-width="0.8"/>
<path d="M354.1 82.8 L352.6 76.7 L350.5 70.8 L347.6 65.1 L344.2 59.8" stroke="rgb(40,40,40)" stroke-width="0.8"/>
<path d="M306.6 50.4 L310.6 57.0 L314.2 63.9 L317.2 71.0 L319.9 78.3" stroke="rgb(75,75,75)" stroke-width="0.8"/>
<path d="M394.3 66.8 L398.4 67.9 L402.6 68.7 L406.8 69.2 L411.0 69.4" stroke="rgb(75,75,75)" stroke-width="0.6"/>
<path d="M358.1 138.3 L361.8 144.8 L366.3 150.7 L371.7 155.9 L377.6 160.3" stroke="rgb(75,75,75)" stroke-width="0.8"/>
<path d="M330.2 61.9 L324.2 64.6 L318.7 68.1 L313.7 72.4 L309.3 77.3" stroke="rgb(40,40,40)" stroke-width="0.8"/>
<path d="M341.6 135.0 L338.2 139.4 L334.7 143.7 L331.2 148.0 L327.7 152.2" stroke="rgb(60,60,60)" stroke-width="0.8"/>
<path d="M350.7 109.5 L356.2 113.2 L362.0 116.5 L367.9 119.5 L374.0 122.2" stroke="rgb(40,40,40)" stroke-width="0.6"/>
<path d="M432.3 164.3 L424.3 166.0 L416.7 168.8 L409.5 172.8 L403.1 177.8" stroke="rgb(75,75,75)" stroke-width="0.6"/>
<path d="M343.6 120.4 L343.0 126.2 L342.0 131.9 L340.4 137.6 L338.3 143.0" stroke="rgb(60,60,60)" stroke-width="0.6"/>
<path d="M408.8 67.6 L400.0 72.1 L391.7 77.4 L383.8 83.4 L376.4 90.0" stroke="rgb(60,60,60)" stroke-width="0.8"/>
<path d="M349.9 110.9 L340.8 110.0 L331.7 109.3 L322.5 109.0 L313.4 108.9" stroke="rgb(50,50,50)" stroke-width="0.6"/>
<path d="M329.9 112.5 L322.1 117.2 L313.8 121.0 L305.2 123.9 L296.3 125.9" stroke="rgb(40,40,40)" stroke-width="0.8"/>
<path d="M322.2 90.2 L323.6 98.9 L325.2 107.4 L327.1 115.9 L329.3 124.4" stroke="rgb(50,50,50)" stroke-width="0.6"/>
<path d="M305.2 110.1 L299.2 113.3 L293.0 116.0 L286.6 118.2 L280.0 119.8" stroke="rgb(40,40,40)" stroke-width="0.6"/>
<path d="M321.4 40.8 L317.3 45.4 L312.6 49.4 L307.4 52.8 L301.8 55.4" stroke="rgb(40,40,40)" stroke-width="0.8"/>
<path d="M344.0 88.4 L345.2 84.0 L346.2 79.6 L347.1 75.1 L347.9 70.6" stroke="rgb(50,50,50)" stroke-width="0.6"/>
<path d="M373.8 119.2 L365.1 121.9 L356.3 124.4 L347.4 126.7 L338.5 128.7" stroke="rgb(75,75,75)" stroke-width="0.6"/>
<path d="M360.4 35.2 L365.4 36.6 L370.5 37.8 L375.6 38.7 L380.8 39.4" stroke="rgb(75,75,75)" stroke-width="0.6"/>
<path d="M367.0 97.8 L369.6 102.8 L371.9 107.9 L373.8 113.2 L375.3 118.5" stroke="rgb(40,40,40)" stroke-width="0.6"/>
<path d="M331.0 202.0 L326.3 193.8 L322.5 185.2 L319.7 176.2 L317.8 167.0" stroke="rgb(60,60,60)" stroke-width="0.6"/>
<path d="M357.4 60.9 L361.4 65.8 L364.6 71.3 L367.0 77.3 L368.5 83.5" stroke="rgb(50,50,50)" stroke-width="0.6"/>
<path d="M319.0 122.0 L315.9 118.7 L313.4 114.9 L311.5 110.7 L310.3 106.3" stroke="rgb(50,50,50)" stroke-width="0.8"/>
<path d="M340.7 114.8 L336.6 106.0 L331.2 97.9 L324.5 90.8 L316.8 84.9" stroke="rgb(75,75,75)" stroke-width="0.6"/>
<path d="M314.1 147.6 L313.1 152.5 L311.6 157.4 L309.8 162.1 L307.6 166.7" stroke="rgb(50,50,50)" stroke-width="0.8"/>
<path d="M319.3 71.9 L310.7 67.9 L301.6 65.1 L292.1 63.5 L282.6 63.2" stroke="rgb(50,50,50)" stroke-width="0.6"/>
<path d="M350.1 159.1 L345.9 164.8 L341.9 170.6 L338.1 176.6 L334.5 182.6" stroke="rgb(60,60,60)" stroke-width="0.6"/>
<path d="M355.2 134.3 L359.6 138.4 L363.9 142.8 L367.9 147.3 L371.8 151.9" stroke="rgb(40,40,40)" stroke-width="0.8"/>
<path d="M324.5 127.4 L319.9 122.4 L314.8 117.9 L309.2 114.0 L303.3 110.7" stroke="rgb(40,40,40)" stroke-width="0.8"/>
<path d="M372.0 117.9 L365.6 117.0 L359.3 117.3 L353.1 118.5 L347.1 120.8" stroke="rgb(60,60,60)" stroke-width="0.8"/>
<path d="M358.4 67.4 L365.2 69.8 L371.9 72.5 L378.4 75.6 L384.7 79.0" stroke="rgb(50,50,50)" stroke-width="0.6"/>
<path d="M361.6 80.0 L357.0 75.0 L352.8 69.7 L349.1 64.0 L345.8 58.1" stroke="rgb(40,40,40)" stroke-width="0.8"/>
<path d="M349.2 95.3 L354.5 99.2 L359.4 103.7 L363.8 108.6 L367.8 113.8" stroke="rgb(60,60,60)" stroke-width="0.6"/>
<path d="M366.3 161.4 L365.7 165.2 L364.7 168.9 L363.3 172.5 L361.7 176.0" stroke="rgb(60,60,60)" stroke-width="0.6"/>
<path d="M367.3 127.6 L368.1 133.7 L368.2 139.9 L367.6 146.0 L366.3 152.0" stroke="rgb(40,40,40)" stroke-width="0.8"/>
<path d="M408.6 77.9 L410.0 82.5 L411.7 86.9 L413.7 91.3 L415.8 95.5" stroke="rgb(50,50,50)" stroke-width="0.6"/>
<path d="M359.5 99.4 L361.0 94.5 L362.2 89.4 L363.1 84.3 L363.7 79.1" stroke="rgb(60,60,60)" stroke-width="0.8"/>
<path d="M400.4 114.2 L405.7 113.9 L411.1 113.9 L416.4 113.9 L421.8 114.1" stroke="rgb(75,75,75)" stroke-width="0.6"/>
<path d="M312.9 140.8 L310.1 143.5 L307.1 146.2 L304.1 148.7 L301.0 151.1" stroke="rgb(50,50,50)" stroke-width="0.8"/>
<path d="M355.9 141.8 L352.2 141.2 L348.4 140.4 L344.8 139.4 L341.2 138.1" stroke="rgb(40,40,40)" stroke-width="0.6"/>
<path d="M372.9 108.9 L368.6 116.9 L363.9 124.7 L358.9 132.3 L353.5 139.7" stroke="rgb(50,50,50)" stroke-width="0.6"/>
<path d="M425.3 164.9 L422.9 155.6 L421.5 146.1 L421.2 136.5 L421.9 126.9" stroke="rgb(75,75,75)" stroke-width="0.6"/>
<path d="M374.7 129.1 L379.8 135.0 L384.8 141.1 L389.6 147.3 L394.2 153.6" stroke="rgb(40,40,40)" stroke-width="0.6"/>
<path d="M405.8 136.5 L410.2 134.7 L414.6 133.0 L419.0 131.4 L423.4 129.8" stroke="rgb(60,60,60)" stroke-width="0.6"/>
<path d="M313.0 176.8 L310.2 173.6 L307.1 170.7 L303.9 167.9 L300.6 165.4" stroke="rgb(50,50,50)" stroke-width="0.6"/>
<path d="M364.5 85.7 L359.6 89.4 L354.9 93.5 L350.7 98.0 L346.8 102.7" stroke="rgb(40,40,40)" stroke-width="0.8"/>
<path d="M396.1 97.9 L394.6 106.8 L394.3 115.7 L395.2 124.7 L397.4 133.4" stroke="rgb(40,40,40)" stroke-width="0.8"/>
<path d="M357.6 79.8 L353.5 77.8 L349.1 76.4 L344.6 75.8 L340.0 75.9" stroke="rgb(50,50,50)" stroke-width="0.8"/>
<path d="M378.4 100.5 L372.5 100.4 L366.7 101.3 L361.1 103.2 L356.0 106.0" stroke="rgb(60,60,60)" stroke-width="0.8"/>
<path d="M342.3 121.1 L342.6 112.2 L341.8 103.4 L339.8 94.7 L336.6 86.5" stroke="rgb(50,50,50)" stroke-width="0.6"/>
<path d="M384.3 22.9 L382.6 32.5 L379.7 41.8 L375.8 50.8 L370.9 59.2" stroke="rgb(40,40,40)" stroke-width="0.8"/>
<path d="M394.7 119.7 L390.1 119.1 L385.6 118.4 L381.0 117.6 L376.5 116.7" stroke="rgb(60,60,60)" stroke-width="0.6"/>
<path d="M309.3 34.2 L317.6 34.3 L326.0 34.1 L334.3 33.5 L342.6 32.5" stroke="rgb(40,40,40)" stroke-width="0.6"/>
<path d="M394.0 124.6 L390.9 128.2 L388.4 132.2 L386.5 136.6 L385.2 141.1" stroke="rgb(40,40,40)" stroke-width="0.6"/>
<path d="M410.0 125.6 L404.4 117.9 L398.0 110.9 L390.8 104.6 L383.0 99.1" stroke="rgb(60,60,60)" stroke-width="0.6"/>
<path d="M297.8 144.6 L296.9 140.4 L295.9 136.2 L294.7 132.1 L293.5 128.0" stroke="rgb(50,50,50)" stroke-width="0.8"/>
<path d="M411.7 125.7 L414.0 132.0 L416.7 138.2 L419.8 144.2 L423.2 150.1" stroke="rgb(50,50,50)" stroke-width="0.8"/>
<path d="M333.1 23.2 L329.8 29.1 L325.9 34.5 L321.5 39.6 L316.6 44.1" stroke="rgb(60,60,60)" stroke-width="0.6"/>
<path d="M302.9 50.9 L306.2 46.6 L309.1 42.0 L311.6 37.1 L313.7 32.0" stroke="rgb(50,50,50)" stroke-width="0.6"/>
<path d="M319.6 159.7 L324.0 163.5 L328.3 167.5 L332.4 171.6 L336.4 175.8" stroke="rgb(60,60,60)" stroke-width="0.8"/>
<path d="M301.3 101.5 L300.2 92.6 L300.5 83.5 L302.0 74.6 L304.9 66.1" stroke="rgb(75,75,75)" stroke-width="0.6"/>
<path d="M342.1 177.9 L339.6 171.9 L337.9 165.7 L336.8 159.3 L336.5 152.8" stroke="rgb(75,75,75)" stroke-width="0.6"/>
<path d="M346.2 98.2 L346.6 104.4 L347.7 110.6 L349.3 116.7 L351.6 122.5" stroke="rgb(40,40,40)" stroke-width="0.6"/>
<path d="M344.0 71.1 L343.2 64.9 L341.7 58.9 L339.6 53.0 L336.9 47.4" stroke="rgb(60,60,60)" stroke-width="0.6"/>
<path d="M348.3 44.7 L341.0 47.5 L333.6 49.9 L326.1 51.9 L318.5 53.5" stroke="rgb(40,40,40)" stroke-width="0.8"/>
<path d="M371.6 67.4 L368.9 63.0 L365.7 59.1 L361.9 55.6 L357.6 52.8" stroke="rgb(40,40,40)" stroke-width="0.6"/>
<path d="M302.4 48.6 L310.1 48.6 L317.9 48.3 L325.6 47.8 L333.3 47.1" stroke="rgb(50,50,50)" stroke-width="0.8"/>
<path d="M293.8 98.6 L296.5 102.8 L299.0 107.0 L301.4 111.3 L303.6 115.7" stroke="rgb(75,75,75)" stroke-width="0.6"/>
<path d="M358.9 157.5 L352.2 153.6 L345.6 149.6 L339.0 145.4 L332.5 141.0" stroke="rgb(50,50,50)" stroke-width="0.8"/>
<path d="M320.4 74.9 L323.3 77.7 L326.0 80.7 L328.6 83.8 L331.0 87.0" stroke="rgb(50,50,50)" stroke-width="0.8"/>
<path d="M344.5 108.0 L351.5 109.2 L358.6 109.9 L365.8 109.9 L372.9 109.3" stroke="rgb(60,60,60)" stroke-width="0.6"/>
<path d="M354.8 122.8 L363.3 125.0 L371.9 126.6 L380.6 127.5 L389.4 127.7" stroke="rgb(40,40,40)" stroke-width="0.8"/>
<path d="M419.5 107.3 L414.5 104.6 L409.2 102.3 L403.7 100.7 L398.1 99.6" stroke="rgb(60,60,60)" stroke-width="0.6"/>
<path d="M350.2 61.1 L349.0 54.5 L347.1 48.1 L344.3 42.0 L340.9 36.3" stroke="rgb(40,40,40)" stroke-width="0.8"/>
<path d="M337.1 157.6 L344.0 157.5 L350.9 157.1 L357.7 156.3 L364.5 155.1" stroke="rgb(60,60,60)" stroke-width="0.6"/>
<path d="M390.1 126.1 L383.4 127.7 L376.5 128.9 L369.7 129.5 L362.7 129.5" stroke="rgb(60,60,60)" stroke-width="0.8"/>
<path d="M422.8 157.6 L416.1 158.5 L409.3 158.2 L402.6 156.9 L396.3 154.5" stroke="rgb(75,75,75)" stroke-width="0.8"/>
<path d="M337.9 69.3 L337.2 61.7 L336.3 54.1 L335.2 46.5 L333.9 39.0" stroke="rgb(40,40,40)" stroke-width="0.8"/>
<path d="M326.3 119.2 L320.9 124.1 L316.4 129.6 L312.6 135.7 L309.8 142.3" stroke="rgb(75,75,75)" stroke-width="0.8"/>
<path d="M356.1 28.5 L362.9 29.9 L369.8 30.6 L376.7 30.8 L383.7 30.5" stroke="rgb(60,60,60)" stroke-width="0.6"/>
<path d="M384.0 89.9 L388.5 85.8 L392.3 81.2 L395.4 76.1 L397.7 70.6" stroke="rgb(40,40,40)" stroke-width="0.8"/>
<path d="M422.1 74.1 L418.9 81.9 L417.1 90.1 L416.6 98.5 L417.4 106.8" stroke="rgb(50,50,50)" stroke-width="0.8"/>
<path d="M365.6 133.6 L366.2 138.2 L366.4 142.7 L366.2 147.3 L365.6 151.9" stroke="rgb(60,60,60)" stroke-width="0.8"/>
<path d="M355.2 157.5 L346.1 157.2 L337.1 156.5 L328.1 155.3 L319.2 153.7" stroke="rgb(60,60,60)" stroke-width="0.8"/>
<path d="M327.9 60.3 L320.1 64.0 L312.2 67.4 L304.2 70.6 L296.1 73.5" stroke="rgb(50,50,50)" stroke-width="0.6"/>
<path d="M396.6 56.0 L397.8 59.8 L399.4 63.4 L401.3 66.9 L403.6 70.2" stroke="rgb(50,50,50)" stroke-width="0.6"/>
<path d="M348.8 139.4 L355.5 136.7 L362.5 135.1 L369.7 134.5 L376.9 135.1" stroke="rgb(40,40,40)" stroke-width="0.8"/>
<path d="M327.2 63.2 L335.8 59.3 L343.9 54.7 L351.5 49.3 L358.6 43.2" stroke="rgb(60,60,60)" stroke-width="0.8"/>
<path d="M303.8 98.5 L307.8 100.1 L312.0 101.3 L316.3 102.1 L320.6 102.6" stroke="rgb(75,75,75)" stroke-width="0.6"/>
<path d="M380.2 51.1 L373.2 49.5 L366.6 46.9 L360.5 43.3 L355.0 38.7" stroke="rgb(75,75,75)" stroke-width="0.8"/>
<path d="M382.2 156.5 L390.1 156.2 L397.9 157.0 L405.6 158.8 L413.0 161.6" stroke="rgb(75,75,75)" stroke-width="0.8"/>
<path d="M366.2 139.2 L374.8 138.4 L383.4 138.3 L392.0 139.0 L400.5 140.3" stroke="rgb(40,40,40)" stroke-width="0.6"/>
<path d="M405.6 113.1 L409.0 122.5 L413.8 131.2 L420.0 139.1 L427.3 145.8" stroke="rgb(75,75,75)" stroke-width="0.8"/>
<path d="M345.0 55.9 L351.0 49.4 L357.1 42.9 L363.2 36.5 L369.4 30.1" stroke="rgb(40,40,40)" stroke-width="0.6"/>
<path d="M378.7 119.9 L374.1 125.4 L368.8 130.3 L363.0 134.4 L356.6 137.8" stroke="rgb(40,40,40)" stroke-width="0.6"/>
<path d="M373.0 112.5 L380.5 107.9 L388.2 103.5 L396.1 99.3 L404.1 95.5" stroke="rgb(75,75,75)" stroke-width="0.6"/>
<path d="M337.9 97.3 L339.7 93.3 L341.9 89.5 L344.5 85.9 L347.4 82.7" stroke="rgb(75,75,75)" stroke-width="0.8"/>
<path d="M303.4 74.3 L299.4 73.5 L295.4 72.5 L291.5 71.5 L287.6 70.4" stroke="rgb(75,75,75)" stroke-width="0.8"/>
<path d="M345.3 97.1 L346.3 92.4 L346.4 87.5 L345.7 82.7 L344.1 78.0" stroke="rgb(40,40,40)" stroke-width="0.6"/>
<path d="M414.4 132.1 L405.0 130.4 L395.6 129.5 L386.1 129.3 L376.6 129.9" stroke="rgb(60,60,60)" stroke-width="0.8"/>
<path d="M309.5 78.8 L306.2 74.1 L302.5 69.8 L298.2 66.0 L293.6 62.6" stroke="rgb(60,60,60)" stroke-width="0.8"/>
<path d="M300.9 135.3 L297.1 138.6 L293.5 141.9 L290.0 145.4 L286.6 149.0" stroke="rgb(75,75,75)" stroke-width="0.6"/>
<path d="M370.6 145.1 L365.5 144.5 L360.4 144.2 L355.3 144.2 L350.2 144.6" stroke="rgb(50,50,50)" stroke-width="0.6"/>
<path d="M332.6 144.2 L328.2 146.8 L324.1 150.0 L320.6 153.6 L317.6 157.8" stroke="rgb(50,50,50)" stroke-width="0.6"/>
<path d="M375.1 160.4 L376.7 156.0 L377.8 151.4 L378.4 146.7 L378.3 142.0" stroke="rgb(60,60,60)" stroke-width="0.8"/>
<path d="M308.0 109.9 L315.1 103.6 L322.6 97.8 L330.5 92.6 L338.8 88.0" stroke="rgb(40,40,40)" stroke-width="0.6"/>
<path d="M318.9 135.2 L312.1 137.4 L305.2 139.6 L298.3 141.7 L291.4 143.7" stroke="rgb(50,50,50)" stroke-width="0.6"/>
<path d="M372.7 109.8 L367.6 109.1 L362.5 109.3 L357.5 110.3 L352.8 112.1" stroke="rgb(50,50,50)" stroke-width="0.8"/>
<path d="M321.5 54.6 L317.4 51.9 L313.0 49.7 L308.3 48.2 L303.5 47.3" stroke="rgb(60,60,60)" stroke-width="0.8"/>
<path d="M384.6 120.6 L385.9 125.6 L386.6 130.7 L386.5 135.9 L385.8 141.0" stroke="rgb(60,60,60)" stroke-width="0.8"/>
<path d="M349.8 108.4 L351.5 102.0 L352.5 95.6 L352.8 89.0 L352.4 82.5" stroke="rgb(50,50,50)" stroke-width="0.8"/>
<path d="M417.7 128.8 L417.7 135.5 L417.3 142.3 L416.5 149.0 L415.3 155.6" stroke="rgb(50,50,50)" stroke-width="0.8"/>
<path d="M320.3 174.4 L319.6 167.7 L318.4 161.0 L316.7 154.5 L314.6 148.1" stroke="rgb(60,60,60)" stroke-width="0.6"/>
<path d="M372.7 133.2 L379.2 127.0 L384.9 120.0 L389.7 112.4 L393.5 104.3" stroke="rgb(75,75,75)" stroke-width="0.6"/>
<path d="M341.5 86.6 L341.0 77.1 L340.0 67.7 L338.6 58.4 L336.6 49.1" stroke="rgb(60,60,60)" stroke-width="0.6"/>
<path d="M428.2 156.9 L421.7 160.0 L415.5 163.8 L409.7 168.0 L404.2 172.8" stroke="rgb(50,50,50)" stroke-width="0.8"/>
<path d="M333.4 145.8 L330.7 143.0 L327.9 140.5 L325.0 138.0 L321.9 135.7" stroke="rgb(50,50,50)" stroke-width="0.6"/>
<path d="M370.9 116.1 L379.2 117.9 L387.2 120.8 L394.9 124.6 L402.0 129.4" stroke="rgb(60,60,60)" stroke-width="0.6"/>
<path d="M361.5 55.9 L359.8 61.0 L357.6 65.9 L355.1 70.6 L352.3 75.1" stroke="rgb(50,50,50)" stroke-width="0.6"/>
<path d="M313.2 133.1 L314.2 138.3 L316.1 143.3 L318.8 147.9 L322.2 151.9" stroke="rgb(75,75,75)" stroke-width="0.8"/>
<path d="M316.3 74.8 L310.5 71.1 L304.4 68.0 L298.0 65.4 L291.5 63.4" stroke="rgb(40,40,40)" stroke-width="0.6"/>
<path d="M357.5 68.8 L357.0 61.2 L357.9 53.5 L360.1 46.2 L363.5 39.3" stroke="rgb(40,40,40)" stroke-width="0.6"/>
<path d="M308.5 126.6 L300.6 132.6 L293.0 138.9 L285.5 145.4 L278.3 152.2" stroke="rgb(75,75,75)" stroke-width="0.6"/>
<path d="M338.0 76.6 L334.1 71.1 L330.5 65.5 L327.0 59.8 L323.7 53.9" stroke="rgb(60,60,60)" stroke-width="0.8"/>
<path d="M378.4 123.5 L375.0 121.0 L371.2 118.9 L367.3 117.4 L363.1 116.3" stroke="rgb(50,50,50)" stroke-width="0.8"/>
<path d="M382.5 110.6 L388.3 104.0 L393.9 97.3 L399.3 90.4 L404.5 83.4" stroke="rgb(50,50,50)" stroke-width="0.8"/>
<path d="M354.3 101.6 L358.5 98.0 L362.5 94.4 L366.6 90.8 L370.6 87.1" stroke="rgb(40,40,40)" stroke-width="0.6"/>
<path d="M308.8 84.9 L303.9 83.2 L298.8 82.1 L293.6 81.6 L288.3 81.7" stroke="rgb(60,60,60)" stroke-width="0.6"/>
<path d="M334.9 168.8 L335.8 163.8 L336.4 158.9 L336.6 153.9 L336.3 148.8" stroke="rgb(50,50,50)" stroke-width="0.6"/>
<path d="M291.0 96.0 L293.0 92.0 L295.0 88.0 L296.8 83.9 L298.6 79.8" stroke="rgb(60,60,60)" stroke-width="0.8"/>
<path d="M324.0 101.6 L319.0 94.3 L313.6 87.4 L307.7 80.9 L301.4 74.7" stroke="rgb(40,40,40)" stroke-width="0.6"/>
<path d="M352.4 147.1 L351.8 155.7 L351.3 164.3 L351.0 172.9 L350.9 181.6" stroke="rgb(75,75,75)" stroke-width="0.6"/>
<path d="M383.9 101.9 L391.7 105.2 L399.4 108.8 L406.9 112.8 L414.2 117.0" stroke="rgb(40,40,40)" stroke-width="0.8"/>
<path d="M374.2 102.6 L370.4 100.6 L366.8 98.4 L363.4 95.8 L360.2 92.9" stroke="rgb(60,60,60)" stroke-width="0.6"/>
<path d="M346.1 33.2 L341.9 36.2 L337.5 39.0 L332.9 41.4 L328.2 43.5" stroke="rgb(75,75,75)" stroke-width="0.6"/>
<path d="M345.0 85.5 L350.0 77.2 L356.1 69.8 L363.3 63.4 L371.3 58.1" stroke="rgb(60,60,60)" stroke-width="0.6"/>
<path d="M302.5 181.2 L300.5 171.7 L298.6 162.1 L296.8 152.5 L295.1 142.8" stroke="rgb(40,40,40)" stroke-width="0.8"/>
<path d="M322.9 57.4 L313.7 58.3 L304.7 60.3 L295.9 63.4 L287.6 67.6" stroke="rgb(40,40,40)" stroke-width="0.6"/>
<path d="M392.4 92.5 L391.9 100.0 L391.1 107.6 L390.0 115.1 L388.5 122.6" stroke="rgb(75,75,75)" stroke-width="0.6"/>
<path d="M312.0 73.0 L313.0 67.9 L314.9 63.0 L317.6 58.5 L321.0 54.5" stroke="rgb(50,50,50)" stroke-width="0.8"/>
<path d="M343.2 138.8 L338.7 141.5 L334.1 143.9 L329.4 146.1 L324.6 148.1" stroke="rgb(75,75,75)" stroke-width="0.6"/>
<path d="M398.8 86.1 L402.4 80.4 L405.2 74.1 L406.9 67.6 L407.7 60.8" stroke="rgb(50,50,50)" stroke-width="0.6"/>
<path d="M317.5 172.4 L323.7 171.0 L330.0 169.6 L336.2 168.2 L342.4 166.9" stroke="rgb(50,50,50)" stroke-width="0.6"/>
<path d="M341.8 165.8 L343.5 160.8 L345.1 155.9 L346.7 151.0 L348.2 146.0" stroke="rgb(40,40,40)" stroke-width="0.6"/>
<path d="M329.3 103.6 L323.6 103.1 L317.9 102.9 L312.2 103.0 L306.5 103.3" stroke="rgb(150,150,150)" stroke-width="0.6"/>
<path d="M321.6 38.8 L318.9 36.2 L316.1 33.5 L313.5 30.7 L310.9 27.8" stroke="rgb(125,125,125)" stroke-width="0.8"/>
<path d="M338.4 53.3 L344.3 57.8 L350.6 61.8 L357.3 65.2 L364.3 67.9" stroke="rgb(150,150,150)" stroke-width="0.6"/>
<path d="M281.0 98.2 L288.5 97.0 L295.9 96.0 L303.4 95.1 L310.9 94.3" stroke="rgb(80,80,80)" stroke-width="0.8"/>
<path d="M333.4 43.6 L337.0 51.2 L341.2 58.3 L346.2 65.0 L351.9 71.2" stroke="rgb(125,125,125)" stroke-width="0.6"/>
<path d="M354.1 76.4 L359.2 72.1 L364.7 68.4 L370.5 65.4 L376.7 63.0" stroke="rgb(150,150,150)" stroke-width="0.8"/>
<path d="M368.6 42.9 L369.6 39.6 L370.9 36.5 L372.5 33.5 L374.2 30.7" stroke="rgb(180,180,180)" stroke-width="0.8"/>
<path d="M329.1 190.9 L326.1 186.3 L324.0 181.3 L322.8 176.0 L322.6 170.5" stroke="rgb(150,150,150)" stroke-width="0.8"/>
<path d="M349.2 105.4 L356.2 109.2 L363.4 112.7 L370.7 115.9 L378.2 118.7" stroke="rgb(150,150,150)" stroke-width="0.6"/>
<path d="M383.8 119.3 L381.7 123.2 L380.0 127.3 L378.9 131.5 L378.3 135.9" stroke="rgb(125,125,125)" stroke-width="0.6"/>
<path d="M295.8 67.8 L298.4 66.0 L301.3 64.6 L304.4 63.8 L307.6 63.6" stroke="rgb(150,150,150)" stroke-width="0.8"/>
<path d="M313.3 79.3 L319.2 83.3 L324.9 87.6 L330.4 92.1 L335.7 96.9" stroke="rgb(150,150,150)" stroke-width="0.8"/>
<path d="M291.1 142.1 L291.3 134.7 L291.8 127.4 L292.5 120.2 L293.5 112.9" stroke="rgb(80,80,80)" stroke-width="0.6"/>
<path d="M329.4 39.8 L330.3 44.9 L330.8 50.0 L330.8 55.2 L330.3 60.3" stroke="rgb(125,125,125)" stroke-width="0.6"/>
<path d="M360.4 184.4 L360.0 176.1 L359.5 167.9 L358.8 159.6 L358.0 151.4" stroke="rgb(125,125,125)" stroke-width="0.6"/>
<path d="M339.9 169.5 L335.4 174.3 L331.5 179.5 L328.1 185.2 L325.3 191.1" stroke="rgb(100,100,100)" stroke-width="0.8"/>
<path d="M367.6 146.8 L370.4 153.6 L373.3 160.3 L376.3 167.0 L379.4 173.7" stroke="rgb(80,80,80)" stroke-width="0.6"/>
<path d="M354.8 93.1 L348.0 91.1 L341.3 88.6 L334.9 85.5 L328.7 81.9" stroke="rgb(125,125,125)" stroke-width="0.6"/>
<path d="M361.1 106.0 L358.4 110.8 L354.9 114.9 L350.7 118.4 L346.0 121.2" stroke="rgb(100,100,100)" stroke-width="0.8"/>
<path d="M409.9 104.9 L411.6 110.7 L412.9 116.5 L413.8 122.5 L414.3 128.5" stroke="rgb(80,80,80)" stroke-width="0.6"/>
<path d="M404.8 133.5 L410.9 133.0 L416.9 133.3 L422.9 134.4 L428.7 136.3" stroke="rgb(80,80,80)" stroke-width="0.6"/>
<path d="M339.0 51.1 L343.0 43.7 L348.1 37.0 L354.1 31.2 L360.8 26.2" stroke="rgb(180,180,180)" stroke-width="0.8"/>
<path d="M336.9 151.6 L332.9 158.1 L328.8 164.5 L324.3 170.7 L319.6 176.7" stroke="rgb(80,80,80)" stroke-width="0.8"/>
<path d="M402.2 69.5 L396.3 64.0 L391.2 57.7 L386.8 51.0 L383.3 43.7" stroke="rgb(100,100,100)" stroke-width="0.8"/>
<path d="M310.5 91.6 L306.9 94.6 L303.2 97.2 L299.2 99.5 L295.1 101.6" stroke="rgb(80,80,80)" stroke-width="0.6"/>
<path d="M338.1 166.6 L337.6 169.3 L336.6 171.8 L335.1 174.2 L333.3 176.2" stroke="rgb(180,180,180)" stroke-width="0.6"/>
<path d="M401.8 158.8 L397.8 152.8 L394.4 146.4 L391.8 139.6 L390.0 132.6" stroke="rgb(150,150,150)" stroke-width="0.6"/>
<path d="M390.9 153.5 L392.8 147.4 L395.6 141.6 L399.4 136.4 L403.9 131.8" stroke="rgb(125,125,125)" stroke-width="0.6"/>
<path d="M325.8 175.2 L324.0 178.3 L321.7 181.0 L319.0 183.3 L315.9 185.1" stroke="rgb(180,180,180)" stroke-width="0.6"/>
<path d="M343.6 102.5 L343.6 95.4 L343.8 88.2 L344.3 81.0 L345.0 73.9" stroke="rgb(125,125,125)" stroke-width="0.6"/>
<path d="M321.1 164.2 L317.0 166.6 L312.9 169.0 L308.7 171.2 L304.4 173.3" stroke="rgb(125,125,125)" stroke-width="0.8"/>
<path d="M287.8 143.7 L290.8 139.2 L294.0 135.0 L297.5 130.9 L301.1 126.9" stroke="rgb(150,150,150)" stroke-width="0.6"/>
<path d="M395.2 124.5 L393.6 120.6 L391.5 116.9 L389.1 113.4 L386.2 110.3" stroke="rgb(180,180,180)" stroke-width="0.8"/>
<path d="M384.1 148.1 L387.2 153.6 L390.5 159.0 L394.0 164.3 L397.5 169.5" stroke="rgb(150,150,150)" stroke-width="0.6"/>
<path d="M319.7 61.6 L311.8 62.2 L304.0 63.4 L296.3 65.2 L288.8 67.7" stroke="rgb(100,100,100)" stroke-width="0.6"/>
<path d="M326.8 41.6 L320.3 37.0 L314.5 31.5 L309.6 25.2 L305.5 18.4" stroke="rgb(80,80,80)" stroke-width="0.6"/>
<path d="M331.3 150.5 L327.7 151.5 L324.0 151.8 L320.3 151.4 L316.8 150.4" stroke="rgb(80,80,80)" stroke-width="0.6"/>
<path d="M318.4 98.8 L315.8 92.9 L313.8 86.7 L312.4 80.4 L311.5 74.0" stroke="rgb(180,180,180)" stroke-width="0.8"/>
<path d="M383.3 52.4 L388.2 58.7 L392.9 65.1 L397.2 71.8 L401.1 78.6" stroke="rgb(150,150,150)" stroke-width="0.8"/>
<path d="M326.5 99.1 L322.6 97.6 L318.9 95.6 L315.5 93.3 L312.4 90.5" stroke="rgb(150,150,150)" stroke-width="0.6"/>
<path d="M304.5 150.1 L308.0 148.0 L311.3 145.6 L314.4 142.8 L317.1 139.7" stroke="rgb(100,100,100)" stroke-width="0.6"/>
<path d="M404.8 171.9 L403.2 163.6 L400.5 155.5 L396.9 147.8 L392.4 140.7" stroke="rgb(150,150,150)" stroke-width="0.8"/>
<path d="M376.2 61.7 L368.1 62.7 L359.8 62.7 L351.7 61.5 L343.7 59.3" stroke="rgb(180,180,180)" stroke-width="0.8"/>
<path d="M414.6 127.0 L416.3 132.7 L418.5 138.4 L421.1 143.8 L424.1 149.1" stroke="rgb(150,150,150)" stroke-width="0.6"/>
<path d="M313.3 64.3 L313.5 59.5 L313.1 54.7 L311.8 50.0 L309.9 45.6" stroke="rgb(100,100,100)" stroke-width="0.6"/>
<path d="M346.6 147.0 L339.1 143.2 L332.0 138.9 L325.1 134.0 L318.7 128.7" stroke="rgb(100,100,100)" stroke-width="0.8"/>
<path d="M366.4 83.9 L363.9 77.4 L362.1 70.7 L361.0 63.8 L360.6 56.9" stroke="rgb(180,180,180)" stroke-width="0.8"/>
<path d="M362.2 145.6 L364.0 153.3 L364.5 161.2 L363.5 169.1 L361.1 176.7" stroke="rgb(100,100,100)" stroke-width="0.8"/>
<path d="M351.7 166.6 L346.8 171.9 L342.5 177.8 L339.0 184.2 L336.4 190.9" stroke="rgb(150,150,150)" stroke-width="0.8"/>
<path d="M301.4 113.9 L300.6 117.0 L300.2 120.2 L300.0 123.4 L300.2 126.6" stroke="rgb(180,180,180)" stroke-width="0.8"/>
<path d="M350.8 112.5 L348.2 107.7 L346.4 102.6 L345.5 97.3 L345.5 91.9" stroke="rgb(150,150,150)" stroke-width="0.6"/>
<path d="M328.9 130.7 L324.3 135.9 L320.2 141.5 L316.6 147.4 L313.4 153.6" stroke="rgb(80,80,80)" stroke-width="0.6"/>
<path d="M403.7 162.0 L398.9 162.3 L394.1 161.7 L389.4 160.3 L385.1 158.2" stroke="rgb(150,150,150)" stroke-width="0.6"/>
<path d="M345.2 48.8 L345.7 43.9 L345.6 39.1 L344.9 34.2 L343.8 29.5" stroke="rgb(150,150,150)" stroke-width="0.6"/>
<path d="M330.0 104.8 L324.6 103.5 L319.0 103.1 L313.5 103.4 L308.0 104.5" stroke="rgb(80,80,80)" stroke-width="0.8"/>
<path d="M325.3 130.2 L331.8 128.3 L338.2 126.2 L344.5 123.8 L350.8 121.1" stroke="rgb(180,180,180)" stroke-width="0.6"/>
<path d="M334.4 42.0 L339.9 37.8 L344.8 32.8 L348.8 27.1 L351.9 20.9" stroke="rgb(150,150,150)" stroke-width="0.6"/>
<path d="M373.3 40.3 L379.9 39.0 L386.4 37.5 L392.9 35.8 L399.3 33.8" stroke="rgb(125,125,125)" stroke-width="0.8"/>
<path d="M368.0 86.4 L368.0 81.9 L367.3 77.4 L365.9 73.2 L363.8 69.2" stroke="rgb(150,150,150)" stroke-width="0.6"/>
<path d="M358.0 162.8 L350.6 166.8 L343.3 171.0 L336.1 175.5 L329.1 180.1" stroke="rgb(180,180,180)" stroke-width="0.6"/>
<path d="M417.0 116.8 L410.4 113.3 L403.5 110.7 L396.3 108.9 L389.0 108.1" stroke="rgb(80,80,80)" stroke-width="0.6"/>
<path d="M355.7 112.0 L352.6 117.1 L348.7 121.7 L344.1 125.6 L338.9 128.6" stroke="rgb(80,80,80)" stroke-width="0.8"/>
<path d="M379.2 79.1 L374.6 75.3 L370.4 71.1 L366.6 66.5 L363.2 61.6" stroke="rgb(80,80,80)" stroke-width="0.6"/>
<path d="M338.3 154.9 L341.2 149.8 L343.2 144.2 L344.3 138.4 L344.4 132.5" stroke="rgb(100,100,100)" stroke-width="0.6"/>
<path d="M368.1 139.4 L361.3 135.3 L354.8 130.9 L348.5 126.1 L342.6 121.0" stroke="rgb(80,80,80)" stroke-width="0.6"/>
<path d="M385.6 42.3 L388.8 48.3 L392.3 54.1 L396.0 59.7 L400.1 65.1" stroke="rgb(80,80,80)" stroke-width="0.6"/>
<path d="M394.1 126.7 L391.0 126.8 L387.8 126.4 L384.7 125.6 L381.7 124.5" stroke="rgb(125,125,125)" stroke-width="0.8"/>
<path d="M381.1 44.8 L382.6 47.5 L384.0 50.3 L385.2 53.2 L386.4 56.1" stroke="rgb(150,150,150)" stroke-width="0.6"/>
<path d="M306.7 132.1 L301.7 132.5 L296.8 133.4 L292.0 134.5 L287.3 136.0" stroke="rgb(125,125,125)" stroke-width="0.6"/>
<path d="M368.0 135.2 L369.4 139.9 L370.8 144.7 L371.9 149.6 L373.0 154.4" stroke="rgb(100,100,100)" stroke-width="0.6"/>
<path d="M304.6 125.8 L302.7 119.9 L301.4 113.8 L300.7 107.6 L300.6 101.3" stroke="rgb(180,180,180)" stroke-width="0.6"/>
<path d="M293.9 147.7 L301.7 149.8 L309.8 150.4 L317.9 149.8 L325.8 147.7" stroke="rgb(80,80,80)" stroke-width="0.6"/>
<path d="M365.3 112.0 L372.3 111.8 L379.2 112.3 L386.0 113.6 L392.7 115.6" stroke="rgb(100,100,100)" stroke-width="0.8"/>
<path d="M311.3 32.2 L316.9 32.5 L322.5 32.6 L328.1 32.5 L333.7 32.3" stroke="rgb(150,150,150)" stroke-width="0.8"/>
<path d="M424.0 118.6 L418.4 120.3 L413.1 122.7 L408.1 125.8 L403.5 129.5" stroke="rgb(125,125,125)" stroke-width="0.8"/>
<path d="M373.4 77.2 L372.4 79.5 L371.1 81.7 L369.5 83.6 L367.6 85.2" stroke="rgb(150,150,150)" stroke-width="0.8"/>
<path d="M352.6 21.1 L354.2 24.9 L356.0 28.4 L358.3 31.8 L360.8 34.9" stroke="rgb(80,80,80)" stroke-width="0.6"/>
<path d="M320.5 109.0 L325.4 112.0 L330.0 115.5 L334.2 119.4 L338.0 123.7" stroke="rgb(80,80,80)" stroke-width="0.6"/>
<path d="M382.3 116.3 L386.3 113.7 L390.6 111.6 L395.0 109.9 L399.7 108.9" stroke="rgb(125,125,125)" stroke-width="0.8"/>
<path d="M352.9 122.5 L352.1 126.3 L350.9 130.0 L349.5 133.5 L347.8 137.0" stroke="rgb(150,150,150)" stroke-width="0.8"/>
<path d="M386.3 139.0 L388.8 136.8 L391.0 134.4 L392.7 131.6 L394.1 128.6" stroke="rgb(100,100,100)" stroke-width="0.6"/>
<path d="M345.1 164.6 L338.9 170.0 L332.6 175.4 L326.3 180.8 L320.0 186.2" stroke="rgb(180,180,180)" stroke-width="0.6"/>
<path d="M348.5 108.6 L351.2 109.9 L353.7 111.3 L356.2 112.8 L358.6 114.5" stroke="rgb(100,100,100)" stroke-width="0.6"/>
<path d="M289.0 169.0 L294.9 163.8 L300.7 158.5 L306.4 153.1 L312.1 147.6" stroke="rgb(125,125,125)" stroke-width="0.8"/>
<path d="M359.4 60.9 L360.5 56.8 L361.0 52.7 L361.1 48.5 L360.8 44.4" stroke="rgb(125,125,125)" stroke-width="0.8"/>
<path d="M315.8 140.0 L318.8 143.6 L321.5 147.4 L323.9 151.4 L325.9 155.6" stroke="rgb(180,180,180)" stroke-width="0.8"/>
<path d="M398.8 93.3 L405.8 91.7 L412.4 89.1 L418.5 85.3 L423.9 80.7" stroke="rgb(125,125,125)" stroke-width="0.8"/>
<path d="M273.6 108.7 L281.9 110.4 L289.8 113.5 L297.0 117.9 L303.3 123.6" stroke="rgb(100,100,100)" stroke-width="0.8"/>
<path d="M357.0 76.8 L360.4 76.8 L363.8 76.5 L367.2 76.1 L370.6 75.6" stroke="rgb(100,100,100)" stroke-width="0.8"/>
<path d="M321.2 96.2 L320.6 88.9 L321.4 81.6 L323.4 74.5 L326.7 67.9" stroke="rgb(125,125,125)" stroke-width="0.6"/>
<path d="M308.3 115.5 L305.4 123.5 L301.7 131.2 L297.4 138.6 L292.4 145.5" stroke="rgb(100,100,100)" stroke-width="0.8"/>
<path d="M348.8 158.1 L347.3 165.6 L346.6 173.3 L346.7 180.9 L347.6 188.5" stroke="rgb(180,180,180)" stroke-width="0.8"/>
<path d="M315.3 81.4 L310.4 88.5 L305.6 95.7 L300.7 102.8 L295.8 110.0" stroke="rgb(100,100,100)" stroke-width="0.6"/>
<path d="M350.8 138.1 L349.8 145.7 L347.9 153.1 L345.3 160.3 L341.9 167.2" stroke="rgb(180,180,180)" stroke-width="0.8"/>
<path d="M364.9 154.6 L366.7 160.0 L367.9 165.5 L368.6 171.1 L368.7 176.8" stroke="rgb(125,125,125)" stroke-width="0.8"/>
<path d="M301.5 37.5 L305.7 39.5 L309.6 42.0 L313.3 44.8 L316.6 48.1" stroke="rgb(125,125,125)" stroke-width="0.8"/>
<path d="M346.6 67.9 L352.7 67.9 L358.9 67.3 L364.9 66.2 L370.9 64.6" stroke="rgb(125,125,125)" stroke-width="0.6"/>
<path d="M302.4 61.1 L304.5 59.3 L306.3 57.2 L307.8 54.9 L309.1 52.4" stroke="rgb(180,180,180)" stroke-width="0.8"/>
<path d="M301.1 124.0 L305.4 117.3 L309.9 110.7 L314.6 104.2 L319.6 97.9" stroke="rgb(80,80,80)" stroke-width="0.8"/>
<path d="M348.1 90.3 L352.6 95.4 L357.5 100.1 L362.8 104.3 L368.5 107.9" stroke="rgb(80,80,80)" stroke-width="0.8"/>
<path d="M348.5 107.1 L352.8 106.4 L357.1 105.6 L361.4 104.6 L365.7 103.5" stroke="rgb(125,125,125)" stroke-width="0.8"/>
<path d="M356.5 112.7 L357.1 118.6 L358.3 124.4 L359.9 130.0 L362.0 135.5" stroke="rgb(150,150,150)" stroke-width="0.8"/>
<path d="M331.7 133.3 L334.0 130.6 L335.8 127.6 L337.2 124.3 L337.9 120.8" stroke="rgb(180,180,180)" stroke-width="0.8"/>
<path d="M333.5 93.1 L338.6 96.5 L343.7 99.8 L348.9 103.0 L354.2 106.0" stroke="rgb(100,100,100)" stroke-width="0.6"/>
<path d="M311.7 52.5 L312.0 48.8 L311.9 45.1 L311.4 41.5 L310.5 38.0" stroke="rgb(125,125,125)" stroke-width="0.6"/>
<path d="M357.5 156.4 L357.3 160.4 L357.3 164.4 L357.3 168.4 L357.5 172.4" stroke="rgb(125,125,125)" stroke-width="0.8"/>
<path d="M410.8 95.9 L412.0 102.6 L413.7 109.2 L415.8 115.7 L418.3 122.1" stroke="rgb(180,180,180)" stroke-width="0.8"/>
<path d="M350.5 57.8 L351.7 55.6 L353.1 53.5 L354.7 51.5 L356.4 49.7" stroke="rgb(100,100,100)" stroke-width="0.6"/>
<path d="M375.0 161.2 L380.3 164.6 L386.1 167.2 L392.2 168.9 L398.6 169.5" stroke="rgb(100,100,100)" stroke-width="0.8"/>
<path d="M355.6 23.8 L359.0 31.6 L361.6 39.8 L363.3 48.2 L364.2 56.7" stroke="rgb(150,150,150)" stroke-width="0.8"/>
<path d="M323.1 114.0 L327.0 110.5 L330.5 106.7 L333.6 102.5 L336.2 98.1" stroke="rgb(80,80,80)" stroke-width="0.6"/>
<path d="M354.3 119.9 L348.8 122.4 L343.4 124.9 L338.0 127.6 L332.7 130.4" stroke="rgb(125,125,125)" stroke-width="0.8"/>
<path d="M351.2 143.2 L348.9 140.9 L346.2 138.9 L343.2 137.4 L340.0 136.4" stroke="rgb(150,150,150)" stroke-width="0.6"/>
<path d="M314.8 54.9 L313.5 47.7 L311.8 40.5 L309.7 33.4 L307.2 26.5" stroke="rgb(125,125,125)" stroke-width="0.6"/>
<path d="M317.5 147.8 L318.5 145.5 L319.5 143.1 L320.5 140.7 L321.4 138.3" stroke="rgb(180,180,180)" stroke-width="0.6"/>
<path d="M302.0 82.5 L302.3 78.2 L302.7 74.0 L303.1 69.8 L303.7 65.5" stroke="rgb(125,125,125)" stroke-width="0.6"/>
<path d="M313.2 112.5 L310.9 114.2 L308.3 115.5 L305.5 116.3 L302.6 116.7" stroke="rgb(80,80,80)" stroke-width="0.6"/>
<path d="M334.5 86.8 L329.4 89.3 L324.5 92.3 L320.0 95.8 L315.8 99.7" stroke="rgb(150,150,150)" stroke-width="0.8"/>
<path d="M378.0 68.5 L385.2 64.3 L391.9 59.4 L398.1 53.9 L403.7 47.8" stroke="rgb(125,125,125)" stroke-width="0.6"/>
<path d="M333.7 107.5 L337.4 105.0 L341.1 102.5 L344.9 100.1 L348.6 97.6" stroke="rgb(180,180,180)" stroke-width="0.6"/>
<path d="M403.3 98.3 L404.9 104.0 L406.7 109.7 L408.9 115.2 L411.5 120.5" stroke="rgb(180,180,180)" stroke-width="0.6"/>
<path d="M287.4 160.7 L293.5 158.5 L299.6 156.3 L305.8 154.3 L312.0 152.3" stroke="rgb(150,150,150)" stroke-width="0.8"/>
<path d="M284.3 118.9 L288.1 112.0 L291.0 104.6 L292.9 96.9 L293.6 88.9" stroke="rgb(125,125,125)" stroke-width="0.8"/>
<path d="M332.5 96.8 L327.8 97.6 L323.2 98.0 L318.5 97.9 L313.8 97.5" stroke="rgb(125,125,125)" stroke-width="0.8"/>
<path d="M301.6 52.9 L303.3 58.0 L305.3 63.0 L307.4 67.8 L309.8 72.6" stroke="rgb(180,180,180)" stroke-width="0.6"/>
<path d="M322.8 85.6 L316.6 84.8 L310.2 84.9 L304.0 85.9 L297.9 87.7" stroke="rgb(180,180,180)" stroke-width="0.8"/>
<path d="M319.1 135.8 L312.6 137.1 L306.0 137.8 L299.4 137.7 L292.8 137.0" stroke="rgb(100,100,100)" stroke-width="0.8"/>
<path d="M382.8 33.4 L385.7 39.4 L388.3 45.7 L390.4 52.1 L392.1 58.6" stroke="rgb(80,80,80)" stroke-width="0.6"/>
<path d="M344.2 120.7 L337.9 122.0 L331.5 122.5 L325.1 122.2 L318.8 121.2" stroke="rgb(150,150,150)" stroke-width="0.6"/>
<path d="M384.8 47.1 L385.0 50.8 L384.7 54.4 L383.7 58.0 L382.2 61.3" stroke="rgb(150,150,150)" stroke-width="0.6"/>
<path d="M397.0 105.7 L397.8 100.5 L397.7 95.2 L396.7 89.9 L394.8 85.0" stroke="rgb(80,80,80)" stroke-width="0.8"/>
<path d="M377.4 145.6 L377.7 151.4 L377.7 157.2 L377.6 162.9 L377.1 168.7" stroke="rgb(80,80,80)" stroke-width="0.6"/>
<path d="M299.0 134.4 L293.8 138.3 L288.2 141.5 L282.1 143.8 L275.8 145.3" stroke="rgb(125,125,125)" stroke-width="0.8"/>
<path d="M390.9 101.6 L397.4 105.4 L403.3 110.2 L408.5 115.8 L412.7 122.1" stroke="rgb(80,80,80)" stroke-width="0.6"/>
<path d="M392.3 53.7 L393.2 56.2 L394.4 58.7 L395.9 60.9 L397.6 63.0" stroke="rgb(80,80,80)" stroke-width="0.6"/>
<path d="M305.0 127.1 L301.7 126.3 L298.3 125.9 L294.9 126.1 L291.6 126.7" stroke="rgb(180,180,180)" stroke-width="0.8"/>
<path d="M301.1 108.0 L298.3 107.2 L295.7 106.1 L293.1 104.7 L290.7 103.2" stroke="rgb(125,125,125)" stroke-width="0.6"/>
<path d="M376.6 39.6 L377.7 37.0 L379.1 34.5 L380.8 32.3 L382.8 30.3" stroke="rgb(80,80,80)" stroke-width="0.6"/>
<path d="M350.3 135.5 L346.0 142.1 L341.0 148.3 L335.4 153.8 L329.2 158.7" stroke="rgb(80,80,80)" stroke-width="0.6"/>
<path d="M309.0 165.0 L307.5 167.4 L306.5 170.1 L306.0 172.8 L305.9 175.6" stroke="rgb(100,100,100)" stroke-width="0.8"/>
<path d="M395.9 149.0 L390.8 142.9 L386.2 136.4 L382.4 129.4 L379.4 122.1" stroke="rgb(125,125,125)" stroke-width="0.6"/>
<path d="M391.2 166.4 L388.0 166.8 L384.9 166.8 L381.8 166.5 L378.7 165.8" stroke="rgb(100,100,100)" stroke-width="0.8"/>
<path d="M292.3 74.7 L297.0 69.7 L302.5 65.5 L308.6 62.3 L315.2 60.2" stroke="rgb(125,125,125)" stroke-width="0.6"/>
<path d="M429.1 155.4 L424.9 153.2 L420.8 150.8 L416.8 148.3 L412.9 145.5" stroke="rgb(125,125,125)" stroke-width="0.8"/>
<path d="M367.7 173.5 L371.8 168.8 L375.5 163.7 L378.7 158.4 L381.4 152.8" stroke="rgb(125,125,125)" stroke-width="0.8"/>
<path d="M377.9 117.0 L383.9 122.3 L390.5 127.0 L397.5 130.9 L404.9 134.1" stroke="rgb(180,180,180)" stroke-width="0.8"/>
<path d="M346.4 103.5 L347.8 111.9 L348.4 120.4 L348.1 128.9 L347.0 137.4" stroke="rgb(100,100,100)" stroke-width="0.6"/>
<path d="M404.0 103.2 L406.8 103.3 L409.7 103.4 L412.5 103.4 L415.3 103.5" stroke="rgb(100,100,100)" stroke-width="0.6"/>
<path d="M332.4 66.9 L329.6 62.1 L326.2 57.7 L322.3 53.8 L317.9 50.4" stroke="rgb(100,100,100)" stroke-width="0.6"/>
<path d="M389.2 130.0 L383.3 126.3 L377.7 122.4 L372.2 118.3 L366.9 114.0" stroke="rgb(80,80,80)" stroke-width="0.6"/>
<path d="M343.8 74.6 L341.9 71.8 L339.7 69.4 L337.2 67.2 L334.4 65.4" stroke="rgb(125,125,125)" stroke-width="0.6"/>
<path d="M321.0 189.6 L319.1 186.3 L317.0 183.2 L314.7 180.2 L312.2 177.4" stroke="rgb(100,100,100)" stroke-width="0.8"/>
<path d="M317.7 100.6 L313.7 99.9 L309.6 99.6 L305.5 99.8 L301.5 100.6" stroke="rgb(150,150,150)" stroke-width="0.8"/>
<path d="M297.5 112.5 L297.4 107.1 L297.2 101.7 L296.8 96.4 L296.3 91.0" stroke="rgb(80,80,80)" stroke-width="0.6"/>
<path d="M358.3 30.3 L366.7 31.8 L375.2 32.7 L383.7 33.0 L392.2 32.6" stroke="rgb(80,80,80)" stroke-width="0.8"/>
<path d="M356.4 30.7 L357.6 35.1 L359.0 39.5 L360.7 43.8 L362.5 48.0" stroke="rgb(80,80,80)" stroke-width="0.8"/>
<path d="M358.1 49.2 L355.6 44.1 L353.6 38.7 L352.2 33.2 L351.4 27.5" stroke="rgb(125,125,125)" stroke-width="0.8"/>
<path d="M365.8 171.2 L359.3 170.8 L353.0 170.0 L346.6 168.7 L340.4 167.1" stroke="rgb(180,180,180)" stroke-width="0.8"/>
<path d="M368.4 98.7 L371.1 97.9 L373.6 96.8 L376.0 95.5 L378.3 93.9" stroke="rgb(100,100,100)" stroke-width="0.8"/>
<path d="M405.0 116.5 L409.2 117.5 L413.3 118.7 L417.3 120.2 L421.3 121.8" stroke="rgb(125,125,125)" stroke-width="0.6"/>
<path d="M375.3 153.5 L369.4 150.9 L363.4 148.9 L357.2 147.5 L350.9 146.6" stroke="rgb(80,80,80)" stroke-width="0.6"/>
<path d="M361.7 34.2 L354.6 38.6 L348.2 44.0 L342.8 50.3 L338.3 57.4" stroke="rgb(150,150,150)" stroke-width="0.6"/>
<path d="M342.6 24.6 L342.2 33.1 L341.7 41.6 L341.2 50.1 L340.6 58.6" stroke="rgb(100,100,100)" stroke-width="0.6"/>
<path d="M432.1 167.3 L424.0 165.9 L415.9 165.0 L407.7 164.3 L399.5 164.1" stroke="rgb(80,80,80)" stroke-width="0.8"/>
<path d="M393.4 114.8 L400.6 115.0 L407.8 114.6 L414.9 113.4 L421.8 111.6" stroke="rgb(100,100,100)" stroke-width="0.6"/>
<path d="M407.5 166.1 L401.3 167.2 L395.4 169.3 L389.9 172.3 L384.9 176.2" stroke="rgb(150,150,150)" stroke-width="0.6"/>
<path d="M354.5 55.5 L353.6 58.4 L353.2 61.3 L353.2 64.2 L353.7 67.1" stroke="rgb(180,180,180)" stroke-width="0.8"/>
<path d="M298.7 39.1 L302.1 45.1 L304.8 51.5 L306.9 58.1 L308.3 64.9" stroke="rgb(125,125,125)" stroke-width="0.6"/>
<path d="M387.0 156.8 L383.8 153.1 L380.5 149.5 L377.3 145.8 L374.0 142.2" stroke="rgb(100,100,100)" stroke-width="0.8"/>
<path d="M387.4 52.3 L385.0 48.3 L382.0 44.6 L378.6 41.4 L374.7 38.8" stroke="rgb(150,150,150)" stroke-width="0.8"/>
<path d="M341.2 98.0 L335.4 98.7 L329.6 99.5 L323.9 100.3 L318.1 101.1" stroke="rgb(150,150,150)" stroke-width="0.8"/>
<path d="M298.9 110.9 L296.5 112.9 L294.2 115.0 L292.1 117.3 L290.1 119.7" stroke="rgb(100,100,100)" stroke-width="0.6"/>
<path d="M389.9 159.2 L390.2 162.8 L391.1 166.4 L392.5 169.8 L394.4 172.9" stroke="rgb(180,180,180)" stroke-width="0.6"/>
<path d="M365.9 61.0 L369.2 65.5 L372.9 69.8 L376.9 73.8 L381.2 77.5" stroke="rgb(100,100,100)" stroke-width="0.8"/>
<path d="M318.9 46.6 L317.5 44.1 L316.1 41.6 L314.9 38.9 L313.8 36.3" stroke="rgb(125,125,125)" stroke-width="0.6"/>
<path d="M381.2 95.3 L377.0 98.2 L372.6 100.8 L368.0 103.0 L363.3 104.8" stroke="rgb(180,180,180)" stroke-width="0.8"/>
<path d="M362.1 165.5 L356.9 166.2 L351.8 167.2 L346.8 168.7 L342.0 170.7" stroke="rgb(125,125,125)" stroke-width="0.8"/>
<path d="M309.9 111.4 L305.8 116.6 L300.9 121.1 L295.3 124.7 L289.2 127.4" stroke="rgb(150,150,150)" stroke-width="0.8"/>
<path d="M354.7 50.4 L360.4 44.4 L365.8 38.2 L370.7 31.6 L375.3 24.8" stroke="rgb(180,180,180)" stroke-width="0.8"/>
<path d="M378.2 116.3 L384.9 118.2 L391.8 119.5 L398.7 120.2 L405.7 120.5" stroke="rgb(125,125,125)" stroke-width="0.6"/>
<path d="M385.4 81.1 L391.4 80.7 L397.4 81.0 L403.3 81.8 L409.1 83.3" stroke="rgb(150,150,150)" stroke-width="0.6"/>
<path d="M367.9 127.9 L369.2 131.4 L370.7 134.7 L372.3 138.0 L374.1 141.2" stroke="rgb(150,150,150)" stroke-width="0.8"/>
<path d="M342.8 95.0 L342.9 91.0 L342.8 87.0 L342.6 83.1 L342.3 79.1" stroke="rgb(80,80,80)" stroke-width="0.6"/>
<path d="M336.1 65.2 L336.1 60.3 L335.4 55.4 L333.9 50.8 L331.8 46.4" stroke="rgb(125,125,125)" stroke-width="0.6"/>
<path d="M341.4 120.9 L338.1 124.7 L334.8 128.6 L331.5 132.4 L328.2 136.3" stroke="rgb(80,80,80)" stroke-width="0.8"/>
<path d="M390.6 88.9 L398.3 87.2 L406.1 86.8 L414.0 87.6 L421.6 89.6" stroke="rgb(80,80,80)" stroke-width="0.8"/>
<path d="M333.7 131.1 L328.9 129.0 L324.4 126.2 L320.4 122.9 L316.9 119.0" stroke="rgb(150,150,150)" stroke-width="0.8"/>
<path d="M305.3 154.1 L301.4 147.9 L298.1 141.3 L295.6 134.4 L293.9 127.3" stroke="rgb(125,125,125)" stroke-width="0.6"/>
<path d="M375.0 114.2 L376.4 111.7 L378.1 109.3 L379.9 107.0 L381.9 104.9" stroke="rgb(150,150,150)" stroke-width="0.6"/>
<path d="M296.5 68.7 L298.7 64.7 L300.9 60.6 L303.1 56.5 L305.2 52.4" stroke="rgb(180,180,180)" stroke-width="0.6"/>
<path d="M364.9 168.3 L358.4 166.7" stroke="rgb(220,220,220)" stroke-width="1.0" stroke-dasharray="2 1.5"/>
<path d="M390.5 163.8 L382.9 165.9" stroke="rgb(140,140,140)" stroke-width="1.0" stroke-dasharray="3 1.5"/>
<path d="M358.8 166.2 L349.3 170.1" stroke="rgb(180,180,180)" stroke-width="0.8" stroke-dasharray="4 2"/>
<path d="M386.5 163.9 L375.4 173.2" stroke="rgb(220,220,220)" stroke-width="1.0" stroke-dasharray="2 1.5"/>
<path d="M416.3 159.7 L402.6 163.2" stroke="rgb(140,140,140)" stroke-width="0.8" stroke-dasharray="2 1.5"/>
<path d="M358.6 165.0 L345.1 168.5" stroke="rgb(140,140,140)" stroke-width="0.8" stroke-dasharray="3 1.5"/>
<path d="M387.3 168.4 L371.8 171.2" stroke="rgb(220,220,220)" stroke-width="0.8" stroke-dasharray="2 1.5"/>
<path d="M355.2 169.5 L343.5 170.4" stroke="rgb(180,180,180)" stroke-width="0.8" stroke-dasharray="2 1.5"/>
<path d="M332.0 173.6 L325.2 177.0" stroke="rgb(180,180,180)" stroke-width="0.8" stroke-dasharray="2 1.5"/>
<path d="M393.9 165.2 L382.9 167.1" stroke="rgb(140,140,140)" stroke-width="0.8" stroke-dasharray="4 2"/>
<path d="M381.4 169.7 L372.1 170.8" stroke="rgb(140,140,140)" stroke-width="1.0" stroke-dasharray="2 1.5"/>
<path d="M349.6 167.8 L343.0 169.7" stroke="rgb(180,180,180)" stroke-width="1.0" stroke-dasharray="2 1.5"/>
<path d="M381.1 169.1 L367.7 166.1" stroke="rgb(220,220,220)" stroke-width="0.8" stroke-dasharray="3 1.5"/>
<path d="M370.8 168.3 L363.1 169.9" stroke="rgb(220,220,220)" stroke-width="0.8" stroke-dasharray="3 1.5"/>
<path d="M377.3 168.2 L362.4 169.4" stroke="rgb(180,180,180)" stroke-width="0.8" stroke-dasharray="4 2"/>
<path d="M412.5 164.6 L396.6 164.4" stroke="rgb(220,220,220)" stroke-width="1.0" stroke-dasharray="2 1.5"/>
<path d="M348.3 172.2 L341.9 174.0" stroke="rgb(140,140,140)" stroke-width="1.0" stroke-dasharray="3 1.5"/>
<path d="M416.6 164.0 L402.4 164.1" stroke="rgb(140,140,140)" stroke-width="0.8" stroke-dasharray="4 2"/>
<path d="M393.0 165.8 L382.2 169.5" stroke="rgb(140,140,140)" stroke-width="1.0" stroke-dasharray="2 1.5"/>
<path d="M366.4 166.8 L352.8 170.5" stroke="rgb(220,220,220)" stroke-width="1.0" stroke-dasharray="4 2"/>
<path d="M363.1 168.9 L352.0 164.3" stroke="rgb(140,140,140)" stroke-width="0.8" stroke-dasharray="2 1.5"/>
<path d="M395.9 168.9 L389.1 167.2" stroke="rgb(140,140,140)" stroke-width="1.0" stroke-dasharray="3 1.5"/>
<path d="M414.5 163.4 L399.1 163.8" stroke="rgb(140,140,140)" stroke-width="1.0" stroke-dasharray="4 2"/>
<path d="M423.3 164.6 L412.0 165.6" stroke="rgb(140,140,140)" stroke-width="1.0" stroke-dasharray="2 1.5"/>
<path d="M393.7 164.5 L388.2 167.0" stroke="rgb(140,140,140)" stroke-width="0.8" stroke-dasharray="4 2"/>
<path d="M396.1 162.9 L386.3 163.0" stroke="rgb(180,180,180)" stroke-width="0.8" stroke-dasharray="3 1.5"/>
<path d="M373.7 167.6 L359.7 168.3" stroke="rgb(140,140,140)" stroke-width="0.8" stroke-dasharray="4 2"/>
<path d="M335.2 173.6 L326.2 179.1" stroke="rgb(220,220,220)" stroke-width="0.8" stroke-dasharray="2 1.5"/>
<path d="M366.1 170.5 L355.3 163.0" stroke="rgb(220,220,220)" stroke-width="1.0" stroke-dasharray="2 1.5"/>
<path d="M369.2 164.5 L358.8 168.0" stroke="rgb(180,180,180)" stroke-width="1.0" stroke-dasharray="2 1.5"/>
<path d="M352.6 169.7 L341.9 173.1" stroke="rgb(220,220,220)" stroke-width="0.8" stroke-dasharray="3 1.5"/>
<path d="M360.3 168.9 L348.1 173.3" stroke="rgb(220,220,220)" stroke-width="0.8" stroke-dasharray="2 1.5"/>
<path d="M382.2 169.8 L371.2 167.1" stroke="rgb(220,220,220)" stroke-width="0.8" stroke-dasharray="3 1.5"/>
<path d="M384.7 168.6 L376.2 169.8" stroke="rgb(140,140,140)" stroke-width="0.8" stroke-dasharray="3 1.5"/>
<path d="M354.8 170.7 L344.5 169.7" stroke="rgb(220,220,220)" stroke-width="1.0" stroke-dasharray="2 1.5"/>
<path d="M377.4 162.8 L367.2 169.8" stroke="rgb(180,180,180)" stroke-width="0.8" stroke-dasharray="3 1.5"/>
<path d="M355.4 164.0 L344.2 169.2" stroke="rgb(140,140,140)" stroke-width="0.8" stroke-dasharray="4 2"/>
<path d="M404.2 161.0 L396.0 163.5" stroke="rgb(180,180,180)" stroke-width="0.8" stroke-dasharray="2 1.5"/>
<path d="M366.5 166.6 L360.2 170.1" stroke="rgb(220,220,220)" stroke-width="0.8" stroke-dasharray="3 1.5"/>
<path d="M426.9 168.3 L414.3 161.7" stroke="rgb(220,220,220)" stroke-width="0.8" stroke-dasharray="2 1.5"/>
<path d="M361.8 169.6 L352.8 172.2" stroke="rgb(180,180,180)" stroke-width="0.8" stroke-dasharray="4 2"/>
<path d="M395.4 165.1 L386.5 170.0" stroke="rgb(180,180,180)" stroke-width="0.8" stroke-dasharray="3 1.5"/>
<path d="M387.2 159.9 L375.0 170.0" stroke="rgb(180,180,180)" stroke-width="1.0" stroke-dasharray="2 1.5"/>
<path d="M384.8 170.2 L378.2 168.8" stroke="rgb(140,140,140)" stroke-width="1.0" stroke-dasharray="3 1.5"/>
<path d="M356.5 169.5 L343.7 172.7" stroke="rgb(180,180,180)" stroke-width="1.0" stroke-dasharray="4 2"/>
</g></g>
<rect x="467" y="11" width="216" height="199" fill="#070707"/>
<rect x="467" y="11" width="216" height="199" fill="#fff" filter="url(#noise)" opacity="0.03"/>
<clipPath id="clip3"><path d="M533.0 33.1 L556.7 31.8 L577.7 27.9 L601.4 31.8 L607.9 38.4 L614.5 54.2 L622.4 68.6 L632.9 75.2 L635.5 88.3 L634.2 106.7 L636.8 125.1 L640.8 146.1 L643.4 167.1 L622.4 167.1 L601.4 171.1 L569.8 172.4 L551.4 180.3 L543.5 190.8 L535.7 182.9 L519.9 164.5 L509.4 143.5 L510.7 125.1 L512.0 98.8 L514.6 69.9 L522.5 54.2 L530.4 41.0 Z"/></clipPath>
<g clip-path="url(#clip3)">
<path d="M533.0 33.1 L556.7 31.8 L577.7 27.9 L601.4 31.8 L607.9 38.4 L614.5 54.2 L622.4 68.6 L632.9 75.2 L635.5 88.3 L634.2 106.7 L636.8 125.1 L640.8 146.1 L643.4 167.1 L622.4 167.1 L601.4 171.1 L569.8 172.4 L551.4 180.3 L543.5 190.8 L535.7 182.9 L519.9 164.5 L509.4 143.5 L510.7 125.1 L512.0 98.8 L514.6 69.9 L522.5 54.2 L530.4 41.0 Z" fill="#121212" stroke="none"/>
<g fill="none" stroke-linecap="round" filter="url(#soft)">
<path d="M566.0 160.5 L560.4 166.3 L554.4 171.6 L548.0 176.4 L541.3 180.8" stroke="rgb(75,75,75)" stroke-width="0.6"/>
<path d="M578.0 33.0 L582.4 32.5 L586.9 32.3 L591.3 32.5 L595.7 32.9" stroke="rgb(40,40,40)" stroke-width="0.8"/>
<path d="M549.4 191.3 L547.0 187.4 L544.7 183.3 L542.7 179.1 L541.0 174.8" stroke="rgb(60,60,60)" stroke-width="0.6"/>
<path d="M580.8 57.4 L573.6 63.7 L566.9 70.4 L560.6 77.6 L554.9 85.2" stroke="rgb(50,50,50)" stroke-width="0.8"/>
<path d="M549.9 34.0 L556.4 34.2 L562.7 35.4 L568.6 37.8 L574.1 41.2" stroke="rgb(40,40,40)" stroke-width="0.8"/>
<path d="M531.4 160.8 L526.7 158.7 L521.6 157.2 L516.4 156.5 L511.2 156.5" stroke="rgb(40,40,40)" stroke-width="0.6"/>
<path d="M568.7 89.2 L561.1 87.2 L553.7 84.8 L546.5 82.0 L539.4 78.8" stroke="rgb(50,50,50)" stroke-width="0.6"/>
<path d="M512.6 125.5 L512.8 117.4 L513.6 109.4 L514.9 101.4 L516.8 93.6" stroke="rgb(75,75,75)" stroke-width="0.6"/>
<path d="M558.4 57.9 L557.6 52.5 L557.1 47.1 L556.7 41.6 L556.4 36.1" stroke="rgb(40,40,40)" stroke-width="0.6"/>
<path d="M586.9 64.4 L583.5 60.7 L580.3 56.8 L577.2 52.8 L574.4 48.6" stroke="rgb(75,75,75)" stroke-width="0.6"/>
<path d="M554.2 76.4 L547.9 71.6 L541.1 67.6 L533.8 64.5 L526.3 62.1" stroke="rgb(50,50,50)" stroke-width="0.8"/>
<path d="M522.8 123.5 L518.8 115.4 L514.6 107.4 L510.2 99.5 L505.7 91.7" stroke="rgb(50,50,50)" stroke-width="0.8"/>
<path d="M549.0 141.2 L554.3 136.2 L559.1 130.9 L563.6 125.2 L567.5 119.2" stroke="rgb(60,60,60)" stroke-width="0.8"/>
<path d="M550.8 74.2 L542.9 72.3 L535.5 69.1 L528.7 64.7 L522.7 59.2" stroke="rgb(50,50,50)" stroke-width="0.6"/>
<path d="M542.1 87.6 L534.8 89.5 L527.2 90.5 L519.6 90.3 L512.0 89.0" stroke="rgb(60,60,60)" stroke-width="0.8"/>
<path d="M533.3 42.6 L535.6 46.0 L537.4 49.6 L538.8 53.4 L539.8 57.3" stroke="rgb(50,50,50)" stroke-width="0.6"/>
<path d="M588.9 90.0 L587.3 85.3 L586.5 80.3 L586.3 75.3 L587.0 70.3" stroke="rgb(50,50,50)" stroke-width="0.8"/>
<path d="M559.7 126.0 L563.2 120.6 L566.3 114.8 L568.9 108.9 L571.0 102.7" stroke="rgb(50,50,50)" stroke-width="0.6"/>
<path d="M619.6 161.2 L620.1 155.8 L619.6 150.4 L618.2 145.1 L616.0 140.2" stroke="rgb(50,50,50)" stroke-width="0.6"/>
<path d="M577.1 82.1 L582.4 79.6 L587.7 77.0 L592.9 74.3 L598.0 71.5" stroke="rgb(75,75,75)" stroke-width="0.6"/>
<path d="M553.7 82.1 L550.1 78.3 L546.8 74.1 L544.1 69.6 L541.8 64.9" stroke="rgb(75,75,75)" stroke-width="0.8"/>
<path d="M622.9 91.7 L627.6 91.5 L632.4 90.7 L636.9 89.3 L641.3 87.4" stroke="rgb(60,60,60)" stroke-width="0.6"/>
<path d="M587.1 52.6 L582.3 53.0 L577.4 53.0 L572.6 52.7 L567.8 52.1" stroke="rgb(40,40,40)" stroke-width="0.8"/>
<path d="M609.2 99.3 L605.0 107.2 L600.3 115.0 L595.4 122.6 L590.2 130.0" stroke="rgb(40,40,40)" stroke-width="0.8"/>
<path d="M550.7 30.8 L557.2 33.2 L563.5 36.1 L569.6 39.4 L575.5 43.1" stroke="rgb(40,40,40)" stroke-width="0.6"/>
<path d="M620.2 110.3 L626.2 105.7 L632.1 100.8 L637.7 95.7 L643.2 90.3" stroke="rgb(75,75,75)" stroke-width="0.8"/>
<path d="M519.7 94.0 L522.7 98.3 L526.4 102.0 L530.6 105.1 L535.3 107.4" stroke="rgb(40,40,40)" stroke-width="0.6"/>
<path d="M548.2 73.3 L552.7 72.4 L557.2 71.3 L561.7 70.0 L566.1 68.5" stroke="rgb(75,75,75)" stroke-width="0.6"/>
<path d="M633.7 94.9 L632.6 98.7 L631.0 102.4 L629.0 105.9 L626.6 109.1" stroke="rgb(40,40,40)" stroke-width="0.6"/>
<path d="M541.3 164.2 L532.8 165.4 L524.2 165.3 L515.7 163.9 L507.5 161.3" stroke="rgb(50,50,50)" stroke-width="0.8"/>
<path d="M541.7 82.8 L534.4 82.4 L527.0 83.0 L519.8 84.6 L512.9 87.2" stroke="rgb(60,60,60)" stroke-width="0.8"/>
<path d="M597.7 47.2 L605.2 51.1 L613.1 54.2 L621.2 56.7 L629.5 58.3" stroke="rgb(75,75,75)" stroke-width="0.8"/>
<path d="M570.4 25.4 L578.9 28.2 L587.5 30.7 L596.3 32.7 L605.1 34.3" stroke="rgb(40,40,40)" stroke-width="0.8"/>
<path d="M578.1 70.8 L584.2 78.7 L590.1 86.7 L595.7 94.9 L600.9 103.4" stroke="rgb(40,40,40)" stroke-width="0.8"/>
<path d="M535.3 110.4 L537.2 103.9 L538.0 97.2 L537.9 90.4 L536.7 83.7" stroke="rgb(75,75,75)" stroke-width="0.8"/>
<path d="M559.4 81.5 L555.2 76.5 L551.9 70.9 L549.6 64.8 L548.4 58.5" stroke="rgb(60,60,60)" stroke-width="0.8"/>
<path d="M552.5 183.1 L551.6 177.2 L550.6 171.4 L549.7 165.6 L548.7 159.7" stroke="rgb(40,40,40)" stroke-width="0.8"/>
<path d="M530.9 85.7 L536.8 85.1 L542.8 84.6 L548.8 84.2 L554.7 83.8" stroke="rgb(40,40,40)" stroke-width="0.6"/>
<path d="M565.7 120.2 L571.4 122.6 L576.6 126.0 L581.2 130.2 L585.0 135.1" stroke="rgb(50,50,50)" stroke-width="0.6"/>
<path d="M553.3 121.0 L546.7 121.3 L540.2 121.5 L533.6 121.6 L527.0 121.5" stroke="rgb(40,40,40)" stroke-width="0.8"/>
<path d="M526.8 89.9 L521.0 82.7 L514.7 75.7 L508.2 69.1 L501.2 62.9" stroke="rgb(75,75,75)" stroke-width="0.8"/>
<path d="M524.3 36.3 L531.0 34.3 L537.5 31.6 L543.8 28.4 L549.7 24.7" stroke="rgb(50,50,50)" stroke-width="0.6"/>
<path d="M547.2 34.5 L546.7 40.1 L546.5 45.7 L546.7 51.3 L547.2 56.9" stroke="rgb(40,40,40)" stroke-width="0.6"/>
<path d="M609.8 51.5 L611.7 60.6 L612.7 69.8 L612.9 79.1 L612.4 88.3" stroke="rgb(40,40,40)" stroke-width="0.8"/>
<path d="M617.5 138.4 L614.7 134.7 L612.3 130.8 L610.3 126.6 L608.8 122.3" stroke="rgb(50,50,50)" stroke-width="0.6"/>
<path d="M624.7 99.8 L629.9 97.4 L635.3 96.0 L641.0 95.4 L646.6 95.8" stroke="rgb(50,50,50)" stroke-width="0.6"/>
<path d="M536.5 141.2 L539.4 137.5 L542.8 134.3 L546.5 131.4 L550.5 129.1" stroke="rgb(75,75,75)" stroke-width="0.6"/>
<path d="M609.7 112.2 L616.4 105.7 L622.2 98.5 L627.3 90.7 L631.4 82.4" stroke="rgb(75,75,75)" stroke-width="0.8"/>
<path d="M578.9 100.8 L578.6 107.6 L578.9 114.3 L579.7 121.0 L581.1 127.6" stroke="rgb(75,75,75)" stroke-width="0.8"/>
<path d="M614.9 147.1 L620.1 145.7 L625.3 144.6 L630.6 143.8 L635.9 143.2" stroke="rgb(60,60,60)" stroke-width="0.6"/>
<path d="M532.7 73.6 L525.7 70.2 L518.8 66.6 L512.1 62.7 L505.6 58.6" stroke="rgb(50,50,50)" stroke-width="0.6"/>
<path d="M515.2 113.8 L519.1 113.8 L523.0 113.3 L526.8 112.3 L530.5 110.8" stroke="rgb(60,60,60)" stroke-width="0.6"/>
<path d="M570.8 144.0 L565.6 135.6 L561.9 126.4 L560.0 116.6 L559.8 106.7" stroke="rgb(40,40,40)" stroke-width="0.6"/>
<path d="M517.6 151.3 L521.1 159.7 L523.4 168.6 L524.4 177.6 L524.2 186.7" stroke="rgb(75,75,75)" stroke-width="0.8"/>
<path d="M576.4 93.7 L576.3 88.3 L575.6 82.9 L574.1 77.7 L572.0 72.7" stroke="rgb(50,50,50)" stroke-width="0.6"/>
<path d="M547.6 62.6 L554.2 55.8 L561.4 49.5 L569.0 43.8 L576.9 38.6" stroke="rgb(40,40,40)" stroke-width="0.8"/>
<path d="M561.8 143.2 L560.5 146.9 L559.5 150.7 L558.7 154.5 L558.2 158.3" stroke="rgb(40,40,40)" stroke-width="0.8"/>
<path d="M596.6 140.8 L602.2 142.4 L607.9 143.3 L613.7 143.5 L619.5 142.9" stroke="rgb(60,60,60)" stroke-width="0.6"/>
<path d="M562.3 170.2 L558.7 172.3 L555.1 174.5 L551.5 176.6 L547.9 178.7" stroke="rgb(40,40,40)" stroke-width="0.8"/>
<path d="M517.6 64.3 L520.5 70.1 L522.8 76.2 L524.3 82.5 L525.0 89.0" stroke="rgb(50,50,50)" stroke-width="0.6"/>
<path d="M526.6 151.4 L533.0 147.2 L539.4 142.9 L545.6 138.4 L551.8 133.8" stroke="rgb(40,40,40)" stroke-width="0.8"/>
<path d="M531.9 33.6 L534.0 38.6 L536.3 43.5 L538.6 48.3 L541.0 53.1" stroke="rgb(50,50,50)" stroke-width="0.6"/>
<path d="M547.3 86.2 L540.3 82.6 L534.1 77.8 L528.7 72.0 L524.5 65.4" stroke="rgb(60,60,60)" stroke-width="0.6"/>
<path d="M575.8 133.0 L569.6 136.0 L563.4 138.9 L557.1 141.7 L550.8 144.4" stroke="rgb(40,40,40)" stroke-width="0.6"/>
<path d="M582.4 110.4 L587.1 104.2 L590.9 97.4 L593.7 90.1 L595.6 82.6" stroke="rgb(60,60,60)" stroke-width="0.8"/>
<path d="M576.5 104.8 L574.0 98.9 L571.4 93.0 L568.9 87.1 L566.4 81.2" stroke="rgb(60,60,60)" stroke-width="0.8"/>
<path d="M565.1 141.4 L570.5 136.3 L575.8 131.0 L580.9 125.6 L585.7 120.0" stroke="rgb(50,50,50)" stroke-width="0.6"/>
<path d="M572.7 116.3 L567.2 117.7 L561.7 118.7 L556.0 119.2 L550.4 119.2" stroke="rgb(75,75,75)" stroke-width="0.8"/>
<path d="M589.7 63.1 L592.3 60.2 L595.4 57.6 L598.7 55.4 L602.3 53.6" stroke="rgb(40,40,40)" stroke-width="0.6"/>
<path d="M526.5 110.8 L526.4 118.7 L526.5 126.6 L526.7 134.5 L527.2 142.4" stroke="rgb(40,40,40)" stroke-width="0.8"/>
<path d="M570.8 59.8 L562.8 59.1 L554.9 57.8 L547.2 56.0 L539.5 53.6" stroke="rgb(60,60,60)" stroke-width="0.6"/>
<path d="M502.8 105.7 L508.3 105.7 L513.8 105.5 L519.3 105.3 L524.7 105.0" stroke="rgb(60,60,60)" stroke-width="0.6"/>
<path d="M576.9 118.7 L575.2 128.3 L574.2 137.9 L574.0 147.5 L574.5 157.2" stroke="rgb(50,50,50)" stroke-width="0.6"/>
<path d="M598.7 157.1 L605.3 159.0 L612.2 159.9 L619.1 159.9 L625.9 158.9" stroke="rgb(75,75,75)" stroke-width="0.6"/>
<path d="M588.7 163.4 L581.0 165.6 L573.6 169.1 L566.9 173.6 L561.0 179.2" stroke="rgb(50,50,50)" stroke-width="0.6"/>
<path d="M527.1 109.5 L520.8 106.3 L514.2 103.9 L507.4 102.2 L500.3 101.4" stroke="rgb(60,60,60)" stroke-width="0.8"/>
<path d="M599.9 90.0 L593.2 94.9 L586.9 100.2 L581.0 106.1 L575.7 112.4" stroke="rgb(60,60,60)" stroke-width="0.6"/>
<path d="M600.4 121.9 L603.7 119.8 L606.8 117.5 L609.7 114.9 L612.3 112.1" stroke="rgb(75,75,75)" stroke-width="0.6"/>
<path d="M621.0 131.5 L617.6 134.6 L614.6 138.1 L612.1 142.0 L610.2 146.2" stroke="rgb(40,40,40)" stroke-width="0.8"/>
<path d="M525.7 64.0 L530.4 62.1 L534.9 59.8 L539.2 57.1 L543.3 54.1" stroke="rgb(75,75,75)" stroke-width="0.8"/>
<path d="M631.2 89.5 L629.4 94.8 L627.6 100.0 L625.8 105.3 L624.1 110.5" stroke="rgb(60,60,60)" stroke-width="0.8"/>
<path d="M528.5 99.7 L523.2 98.1 L517.7 97.4 L512.2 97.6 L506.8 98.6" stroke="rgb(50,50,50)" stroke-width="0.8"/>
<path d="M551.5 122.9 L550.7 113.6 L550.6 104.3 L551.3 95.1 L552.9 85.9" stroke="rgb(40,40,40)" stroke-width="0.6"/>
<path d="M552.4 52.3 L547.5 45.9 L541.7 40.3 L535.0 35.8 L527.7 32.4" stroke="rgb(75,75,75)" stroke-width="0.6"/>
<path d="M594.8 42.3 L591.2 37.4 L586.9 33.1 L582.2 29.4 L576.9 26.3" stroke="rgb(60,60,60)" stroke-width="0.8"/>
<path d="M626.3 73.2 L630.5 77.9 L635.3 82.1 L640.5 85.6 L646.1 88.5" stroke="rgb(50,50,50)" stroke-width="0.8"/>
<path d="M592.4 106.5 L594.6 109.6 L596.6 112.9 L598.2 116.4 L599.6 119.9" stroke="rgb(75,75,75)" stroke-width="0.8"/>
<path d="M583.6 124.7 L581.4 116.7 L580.3 108.5 L580.1 100.3 L581.0 92.0" stroke="rgb(60,60,60)" stroke-width="0.8"/>
<path d="M591.7 34.6 L585.7 38.9 L580.5 44.1 L576.2 50.1 L572.8 56.6" stroke="rgb(40,40,40)" stroke-width="0.6"/>
<path d="M587.8 111.6 L590.1 115.9 L592.4 120.2 L594.8 124.4 L597.2 128.6" stroke="rgb(60,60,60)" stroke-width="0.6"/>
<path d="M552.5 139.7 L549.0 135.7 L545.2 132.0 L541.1 128.7 L536.7 125.6" stroke="rgb(60,60,60)" stroke-width="0.8"/>
<path d="M551.7 89.5 L557.4 95.6 L564.0 100.7 L571.2 104.9 L579.0 107.9" stroke="rgb(60,60,60)" stroke-width="0.6"/>
<path d="M585.3 129.7 L584.5 134.0 L583.5 138.2 L582.3 142.3 L580.8 146.3" stroke="rgb(40,40,40)" stroke-width="0.8"/>
<path d="M568.6 137.4 L570.4 142.1 L572.8 146.6 L576.0 150.6 L579.7 154.0" stroke="rgb(50,50,50)" stroke-width="0.6"/>
<path d="M546.4 113.8 L542.7 119.4 L539.0 125.1 L535.4 130.9 L532.0 136.7" stroke="rgb(40,40,40)" stroke-width="0.6"/>
<path d="M533.6 99.4 L527.0 99.0 L520.4 99.3 L513.9 100.4 L507.5 102.2" stroke="rgb(75,75,75)" stroke-width="0.8"/>
<path d="M568.0 119.4 L560.7 114.8 L554.1 109.3 L548.1 103.1 L542.9 96.2" stroke="rgb(60,60,60)" stroke-width="0.8"/>
<path d="M594.4 115.2 L598.7 118.7 L603.4 121.7 L608.3 124.2 L613.5 126.0" stroke="rgb(60,60,60)" stroke-width="0.8"/>
<path d="M594.4 127.9 L594.4 131.7 L594.2 135.5 L593.6 139.2 L592.8 142.9" stroke="rgb(75,75,75)" stroke-width="0.8"/>
<path d="M612.8 132.1 L616.7 133.4 L620.4 135.3 L623.7 137.8 L626.6 140.8" stroke="rgb(50,50,50)" stroke-width="0.8"/>
<path d="M552.7 96.9 L547.3 104.7 L542.9 113.1 L539.6 122.0 L537.3 131.2" stroke="rgb(50,50,50)" stroke-width="0.6"/>
<path d="M575.0 111.0 L571.1 117.6 L567.8 124.7 L565.1 132.0 L563.2 139.5" stroke="rgb(75,75,75)" stroke-width="0.6"/>
<path d="M580.0 120.4 L581.2 125.1 L583.0 129.5 L585.5 133.7 L588.5 137.5" stroke="rgb(40,40,40)" stroke-width="0.8"/>
<path d="M569.6 113.9 L574.9 120.4 L579.0 127.7 L581.7 135.7 L582.9 144.0" stroke="rgb(60,60,60)" stroke-width="0.6"/>
<path d="M596.5 154.1 L602.1 146.4 L606.8 138.2 L610.3 129.4 L612.7 120.2" stroke="rgb(40,40,40)" stroke-width="0.8"/>
<path d="M530.1 89.5 L521.9 93.6 L513.7 97.2 L505.3 100.6 L496.7 103.6" stroke="rgb(60,60,60)" stroke-width="0.6"/>
<path d="M602.5 111.5 L595.5 112.7 L588.6 114.5 L581.8 116.7 L575.2 119.4" stroke="rgb(60,60,60)" stroke-width="0.8"/>
<path d="M616.6 121.0 L617.5 128.5 L617.5 136.1 L616.6 143.6 L614.9 151.0" stroke="rgb(40,40,40)" stroke-width="0.6"/>
<path d="M582.1 156.7 L582.3 161.9 L583.2 167.1 L584.9 172.0 L587.3 176.6" stroke="rgb(75,75,75)" stroke-width="0.8"/>
<path d="M589.5 46.2 L594.8 39.1 L599.5 31.7 L603.8 24.0 L607.6 16.0" stroke="rgb(60,60,60)" stroke-width="0.6"/>
<path d="M594.6 131.8 L596.5 123.6 L598.4 115.4 L600.2 107.2 L602.0 99.0" stroke="rgb(50,50,50)" stroke-width="0.8"/>
<path d="M529.8 35.1 L530.1 40.3 L529.9 45.5 L529.2 50.6 L527.8 55.6" stroke="rgb(40,40,40)" stroke-width="0.6"/>
<path d="M548.4 93.4 L543.8 87.1 L539.9 80.3 L536.6 73.2 L534.0 65.9" stroke="rgb(75,75,75)" stroke-width="0.8"/>
<path d="M514.3 138.5 L516.4 132.7 L519.2 127.2 L522.6 122.0 L526.5 117.2" stroke="rgb(40,40,40)" stroke-width="0.6"/>
<path d="M552.3 139.0 L553.6 146.6 L555.0 154.2 L556.5 161.8 L558.1 169.4" stroke="rgb(50,50,50)" stroke-width="0.6"/>
<path d="M568.0 66.8 L565.8 58.4 L564.6 49.8 L564.7 41.1 L565.8 32.5" stroke="rgb(75,75,75)" stroke-width="0.6"/>
<path d="M623.6 139.4 L626.4 143.4 L629.5 147.3 L632.6 151.0 L636.0 154.5" stroke="rgb(40,40,40)" stroke-width="0.8"/>
<path d="M575.1 82.8 L573.6 76.7 L571.5 70.8 L568.6 65.1 L565.2 59.8" stroke="rgb(40,40,40)" stroke-width="0.8"/>
<path d="M527.6 50.4 L531.6 57.0 L535.2 63.9 L538.2 71.0 L540.9 78.3" stroke="rgb(75,75,75)" stroke-width="0.8"/>
<path d="M615.3 66.8 L619.4 67.9 L623.6 68.7 L627.8 69.2 L632.0 69.4" stroke="rgb(75,75,75)" stroke-width="0.6"/>
<path d="M579.1 138.3 L582.8 144.8 L587.3 150.7 L592.7 155.9 L598.6 160.3" stroke="rgb(75,75,75)" stroke-width="0.8"/>
<path d="M551.2 61.9 L545.2 64.6 L539.7 68.1 L534.7 72.4 L530.3 77.3" stroke="rgb(40,40,40)" stroke-width="0.8"/>
<path d="M562.6 135.0 L559.2 139.4 L555.7 143.7 L552.2 148.0 L548.7 152.2" stroke="rgb(60,60,60)" stroke-width="0.8"/>
<path d="M571.7 109.5 L577.2 113.2 L583.0 116.5 L588.9 119.5 L595.0 122.2" stroke="rgb(40,40,40)" stroke-width="0.6"/>
<path d="M653.3 164.3 L645.3 166.0 L637.7 168.8 L630.5 172.8 L624.1 177.8" stroke="rgb(75,75,75)" stroke-width="0.6"/>
<path d="M564.6 120.4 L564.0 126.2 L563.0 131.9 L561.4 137.6 L559.3 143.0" stroke="rgb(60,60,60)" stroke-width="0.6"/>
<path d="M629.8 67.6 L621.0 72.1 L612.7 77.4 L604.8 83.4 L597.4 90.0" stroke="rgb(60,60,60)" stroke-width="0.8"/>
<path d="M570.9 110.9 L561.8 110.0 L552.7 109.3 L543.5 109.0 L534.4 108.9" stroke="rgb(50,50,50)" stroke-width="0.6"/>
<path d="M550.9 112.5 L543.1 117.2 L534.8 121.0 L526.2 123.9 L517.3 125.9" stroke="rgb(40,40,40)" stroke-width="0.8"/>
<path d="M543.2 90.2 L544.6 98.9 L546.2 107.4 L548.1 115.9 L550.3 124.4" stroke="rgb(50,50,50)" stroke-width="0.6"/>
<path d="M526.2 110.1 L520.2 113.3 L514.0 116.0 L507.6 118.2 L501.0 119.8" stroke="rgb(40,40,40)" stroke-width="0.6"/>
<path d="M542.4 40.8 L538.3 45.4 L533.6 49.4 L528.4 52.8 L522.8 55.4" stroke="rgb(40,40,40)" stroke-width="0.8"/>
<path d="M565.0 88.4 L566.2 84.0 L567.2 79.6 L568.1 75.1 L568.9 70.6" stroke="rgb(50,50,50)" stroke-width="0.6"/>
<path d="M594.8 119.2 L586.1 121.9 L577.3 124.4 L568.4 126.7 L559.5 128.7" stroke="rgb(75,75,75)" stroke-width="0.6"/>
<path d="M581.4 35.2 L586.4 36.6 L591.5 37.8 L596.6 38.7 L601.8 39.4" stroke="rgb(75,75,75)" stroke-width="0.6"/>
<path d="M588.0 97.8 L590.6 102.8 L592.9 107.9 L594.8 113.2 L596.3 118.5" stroke="rgb(40,40,40)" stroke-width="0.6"/>
<path d="M552.0 202.0 L547.3 193.8 L543.5 185.2 L540.7 176.2 L538.8 167.0" stroke="rgb(60,60,60)" stroke-width="0.6"/>
<path d="M578.4 60.9 L582.4 65.8 L585.6 71.3 L588.0 77.3 L589.5 83.5" stroke="rgb(50,50,50)" stroke-width="0.6"/>
<path d="M540.0 122.0 L536.9 118.7 L534.4 114.9 L532.5 110.7 L531.3 106.3" stroke="rgb(50,50,50)" stroke-width="0.8"/>
<path d="M561.7 114.8 L557.6 106.0 L552.2 97.9 L545.5 90.8 L537.8 84.9" stroke="rgb(75,75,75)" stroke-width="0.6"/>
<path d="M535.1 147.6 L534.1 152.5 L532.6 157.4 L530.8 162.1 L528.6 166.7" stroke="rgb(50,50,50)" stroke-width="0.8"/>
<path d="M540.3 71.9 L531.7 67.9 L522.6 65.1 L513.1 63.5 L503.6 63.2" stroke="rgb(50,50,50)" stroke-width="0.6"/>
<path d="M571.1 159.1 L566.9 164.8 L562.9 170.6 L559.1 176.6 L555.5 182.6" stroke="rgb(60,60,60)" stroke-width="0.6"/>
<path d="M576.2 134.3 L580.6 138.4 L584.9 142.8 L588.9 147.3 L592.8 151.9" stroke="rgb(40,40,40)" stroke-width="0.8"/>
<path d="M545.5 127.4 L540.9 122.4 L535.8 117.9 L530.2 114.0 L524.3 110.7" stroke="rgb(40,40,40)" stroke-width="0.8"/>
<path d="M593.0 117.9 L586.6 117.0 L580.3 117.3 L574.1 118.5 L568.1 120.8" stroke="rgb(60,60,60)" stroke-width="0.8"/>
<path d="M579.4 67.4 L586.2 69.8 L592.9 72.5 L599.4 75.6 L605.7 79.0" stroke="rgb(50,50,50)" stroke-width="0.6"/>
<path d="M582.6 80.0 L578.0 75.0 L573.8 69.7 L570.1 64.0 L566.8 58.1" stroke="rgb(40,40,40)" stroke-width="0.8"/>
<path d="M570.2 95.3 L575.5 99.2 L580.4 103.7 L584.8 108.6 L588.8 113.8" stroke="rgb(60,60,60)" stroke-width="0.6"/>
<path d="M587.3 161.4 L586.7 165.2 L585.7 168.9 L584.3 172.5 L582.7 176.0" stroke="rgb(60,60,60)" stroke-width="0.6"/>
<path d="M588.3 127.6 L589.1 133.7 L589.2 139.9 L588.6 146.0 L587.3 152.0" stroke="rgb(40,40,40)" stroke-width="0.8"/>
<path d="M629.6 77.9 L631.0 82.5 L632.7 86.9 L634.7 91.3 L636.8 95.5" stroke="rgb(50,50,50)" stroke-width="0.6"/>
<path d="M580.5 99.4 L582.0 94.5 L583.2 89.4 L584.1 84.3 L584.7 79.1" stroke="rgb(60,60,60)" stroke-width="0.8"/>
<path d="M621.4 114.2 L626.7 113.9 L632.1 113.9 L637.4 113.9 L642.8 114.1" stroke="rgb(75,75,75)" stroke-width="0.6"/>
<path d="M533.9 140.8 L531.1 143.5 L528.1 146.2 L525.1 148.7 L522.0 151.1" stroke="rgb(50,50,50)" stroke-width="0.8"/>
<path d="M576.9 141.8 L573.2 141.2 L569.4 140.4 L565.8 139.4 L562.2 138.1" stroke="rgb(40,40,40)" stroke-width="0.6"/>
<path d="M593.9 108.9 L589.6 116.9 L584.9 124.7 L579.9 132.3 L574.5 139.7" stroke="rgb(50,50,50)" stroke-width="0.6"/>
<path d="M646.3 164.9 L643.9 155.6 L642.5 146.1 L642.2 136.5 L642.9 126.9" stroke="rgb(75,75,75)" stroke-width="0.6"/>
<path d="M595.7 129.1 L600.8 135.0 L605.8 141.1 L610.6 147.3 L615.2 153.6" stroke="rgb(40,40,40)" stroke-width="0.6"/>
<path d="M626.8 136.5 L631.2 134.7 L635.6 133.0 L640.0 131.4 L644.4 129.8" stroke="rgb(60,60,60)" stroke-width="0.6"/>
<path d="M534.0 176.8 L531.2 173.6 L528.1 170.7 L524.9 167.9 L521.6 165.4" stroke="rgb(50,50,50)" stroke-width="0.6"/>
<path d="M585.5 85.7 L580.6 89.4 L575.9 93.5 L571.7 98.0 L567.8 102.7" stroke="rgb(40,40,40)" stroke-width="0.8"/>
<path d="M617.1 97.9 L615.6 106.8 L615.3 115.7 L616.2 124.7 L618.4 133.4" stroke="rgb(40,40,40)" stroke-width="0.8"/>
<path d="M578.6 79.8 L574.5 77.8 L570.1 76.4 L565.6 75.8 L561.0 75.9" stroke="rgb(50,50,50)" stroke-width="0.8"/>
<path d="M599.4 100.5 L593.5 100.4 L587.7 101.3 L582.1 103.2 L577.0 106.0" stroke="rgb(60,60,60)" stroke-width="0.8"/>
<path d="M563.3 121.1 L563.6 112.2 L562.8 103.4 L560.8 94.7 L557.6 86.5" stroke="rgb(50,50,50)" stroke-width="0.6"/>
<path d="M605.3 22.9 L603.6 32.5 L600.7 41.8 L596.8 50.8 L591.9 59.2" stroke="rgb(40,40,40)" stroke-width="0.8"/>
<path d="M615.7 119.7 L611.1 119.1 L606.6 118.4 L602.0 117.6 L597.5 116.7" stroke="rgb(60,60,60)" stroke-width="0.6"/>
<path d="M530.3 34.2 L538.6 34.3 L547.0 34.1 L555.3 33.5 L563.6 32.5" stroke="rgb(40,40,40)" stroke-width="0.6"/>
<path d="M615.0 124.6 L611.9 128.2 L609.4 132.2 L607.5 136.6 L606.2 141.1" stroke="rgb(40,40,40)" stroke-width="0.6"/>
<path d="M631.0 125.6 L625.4 117.9 L619.0 110.9 L611.8 104.6 L604.0 99.1" stroke="rgb(60,60,60)" stroke-width="0.6"/>
<path d="M518.8 144.6 L517.9 140.4 L516.9 136.2 L515.7 132.1 L514.5 128.0" stroke="rgb(50,50,50)" stroke-width="0.8"/>
<path d="M632.7 125.7 L635.0 132.0 L637.7 138.2 L640.8 144.2 L644.2 150.1" stroke="rgb(50,50,50)" stroke-width="0.8"/>
<path d="M554.1 23.2 L550.8 29.1 L546.9 34.5 L542.5 39.6 L537.6 44.1" stroke="rgb(60,60,60)" stroke-width="0.6"/>
<path d="M523.9 50.9 L527.2 46.6 L530.1 42.0 L532.6 37.1 L534.7 32.0" stroke="rgb(50,50,50)" stroke-width="0.6"/>
<path d="M540.6 159.7 L545.0 163.5 L549.3 167.5 L553.4 171.6 L557.4 175.8" stroke="rgb(60,60,60)" stroke-width="0.8"/>
<path d="M522.3 101.5 L521.2 92.6 L521.5 83.5 L523.0 74.6 L525.9 66.1" stroke="rgb(75,75,75)" stroke-width="0.6"/>
<path d="M563.1 177.9 L560.6 171.9 L558.9 165.7 L557.8 159.3 L557.5 152.8" stroke="rgb(75,75,75)" stroke-width="0.6"/>
<path d="M567.2 98.2 L567.6 104.4 L568.7 110.6 L570.3 116.7 L572.6 122.5" stroke="rgb(40,40,40)" stroke-width="0.6"/>
<path d="M565.0 71.1 L564.2 64.9 L562.7 58.9 L560.6 53.0 L557.9 47.4" stroke="rgb(60,60,60)" stroke-width="0.6"/>
<path d="M569.3 44.7 L562.0 47.5 L554.6 49.9 L547.1 51.9 L539.5 53.5" stroke="rgb(40,40,40)" stroke-width="0.8"/>
<path d="M592.6 67.4 L589.9 63.0 L586.7 59.1 L582.9 55.6 L578.6 52.8" stroke="rgb(40,40,40)" stroke-width="0.6"/>
<path d="M523.4 48.6 L531.1 48.6 L538.9 48.3 L546.6 47.8 L554.3 47.1" stroke="rgb(50,50,50)" stroke-width="0.8"/>
<path d="M514.8 98.6 L517.5 102.8 L520.0 107.0 L522.4 111.3 L524.6 115.7" stroke="rgb(75,75,75)" stroke-width="0.6"/>
<path d="M579.9 157.5 L573.2 153.6 L566.6 149.6 L560.0 145.4 L553.5 141.0" stroke="rgb(50,50,50)" stroke-width="0.8"/>
<path d="M541.4 74.9 L544.3 77.7 L547.0 80.7 L549.6 83.8 L552.0 87.0" stroke="rgb(50,50,50)" stroke-width="0.8"/>
<path d="M565.5 108.0 L572.5 109.2 L579.6 109.9 L586.8 109.9 L593.9 109.3" stroke="rgb(60,60,60)" stroke-width="0.6"/>
<path d="M575.8 122.8 L584.3 125.0 L592.9 126.6 L601.6 127.5 L610.4 127.7" stroke="rgb(40,40,40)" stroke-width="0.8"/>
<path d="M640.5 107.3 L635.5 104.6 L630.2 102.3 L624.7 100.7 L619.1 99.6" stroke="rgb(60,60,60)" stroke-width="0.6"/>
<path d="M571.2 61.1 L570.0 54.5 L568.1 48.1 L565.3 42.0 L561.9 36.3" stroke="rgb(40,40,40)" stroke-width="0.8"/>
<path d="M558.1 157.6 L565.0 157.5 L571.9 157.1 L578.7 156.3 L585.5 155.1" stroke="rgb(60,60,60)" stroke-width="0.6"/>
<path d="M611.1 126.1 L604.4 127.7 L597.5 128.9 L590.7 129.5 L583.7 129.5" stroke="rgb(60,60,60)" stroke-width="0.8"/>
<path d="M643.8 157.6 L637.1 158.5 L630.3 158.2 L623.6 156.9 L617.3 154.5" stroke="rgb(75,75,75)" stroke-width="0.8"/>
<path d="M558.9 69.3 L558.2 61.7 L557.3 54.1 L556.2 46.5 L554.9 39.0" stroke="rgb(40,40,40)" stroke-width="0.8"/>
<path d="M547.3 119.2 L541.9 124.1 L537.4 129.6 L533.6 135.7 L530.8 142.3" stroke="rgb(75,75,75)" stroke-width="0.8"/>
<path d="M577.1 28.5 L583.9 29.9 L590.8 30.6 L597.7 30.8 L604.7 30.5" stroke="rgb(60,60,60)" stroke-width="0.6"/>
<path d="M605.0 89.9 L609.5 85.8 L613.3 81.2 L616.4 76.1 L618.7 70.6" stroke="rgb(40,40,40)" stroke-width="0.8"/>
<path d="M643.1 74.1 L639.9 81.9 L638.1 90.1 L637.6 98.5 L638.4 106.8" stroke="rgb(50,50,50)" stroke-width="0.8"/>
<path d="M586.6 133.6 L587.2 138.2 L587.4 142.7 L587.2 147.3 L586.6 151.9" stroke="rgb(60,60,60)" stroke-width="0.8"/>
<path d="M576.2 157.5 L567.1 157.2 L558.1 156.5 L549.1 155.3 L540.2 153.7" stroke="rgb(60,60,60)" stroke-width="0.8"/>
<path d="M548.9 60.3 L541.1 64.0 L533.2 67.4 L525.2 70.6 L517.1 73.5" stroke="rgb(50,50,50)" stroke-width="0.6"/>
<path d="M617.6 56.0 L618.8 59.8 L620.4 63.4 L622.3 66.9 L624.6 70.2" stroke="rgb(50,50,50)" stroke-width="0.6"/>
<path d="M569.8 139.4 L576.5 136.7 L583.5 135.1 L590.7 134.5 L597.9 135.1" stroke="rgb(40,40,40)" stroke-width="0.8"/>
<path d="M548.2 63.2 L556.8 59.3 L564.9 54.7 L572.5 49.3 L579.6 43.2" stroke="rgb(60,60,60)" stroke-width="0.8"/>
<path d="M524.8 98.5 L528.8 100.1 L533.0 101.3 L537.3 102.1 L541.6 102.6" stroke="rgb(75,75,75)" stroke-width="0.6"/>
<path d="M601.2 51.1 L594.2 49.5 L587.6 46.9 L581.5 43.3 L576.0 38.7" stroke="rgb(75,75,75)" stroke-width="0.8"/>
<path d="M603.2 156.5 L611.1 156.2 L618.9 157.0 L626.6 158.8 L634.0 161.6" stroke="rgb(75,75,75)" stroke-width="0.8"/>
<path d="M587.2 139.2 L595.8 138.4 L604.4 138.3 L613.0 139.0 L621.5 140.3" stroke="rgb(40,40,40)" stroke-width="0.6"/>
<path d="M626.6 113.1 L630.0 122.5 L634.8 131.2 L641.0 139.1 L648.3 145.8" stroke="rgb(75,75,75)" stroke-width="0.8"/>
<path d="M566.0 55.9 L572.0 49.4 L578.1 42.9 L584.2 36.5 L590.4 30.1" stroke="rgb(40,40,40)" stroke-width="0.6"/>
<path d="M599.7 119.9 L595.1 125.4 L589.8 130.3 L584.0 134.4 L577.6 137.8" stroke="rgb(40,40,40)" stroke-width="0.6"/>
<path d="M594.0 112.5 L601.5 107.9 L609.2 103.5 L617.1 99.3 L625.1 95.5" stroke="rgb(75,75,75)" stroke-width="0.6"/>
<path d="M558.9 97.3 L560.7 93.3 L562.9 89.5 L565.5 85.9 L568.4 82.7" stroke="rgb(75,75,75)" stroke-width="0.8"/>
<path d="M524.4 74.3 L520.4 73.5 L516.4 72.5 L512.5 71.5 L508.6 70.4" stroke="rgb(75,75,75)" stroke-width="0.8"/>
<path d="M566.3 97.1 L567.3 92.4 L567.4 87.5 L566.7 82.7 L565.1 78.0" stroke="rgb(40,40,40)" stroke-width="0.6"/>
<path d="M635.4 132.1 L626.0 130.4 L616.6 129.5 L607.1 129.3 L597.6 129.9" stroke="rgb(60,60,60)" stroke-width="0.8"/>
<path d="M530.5 78.8 L527.2 74.1 L523.5 69.8 L519.2 66.0 L514.6 62.6" stroke="rgb(60,60,60)" stroke-width="0.8"/>
<path d="M521.9 135.3 L518.1 138.6 L514.5 141.9 L511.0 145.4 L507.6 149.0" stroke="rgb(75,75,75)" stroke-width="0.6"/>
<path d="M591.6 145.1 L586.5 144.5 L581.4 144.2 L576.3 144.2 L571.2 144.6" stroke="rgb(50,50,50)" stroke-width="0.6"/>
<path d="M553.6 144.2 L549.2 146.8 L545.1 150.0 L541.6 153.6 L538.6 157.8" stroke="rgb(50,50,50)" stroke-width="0.6"/>
<path d="M596.1 160.4 L597.7 156.0 L598.8 151.4 L599.4 146.7 L599.3 142.0" stroke="rgb(60,60,60)" stroke-width="0.8"/>
<path d="M529.0 109.9 L536.1 103.6 L543.6 97.8 L551.5 92.6 L559.8 88.0" stroke="rgb(40,40,40)" stroke-width="0.6"/>
<path d="M539.9 135.2 L533.1 137.4 L526.2 139.6 L519.3 141.7 L512.4 143.7" stroke="rgb(50,50,50)" stroke-width="0.6"/>
<path d="M593.7 109.8 L588.6 109.1 L583.5 109.3 L578.5 110.3 L573.8 112.1" stroke="rgb(50,50,50)" stroke-width="0.8"/>
<path d="M542.5 54.6 L538.4 51.9 L534.0 49.7 L529.3 48.2 L524.5 47.3" stroke="rgb(60,60,60)" stroke-width="0.8"/>
<path d="M605.6 120.6 L606.9 125.6 L607.6 130.7 L607.5 135.9 L606.8 141.0" stroke="rgb(60,60,60)" stroke-width="0.8"/>
<path d="M570.8 108.4 L572.5 102.0 L573.5 95.6 L573.8 89.0 L573.4 82.5" stroke="rgb(50,50,50)" stroke-width="0.8"/>
<path d="M638.7 128.8 L638.7 135.5 L638.3 142.3 L637.5 149.0 L636.3 155.6" stroke="rgb(50,50,50)" stroke-width="0.8"/>
<path d="M541.3 174.4 L540.6 167.7 L539.4 161.0 L537.7 154.5 L535.6 148.1" stroke="rgb(60,60,60)" stroke-width="0.6"/>
<path d="M593.7 133.2 L600.2 127.0 L605.9 120.0 L610.7 112.4 L614.5 104.3" stroke="rgb(75,75,75)" stroke-width="0.6"/>
<path d="M562.5 86.6 L562.0 77.1 L561.0 67.7 L559.6 58.4 L557.6 49.1" stroke="rgb(60,60,60)" stroke-width="0.6"/>
<path d="M649.2 156.9 L642.7 160.0 L636.5 163.8 L630.7 168.0 L625.2 172.8" stroke="rgb(50,50,50)" stroke-width="0.8"/>
<path d="M554.4 145.8 L551.7 143.0 L548.9 140.5 L546.0 138.0 L542.9 135.7" stroke="rgb(50,50,50)" stroke-width="0.6"/>
<path d="M591.9 116.1 L600.2 117.9 L608.2 120.8 L615.9 124.6 L623.0 129.4" stroke="rgb(60,60,60)" stroke-width="0.6"/>
<path d="M582.5 55.9 L580.8 61.0 L578.6 65.9 L576.1 70.6 L573.3 75.1" stroke="rgb(50,50,50)" stroke-width="0.6"/>
<path d="M534.2 133.1 L535.2 138.3 L537.1 143.3 L539.8 147.9 L543.2 151.9" stroke="rgb(75,75,75)" stroke-width="0.8"/>
<path d="M537.3 74.8 L531.5 71.1 L525.4 68.0 L519.0 65.4 L512.5 63.4" stroke="rgb(40,40,40)" stroke-width="0.6"/>
<path d="M578.5 68.8 L578.0 61.2 L578.9 53.5 L581.1 46.2 L584.5 39.3" stroke="rgb(40,40,40)" stroke-width="0.6"/>
<path d="M529.5 126.6 L521.6 132.6 L514.0 138.9 L506.5 145.4 L499.3 152.2" stroke="rgb(75,75,75)" stroke-width="0.6"/>
<path d="M559.0 76.6 L555.1 71.1 L551.5 65.5 L548.0 59.8 L544.7 53.9" stroke="rgb(60,60,60)" stroke-width="0.8"/>
<path d="M599.4 123.5 L596.0 121.0 L592.2 118.9 L588.3 117.4 L584.1 116.3" stroke="rgb(50,50,50)" stroke-width="0.8"/>
<path d="M603.5 110.6 L609.3 104.0 L614.9 97.3 L620.3 90.4 L625.5 83.4" stroke="rgb(50,50,50)" stroke-width="0.8"/>
<path d="M575.3 101.6 L579.5 98.0 L583.5 94.4 L587.6 90.8 L591.6 87.1" stroke="rgb(40,40,40)" stroke-width="0.6"/>
<path d="M529.8 84.9 L524.9 83.2 L519.8 82.1 L514.6 81.6 L509.3 81.7" stroke="rgb(60,60,60)" stroke-width="0.6"/>
<path d="M555.9 168.8 L556.8 163.8 L557.4 158.9 L557.6 153.9 L557.3 148.8" stroke="rgb(50,50,50)" stroke-width="0.6"/>
<path d="M512.0 96.0 L514.0 92.0 L516.0 88.0 L517.8 83.9 L519.6 79.8" stroke="rgb(60,60,60)" stroke-width="0.8"/>
<path d="M545.0 101.6 L540.0 94.3 L534.6 87.4 L528.7 80.9 L522.4 74.7" stroke="rgb(40,40,40)" stroke-width="0.6"/>
<path d="M573.4 147.1 L572.8 155.7 L572.3 164.3 L572.0 172.9 L571.9 181.6" stroke="rgb(75,75,75)" stroke-width="0.6"/>
<path d="M604.9 101.9 L612.7 105.2 L620.4 108.8 L627.9 112.8 L635.2 117.0" stroke="rgb(40,40,40)" stroke-width="0.8"/>
<path d="M595.2 102.6 L591.4 100.6 L587.8 98.4 L584.4 95.8 L581.2 92.9" stroke="rgb(60,60,60)" stroke-width="0.6"/>
<path d="M567.1 33.2 L562.9 36.2 L558.5 39.0 L553.9 41.4 L549.2 43.5" stroke="rgb(75,75,75)" stroke-width="0.6"/>
<path d="M566.0 85.5 L571.0 77.2 L577.1 69.8 L584.3 63.4 L592.3 58.1" stroke="rgb(60,60,60)" stroke-width="0.6"/>
<path d="M523.5 181.2 L521.5 171.7 L519.6 162.1 L517.8 152.5 L516.1 142.8" stroke="rgb(40,40,40)" stroke-width="0.8"/>
<path d="M543.9 57.4 L534.7 58.3 L525.7 60.3 L516.9 63.4 L508.6 67.6" stroke="rgb(40,40,40)" stroke-width="0.6"/>
<path d="M613.4 92.5 L612.9 100.0 L612.1 107.6 L611.0 115.1 L609.5 122.6" stroke="rgb(75,75,75)" stroke-width="0.6"/>
<path d="M533.0 73.0 L534.0 67.9 L535.9 63.0 L538.6 58.5 L542.0 54.5" stroke="rgb(50,50,50)" stroke-width="0.8"/>
<path d="M564.2 138.8 L559.7 141.5 L555.1 143.9 L550.4 146.1 L545.6 148.1" stroke="rgb(75,75,75)" stroke-width="0.6"/>
<path d="M619.8 86.1 L623.4 80.4 L626.2 74.1 L627.9 67.6 L628.7 60.8" stroke="rgb(50,50,50)" stroke-width="0.6"/>
<path d="M538.5 172.4 L544.7 171.0 L551.0 169.6 L557.2 168.2 L563.4 166.9" stroke="rgb(50,50,50)" stroke-width="0.6"/>
<path d="M562.8 165.8 L564.5 160.8 L566.1 155.9 L567.7 151.0 L569.2 146.0" stroke="rgb(40,40,40)" stroke-width="0.6"/>
<path d="M550.3 103.6 L544.6 103.1 L538.9 102.9 L533.2 103.0 L527.5 103.3" stroke="rgb(150,150,150)" stroke-width="0.6"/>
<path d="M542.6 38.8 L539.9 36.2 L537.1 33.5 L534.5 30.7 L531.9 27.8" stroke="rgb(125,125,125)" stroke-width="0.8"/>
<path d="M559.4 53.3 L565.3 57.8 L571.6 61.8 L578.3 65.2 L585.3 67.9" stroke="rgb(150,150,150)" stroke-width="0.6"/>
<path d="M502.0 98.2 L509.5 97.0 L516.9 96.0 L524.4 95.1 L531.9 94.3" stroke="rgb(80,80,80)" stroke-width="0.8"/>
<path d="M554.4 43.6 L558.0 51.2 L562.2 58.3 L567.2 65.0 L572.9 71.2" stroke="rgb(125,125,125)" stroke-width="0.6"/>
<path d="M575.1 76.4 L580.2 72.1 L585.7 68.4 L591.5 65.4 L597.7 63.0" stroke="rgb(150,150,150)" stroke-width="0.8"/>
<path d="M589.6 42.9 L590.6 39.6 L591.9 36.5 L593.5 33.5 L595.2 30.7" stroke="rgb(180,180,180)" stroke-width="0.8"/>
<path d="M550.1 190.9 L547.1 186.3 L545.0 181.3 L543.8 176.0 L543.6 170.5" stroke="rgb(150,150,150)" stroke-width="0.8"/>
<path d="M570.2 105.4 L577.2 109.2 L584.4 112.7 L591.7 115.9 L599.2 118.7" stroke="rgb(150,150,150)" stroke-width="0.6"/>
<path d="M604.8 119.3 L602.7 123.2 L601.0 127.3 L599.9 131.5 L599.3 135.9" stroke="rgb(125,125,125)" stroke-width="0.6"/>
<path d="M516.8 67.8 L519.4 66.0 L522.3 64.6 L525.4 63.8 L528.6 63.6" stroke="rgb(150,150,150)" stroke-width="0.8"/>
<path d="M534.3 79.3 L540.2 83.3 L545.9 87.6 L551.4 92.1 L556.7 96.9" stroke="rgb(150,150,150)" stroke-width="0.8"/>
<path d="M512.1 142.1 L512.3 134.7 L512.8 127.4 L513.5 120.2 L514.5 112.9" stroke="rgb(80,80,80)" stroke-width="0.6"/>
<path d="M550.4 39.8 L551.3 44.9 L551.8 50.0 L551.8 55.2 L551.3 60.3" stroke="rgb(125,125,125)" stroke-width="0.6"/>
<path d="M581.4 184.4 L581.0 176.1 L580.5 167.9 L579.8 159.6 L579.0 151.4" stroke="rgb(125,125,125)" stroke-width="0.6"/>
<path d="M560.9 169.5 L556.4 174.3 L552.5 179.5 L549.1 185.2 L546.3 191.1" stroke="rgb(100,100,100)" stroke-width="0.8"/>
<path d="M588.6 146.8 L591.4 153.6 L594.3 160.3 L597.3 167.0 L600.4 173.7" stroke="rgb(80,80,80)" stroke-width="0.6"/>
<path d="M575.8 93.1 L569.0 91.1 L562.3 88.6 L555.9 85.5 L549.7 81.9" stroke="rgb(125,125,125)" stroke-width="0.6"/>
<path d="M582.1 106.0 L579.4 110.8 L575.9 114.9 L571.7 118.4 L567.0 121.2" stroke="rgb(100,100,100)" stroke-width="0.8"/>
<path d="M630.9 104.9 L632.6 110.7 L633.9 116.5 L634.8 122.5 L635.3 128.5" stroke="rgb(80,80,80)" stroke-width="0.6"/>
<path d="M625.8 133.5 L631.9 133.0 L637.9 133.3 L643.9 134.4 L649.7 136.3" stroke="rgb(80,80,80)" stroke-width="0.6"/>
<path d="M560.0 51.1 L564.0 43.7 L569.1 37.0 L575.1 31.2 L581.8 26.2" stroke="rgb(180,180,180)" stroke-width="0.8"/>
<path d="M557.9 151.6 L553.9 158.1 L549.8 164.5 L545.3 170.7 L540.6 176.7" stroke="rgb(80,80,80)" stroke-width="0.8"/>
<path d="M623.2 69.5 L617.3 64.0 L612.2 57.7 L607.8 51.0 L604.3 43.7" stroke="rgb(100,100,100)" stroke-width="0.8"/>
<path d="M531.5 91.6 L527.9 94.6 L524.2 97.2 L520.2 99.5 L516.1 101.6" stroke="rgb(80,80,80)" stroke-width="0.6"/>
<path d="M559.1 166.6 L558.6 169.3 L557.6 171.8 L556.1 174.2 L554.3 176.2" stroke="rgb(180,180,180)" stroke-width="0.6"/>
<path d="M622.8 158.8 L618.8 152.8 L615.4 146.4 L612.8 139.6 L611.0 132.6" stroke="rgb(150,150,150)" stroke-width="0.6"/>
<path d="M611.9 153.5 L613.8 147.4 L616.6 141.6 L620.4 136.4 L624.9 131.8" stroke="rgb(125,125,125)" stroke-width="0.6"/>
<path d="M546.8 175.2 L545.0 178.3 L542.7 181.0 L540.0 183.3 L536.9 185.1" stroke="rgb(180,180,180)" stroke-width="0.6"/>
<path d="M564.6 102.5 L564.6 95.4 L564.8 88.2 L565.3 81.0 L566.0 73.9" stroke="rgb(125,125,125)" stroke-width="0.6"/>
<path d="M542.1 164.2 L538.0 166.6 L533.9 169.0 L529.7 171.2 L525.4 173.3" stroke="rgb(125,125,125)" stroke-width="0.8"/>
<path d="M508.8 143.7 L511.8 139.2 L515.0 135.0 L518.5 130.9 L522.1 126.9" stroke="rgb(150,150,150)" stroke-width="0.6"/>
<path d="M616.2 124.5 L614.6 120.6 L612.5 116.9 L610.1 113.4 L607.2 110.3" stroke="rgb(180,180,180)" stroke-width="0.8"/>
<path d="M605.1 148.1 L608.2 153.6 L611.5 159.0 L615.0 164.3 L618.5 169.5" stroke="rgb(150,150,150)" stroke-width="0.6"/>
<path d="M540.7 61.6 L532.8 62.2 L525.0 63.4 L517.3 65.2 L509.8 67.7" stroke="rgb(100,100,100)" stroke-width="0.6"/>
<path d="M547.8 41.6 L541.3 37.0 L535.5 31.5 L530.6 25.2 L526.5 18.4" stroke="rgb(80,80,80)" stroke-width="0.6"/>
<path d="M552.3 150.5 L548.7 151.5 L545.0 151.8 L541.3 151.4 L537.8 150.4" stroke="rgb(80,80,80)" stroke-width="0.6"/>
<path d="M539.4 98.8 L536.8 92.9 L534.8 86.7 L533.4 80.4 L532.5 74.0" stroke="rgb(180,180,180)" stroke-width="0.8"/>
<path d="M604.3 52.4 L609.2 58.7 L613.9 65.1 L618.2 71.8 L622.1 78.6" stroke="rgb(150,150,150)" stroke-width="0.8"/>
<path d="M547.5 99.1 L543.6 97.6 L539.9 95.6 L536.5 93.3 L533.4 90.5" stroke="rgb(150,150,150)" stroke-width="0.6"/>
<path d="M525.5 150.1 L529.0 148.0 L532.3 145.6 L535.4 142.8 L538.1 139.7" stroke="rgb(100,100,100)" stroke-width="0.6"/>
<path d="M625.8 171.9 L624.2 163.6 L621.5 155.5 L617.9 147.8 L613.4 140.7" stroke="rgb(150,150,150)" stroke-width="0.8"/>
<path d="M597.2 61.7 L589.1 62.7 L580.8 62.7 L572.7 61.5 L564.7 59.3" stroke="rgb(180,180,180)" stroke-width="0.8"/>
<path d="M635.6 127.0 L637.3 132.7 L639.5 138.4 L642.1 143.8 L645.1 149.1" stroke="rgb(150,150,150)" stroke-width="0.6"/>
<path d="M534.3 64.3 L534.5 59.5 L534.1 54.7 L532.8 50.0 L530.9 45.6" stroke="rgb(100,100,100)" stroke-width="0.6"/>
<path d="M567.6 147.0 L560.1 143.2 L553.0 138.9 L546.1 134.0 L539.7 128.7" stroke="rgb(100,100,100)" stroke-width="0.8"/>
<path d="M587.4 83.9 L584.9 77.4 L583.1 70.7 L582.0 63.8 L581.6 56.9" stroke="rgb(180,180,180)" stroke-width="0.8"/>
<path d="M583.2 145.6 L585.0 153.3 L585.5 161.2 L584.5 169.1 L582.1 176.7" stroke="rgb(100,100,100)" stroke-width="0.8"/>
<path d="M572.7 166.6 L567.8 171.9 L563.5 177.8 L560.0 184.2 L557.4 190.9" stroke="rgb(150,150,150)" stroke-width="0.8"/>
<path d="M522.4 113.9 L521.6 117.0 L521.2 120.2 L521.0 123.4 L521.2 126.6" stroke="rgb(180,180,180)" stroke-width="0.8"/>
<path d="M571.8 112.5 L569.2 107.7 L567.4 102.6 L566.5 97.3 L566.5 91.9" stroke="rgb(150,150,150)" stroke-width="0.6"/>
<path d="M549.9 130.7 L545.3 135.9 L541.2 141.5 L537.6 147.4 L534.4 153.6" stroke="rgb(80,80,80)" stroke-width="0.6"/>
<path d="M624.7 162.0 L619.9 162.3 L615.1 161.7 L610.4 160.3 L606.1 158.2" stroke="rgb(150,150,150)" stroke-width="0.6"/>
<path d="M566.2 48.8 L566.7 43.9 L566.6 39.1 L565.9 34.2 L564.8 29.5" stroke="rgb(150,150,150)" stroke-width="0.6"/>
<path d="M551.0 104.8 L545.6 103.5 L540.0 103.1 L534.5 103.4 L529.0 104.5" stroke="rgb(80,80,80)" stroke-width="0.8"/>
<path d="M546.3 130.2 L552.8 128.3 L559.2 126.2 L565.5 123.8 L571.8 121.1" stroke="rgb(180,180,180)" stroke-width="0.6"/>
<path d="M555.4 42.0 L560.9 37.8 L565.8 32.8 L569.8 27.1 L572.9 20.9" stroke="rgb(150,150,150)" stroke-width="0.6"/>
<path d="M594.3 40.3 L600.9 39.0 L607.4 37.5 L613.9 35.8 L620.3 33.8" stroke="rgb(125,125,125)" stroke-width="0.8"/>
<path d="M589.0 86.4 L589.0 81.9 L588.3 77.4 L586.9 73.2 L584.8 69.2" stroke="rgb(150,150,150)" stroke-width="0.6"/>
<path d="M579.0 162.8 L571.6 166.8 L564.3 171.0 L557.1 175.5 L550.1 180.1" stroke="rgb(180,180,180)" stroke-width="0.6"/>
<path d="M638.0 116.8 L631.4 113.3 L624.5 110.7 L617.3 108.9 L610.0 108.1" stroke="rgb(80,80,80)" stroke-width="0.6"/>
<path d="M576.7 112.0 L573.6 117.1 L569.7 121.7 L565.1 125.6 L559.9 128.6" stroke="rgb(80,80,80)" stroke-width="0.8"/>
<path d="M600.2 79.1 L595.6 75.3 L591.4 71.1 L587.6 66.5 L584.2 61.6" stroke="rgb(80,80,80)" stroke-width="0.6"/>
<path d="M559.3 154.9 L562.2 149.8 L564.2 144.2 L565.3 138.4 L565.4 132.5" stroke="rgb(100,100,100)" stroke-width="0.6"/>
<path d="M589.1 139.4 L582.3 135.3 L575.8 130.9 L569.5 126.1 L563.6 121.0" stroke="rgb(80,80,80)" stroke-width="0.6"/>
<path d="M606.6 42.3 L609.8 48.3 L613.3 54.1 L617.0 59.7 L621.1 65.1" stroke="rgb(80,80,80)" stroke-width="0.6"/>
<path d="M615.1 126.7 L612.0 126.8 L608.8 126.4 L605.7 125.6 L602.7 124.5" stroke="rgb(125,125,125)" stroke-width="0.8"/>
<path d="M602.1 44.8 L603.6 47.5 L605.0 50.3 L606.2 53.2 L607.4 56.1" stroke="rgb(150,150,150)" stroke-width="0.6"/>
<path d="M527.7 132.1 L522.7 132.5 L517.8 133.4 L513.0 134.5 L508.3 136.0" stroke="rgb(125,125,125)" stroke-width="0.6"/>
<path d="M589.0 135.2 L590.4 139.9 L591.8 144.7 L592.9 149.6 L594.0 154.4" stroke="rgb(100,100,100)" stroke-width="0.6"/>
<path d="M525.6 125.8 L523.7 119.9 L522.4 113.8 L521.7 107.6 L521.6 101.3" stroke="rgb(180,180,180)" stroke-width="0.6"/>
<path d="M514.9 147.7 L522.7 149.8 L530.8 150.4 L538.9 149.8 L546.8 147.7" stroke="rgb(80,80,80)" stroke-width="0.6"/>
<path d="M586.3 112.0 L593.3 111.8 L600.2 112.3 L607.0 113.6 L613.7 115.6" stroke="rgb(100,100,100)" stroke-width="0.8"/>
<path d="M532.3 32.2 L537.9 32.5 L543.5 32.6 L549.1 32.5 L554.7 32.3" stroke="rgb(150,150,150)" stroke-width="0.8"/>
<path d="M645.0 118.6 L639.4 120.3 L634.1 122.7 L629.1 125.8 L624.5 129.5" stroke="rgb(125,125,125)" stroke-width="0.8"/>
<path d="M594.4 77.2 L593.4 79.5 L592.1 81.7 L590.5 83.6 L588.6 85.2" stroke="rgb(150,150,150)" stroke-width="0.8"/>
<path d="M573.6 21.1 L575.2 24.9 L577.0 28.4 L579.3 31.8 L581.8 34.9" stroke="rgb(80,80,80)" stroke-width="0.6"/>
<path d="M541.5 109.0 L546.4 112.0 L551.0 115.5 L555.2 119.4 L559.0 123.7" stroke="rgb(80,80,80)" stroke-width="0.6"/>
<path d="M603.3 116.3 L607.3 113.7 L611.6 111.6 L616.0 109.9 L620.7 108.9" stroke="rgb(125,125,125)" stroke-width="0.8"/>
<path d="M573.9 122.5 L573.1 126.3 L571.9 130.0 L570.5 133.5 L568.8 137.0" stroke="rgb(150,150,150)" stroke-width="0.8"/>
<path d="M607.3 139.0 L609.8 136.8 L612.0 134.4 L613.7 131.6 L615.1 128.6" stroke="rgb(100,100,100)" stroke-width="0.6"/>
<path d="M566.1 164.6 L559.9 170.0 L553.6 175.4 L547.3 180.8 L541.0 186.2" stroke="rgb(180,180,180)" stroke-width="0.6"/>
<path d="M569.5 108.6 L572.2 109.9 L574.7 111.3 L577.2 112.8 L579.6 114.5" stroke="rgb(100,100,100)" stroke-width="0.6"/>
<path d="M510.0 169.0 L515.9 163.8 L521.7 158.5 L527.4 153.1 L533.1 147.6" stroke="rgb(125,125,125)" stroke-width="0.8"/>
<path d="M580.4 60.9 L581.5 56.8 L582.0 52.7 L582.1 48.5 L581.8 44.4" stroke="rgb(125,125,125)" stroke-width="0.8"/>
<path d="M536.8 140.0 L539.8 143.6 L542.5 147.4 L544.9 151.4 L546.9 155.6" stroke="rgb(180,180,180)" stroke-width="0.8"/>
<path d="M619.8 93.3 L626.8 91.7 L633.4 89.1 L639.5 85.3 L644.9 80.7" stroke="rgb(125,125,125)" stroke-width="0.8"/>
<path d="M494.6 108.7 L502.9 110.4 L510.8 113.5 L518.0 117.9 L524.3 123.6" stroke="rgb(100,100,100)" stroke-width="0.8"/>
<path d="M578.0 76.8 L581.4 76.8 L584.8 76.5 L588.2 76.1 L591.6 75.6" stroke="rgb(100,100,100)" stroke-width="0.8"/>
<path d="M542.2 96.2 L541.6 88.9 L542.4 81.6 L544.4 74.5 L547.7 67.9" stroke="rgb(125,125,125)" stroke-width="0.6"/>
<path d="M529.3 115.5 L526.4 123.5 L522.7 131.2 L518.4 138.6 L513.4 145.5" stroke="rgb(100,100,100)" stroke-width="0.8"/>
<path d="M569.8 158.1 L568.3 165.6 L567.6 173.3 L567.7 180.9 L568.6 188.5" stroke="rgb(180,180,180)" stroke-width="0.8"/>
<path d="M536.3 81.4 L531.4 88.5 L526.6 95.7 L521.7 102.8 L516.8 110.0" stroke="rgb(100,100,100)" stroke-width="0.6"/>
<path d="M571.8 138.1 L570.8 145.7 L568.9 153.1 L566.3 160.3 L562.9 167.2" stroke="rgb(180,180,180)" stroke-width="0.8"/>
<path d="M585.9 154.6 L587.7 160.0 L588.9 165.5 L589.6 171.1 L589.7 176.8" stroke="rgb(125,125,125)" stroke-width="0.8"/>
<path d="M522.5 37.5 L526.7 39.5 L530.6 42.0 L534.3 44.8 L537.6 48.1" stroke="rgb(125,125,125)" stroke-width="0.8"/>
<path d="M567.6 67.9 L573.7 67.9 L579.9 67.3 L585.9 66.2 L591.9 64.6" stroke="rgb(125,125,125)" stroke-width="0.6"/>
<path d="M523.4 61.1 L525.5 59.3 L527.3 57.2 L528.8 54.9 L530.1 52.4" stroke="rgb(180,180,180)" stroke-width="0.8"/>
<path d="M522.1 124.0 L526.4 117.3 L530.9 110.7 L535.6 104.2 L540.6 97.9" stroke="rgb(80,80,80)" stroke-width="0.8"/>
<path d="M569.1 90.3 L573.6 95.4 L578.5 100.1 L583.8 104.3 L589.5 107.9" stroke="rgb(80,80,80)" stroke-width="0.8"/>
<path d="M569.5 107.1 L573.8 106.4 L578.1 105.6 L582.4 104.6 L586.7 103.5" stroke="rgb(125,125,125)" stroke-width="0.8"/>
<path d="M577.5 112.7 L578.1 118.6 L579.3 124.4 L580.9 130.0 L583.0 135.5" stroke="rgb(150,150,150)" stroke-width="0.8"/>
<path d="M552.7 133.3 L555.0 130.6 L556.8 127.6 L558.2 124.3 L558.9 120.8" stroke="rgb(180,180,180)" stroke-width="0.8"/>
<path d="M554.5 93.1 L559.6 96.5 L564.7 99.8 L569.9 103.0 L575.2 106.0" stroke="rgb(100,100,100)" stroke-width="0.6"/>
<path d="M532.7 52.5 L533.0 48.8 L532.9 45.1 L532.4 41.5 L531.5 38.0" stroke="rgb(125,125,125)" stroke-width="0.6"/>
<path d="M578.5 156.4 L578.3 160.4 L578.3 164.4 L578.3 168.4 L578.5 172.4" stroke="rgb(125,125,125)" stroke-width="0.8"/>
<path d="M631.8 95.9 L633.0 102.6 L634.7 109.2 L636.8 115.7 L639.3 122.1" stroke="rgb(180,180,180)" stroke-width="0.8"/>
<path d="M571.5 57.8 L572.7 55.6 L574.1 53.5 L575.7 51.5 L577.4 49.7" stroke="rgb(100,100,100)" stroke-width="0.6"/>
<path d="M596.0 161.2 L601.3 164.6 L607.1 167.2 L613.2 168.9 L619.6 169.5" stroke="rgb(100,100,100)" stroke-width="0.8"/>
<path d="M576.6 23.8 L580.0 31.6 L582.6 39.8 L584.3 48.2 L585.2 56.7" stroke="rgb(150,150,150)" stroke-width="0.8"/>
<path d="M544.1 114.0 L548.0 110.5 L551.5 106.7 L554.6 102.5 L557.2 98.1" stroke="rgb(80,80,80)" stroke-width="0.6"/>
<path d="M575.3 119.9 L569.8 122.4 L564.4 124.9 L559.0 127.6 L553.7 130.4" stroke="rgb(125,125,125)" stroke-width="0.8"/>
<path d="M572.2 143.2 L569.9 140.9 L567.2 138.9 L564.2 137.4 L561.0 136.4" stroke="rgb(150,150,150)" stroke-width="0.6"/>
<path d="M535.8 54.9 L534.5 47.7 L532.8 40.5 L530.7 33.4 L528.2 26.5" stroke="rgb(125,125,125)" stroke-width="0.6"/>
<path d="M538.5 147.8 L539.5 145.5 L540.5 143.1 L541.5 140.7 L542.4 138.3" stroke="rgb(180,180,180)" stroke-width="0.6"/>
<path d="M523.0 82.5 L523.3 78.2 L523.7 74.0 L524.1 69.8 L524.7 65.5" stroke="rgb(125,125,125)" stroke-width="0.6"/>
<path d="M534.2 112.5 L531.9 114.2 L529.3 115.5 L526.5 116.3 L523.6 116.7" stroke="rgb(80,80,80)" stroke-width="0.6"/>
<path d="M555.5 86.8 L550.4 89.3 L545.5 92.3 L541.0 95.8 L536.8 99.7" stroke="rgb(150,150,150)" stroke-width="0.8"/>
<path d="M599.0 68.5 L606.2 64.3 L612.9 59.4 L619.1 53.9 L624.7 47.8" stroke="rgb(125,125,125)" stroke-width="0.6"/>
<path d="M554.7 107.5 L558.4 105.0 L562.1 102.5 L565.9 100.1 L569.6 97.6" stroke="rgb(180,180,180)" stroke-width="0.6"/>
<path d="M624.3 98.3 L625.9 104.0 L627.7 109.7 L629.9 115.2 L632.5 120.5" stroke="rgb(180,180,180)" stroke-width="0.6"/>
<path d="M508.4 160.7 L514.5 158.5 L520.6 156.3 L526.8 154.3 L533.0 152.3" stroke="rgb(150,150,150)" stroke-width="0.8"/>
<path d="M505.3 118.9 L509.1 112.0 L512.0 104.6 L513.9 96.9 L514.6 88.9" stroke="rgb(125,125,125)" stroke-width="0.8"/>
<path d="M553.5 96.8 L548.8 97.6 L544.2 98.0 L539.5 97.9 L534.8 97.5" stroke="rgb(125,125,125)" stroke-width="0.8"/>
<path d="M522.6 52.9 L524.3 58.0 L526.3 63.0 L528.4 67.8 L530.8 72.6" stroke="rgb(180,180,180)" stroke-width="0.6"/>
<path d="M543.8 85.6 L537.6 84.8 L531.2 84.9 L525.0 85.9 L518.9 87.7" stroke="rgb(180,180,180)" stroke-width="0.8"/>
<path d="M540.1 135.8 L533.6 137.1 L527.0 137.8 L520.4 137.7 L513.8 137.0" stroke="rgb(100,100,100)" stroke-width="0.8"/>
<path d="M603.8 33.4 L606.7 39.4 L609.3 45.7 L611.4 52.1 L613.1 58.6" stroke="rgb(80,80,80)" stroke-width="0.6"/>
<path d="M565.2 120.7 L558.9 122.0 L552.5 122.5 L546.1 122.2 L539.8 121.2" stroke="rgb(150,150,150)" stroke-width="0.6"/>
<path d="M605.8 47.1 L606.0 50.8 L605.7 54.4 L604.7 58.0 L603.2 61.3" stroke="rgb(150,150,150)" stroke-width="0.6"/>
<path d="M618.0 105.7 L618.8 100.5 L618.7 95.2 L617.7 89.9 L615.8 85.0" stroke="rgb(80,80,80)" stroke-width="0.8"/>
<path d="M598.4 145.6 L598.7 151.4 L598.7 157.2 L598.6 162.9 L598.1 168.7" stroke="rgb(80,80,80)" stroke-width="0.6"/>
<path d="M520.0 134.4 L514.8 138.3 L509.2 141.5 L503.1 143.8 L496.8 145.3" stroke="rgb(125,125,125)" stroke-width="0.8"/>
<path d="M611.9 101.6 L618.4 105.4 L624.3 110.2 L629.5 115.8 L633.7 122.1" stroke="rgb(80,80,80)" stroke-width="0.6"/>
<path d="M613.3 53.7 L614.2 56.2 L615.4 58.7 L616.9 60.9 L618.6 63.0" stroke="rgb(80,80,80)" stroke-width="0.6"/>
<path d="M526.0 127.1 L522.7 126.3 L519.3 125.9 L515.9 126.1 L512.6 126.7" stroke="rgb(180,180,180)" stroke-width="0.8"/>
<path d="M522.1 108.0 L519.3 107.2 L516.7 106.1 L514.1 104.7 L511.7 103.2" stroke="rgb(125,125,125)" stroke-width="0.6"/>
<path d="M597.6 39.6 L598.7 37.0 L600.1 34.5 L601.8 32.3 L603.8 30.3" stroke="rgb(80,80,80)" stroke-width="0.6"/>
<path d="M571.3 135.5 L567.0 142.1 L562.0 148.3 L556.4 153.8 L550.2 158.7" stroke="rgb(80,80,80)" stroke-width="0.6"/>
<path d="M530.0 165.0 L528.5 167.4 L527.5 170.1 L527.0 172.8 L526.9 175.6" stroke="rgb(100,100,100)" stroke-width="0.8"/>
<path d="M616.9 149.0 L611.8 142.9 L607.2 136.4 L603.4 129.4 L600.4 122.1" stroke="rgb(125,125,125)" stroke-width="0.6"/>
<path d="M612.2 166.4 L609.0 166.8 L605.9 166.8 L602.8 166.5 L599.7 165.8" stroke="rgb(100,100,100)" stroke-width="0.8"/>
<path d="M513.3 74.7 L518.0 69.7 L523.5 65.5 L529.6 62.3 L536.2 60.2" stroke="rgb(125,125,125)" stroke-width="0.6"/>
<path d="M650.1 155.4 L645.9 153.2 L641.8 150.8 L637.8 148.3 L633.9 145.5" stroke="rgb(125,125,125)" stroke-width="0.8"/>
<path d="M588.7 173.5 L592.8 168.8 L596.5 163.7 L599.7 158.4 L602.4 152.8" stroke="rgb(125,125,125)" stroke-width="0.8"/>
<path d="M598.9 117.0 L604.9 122.3 L611.5 127.0 L618.5 130.9 L625.9 134.1" stroke="rgb(180,180,180)" stroke-width="0.8"/>
<path d="M567.4 103.5 L568.8 111.9 L569.4 120.4 L569.1 128.9 L568.0 137.4" stroke="rgb(100,100,100)" stroke-width="0.6"/>
<path d="M625.0 103.2 L627.8 103.3 L630.7 103.4 L633.5 103.4 L636.3 103.5" stroke="rgb(100,100,100)" stroke-width="0.6"/>
<path d="M553.4 66.9 L550.6 62.1 L547.2 57.7 L543.3 53.8 L538.9 50.4" stroke="rgb(100,100,100)" stroke-width="0.6"/>
<path d="M610.2 130.0 L604.3 126.3 L598.7 122.4 L593.2 118.3 L587.9 114.0" stroke="rgb(80,80,80)" stroke-width="0.6"/>
<path d="M564.8 74.6 L562.9 71.8 L560.7 69.4 L558.2 67.2 L555.4 65.4" stroke="rgb(125,125,125)" stroke-width="0.6"/>
<path d="M542.0 189.6 L540.1 186.3 L538.0 183.2 L535.7 180.2 L533.2 177.4" stroke="rgb(100,100,100)" stroke-width="0.8"/>
<path d="M538.7 100.6 L534.7 99.9 L530.6 99.6 L526.5 99.8 L522.5 100.6" stroke="rgb(150,150,150)" stroke-width="0.8"/>
<path d="M518.5 112.5 L518.4 107.1 L518.2 101.7 L517.8 96.4 L517.3 91.0" stroke="rgb(80,80,80)" stroke-width="0.6"/>
<path d="M579.3 30.3 L587.7 31.8 L596.2 32.7 L604.7 33.0 L613.2 32.6" stroke="rgb(80,80,80)" stroke-width="0.8"/>
<path d="M577.4 30.7 L578.6 35.1 L580.0 39.5 L581.7 43.8 L583.5 48.0" stroke="rgb(80,80,80)" stroke-width="0.8"/>
<path d="M579.1 49.2 L576.6 44.1 L574.6 38.7 L573.2 33.2 L572.4 27.5" stroke="rgb(125,125,125)" stroke-width="0.8"/>
<path d="M586.8 171.2 L580.3 170.8 L574.0 170.0 L567.6 168.7 L561.4 167.1" stroke="rgb(180,180,180)" stroke-width="0.8"/>
<path d="M589.4 98.7 L592.1 97.9 L594.6 96.8 L597.0 95.5 L599.3 93.9" stroke="rgb(100,100,100)" stroke-width="0.8"/>
<path d="M626.0 116.5 L630.2 117.5 L634.3 118.7 L638.3 120.2 L642.3 121.8" stroke="rgb(125,125,125)" stroke-width="0.6"/>
<path d="M596.3 153.5 L590.4 150.9 L584.4 148.9 L578.2 147.5 L571.9 146.6" stroke="rgb(80,80,80)" stroke-width="0.6"/>
<path d="M582.7 34.2 L575.6 38.6 L569.2 44.0 L563.8 50.3 L559.3 57.4" stroke="rgb(150,150,150)" stroke-width="0.6"/>
<path d="M563.6 24.6 L563.2 33.1 L562.7 41.6 L562.2 50.1 L561.6 58.6" stroke="rgb(100,100,100)" stroke-width="0.6"/>
<path d="M653.1 167.3 L645.0 165.9 L636.9 165.0 L628.7 164.3 L620.5 164.1" stroke="rgb(80,80,80)" stroke-width="0.8"/>
<path d="M614.4 114.8 L621.6 115.0 L628.8 114.6 L635.9 113.4 L642.8 111.6" stroke="rgb(100,100,100)" stroke-width="0.6"/>
<path d="M628.5 166.1 L622.3 167.2 L616.4 169.3 L610.9 172.3 L605.9 176.2" stroke="rgb(150,150,150)" stroke-width="0.6"/>
<path d="M575.5 55.5 L574.6 58.4 L574.2 61.3 L574.2 64.2 L574.7 67.1" stroke="rgb(180,180,180)" stroke-width="0.8"/>
<path d="M519.7 39.1 L523.1 45.1 L525.8 51.5 L527.9 58.1 L529.3 64.9" stroke="rgb(125,125,125)" stroke-width="0.6"/>
<path d="M608.0 156.8 L604.8 153.1 L601.5 149.5 L598.3 145.8 L595.0 142.2" stroke="rgb(100,100,100)" stroke-width="0.8"/>
<path d="M608.4 52.3 L606.0 48.3 L603.0 44.6 L599.6 41.4 L595.7 38.8" stroke="rgb(150,150,150)" stroke-width="0.8"/>
<path d="M562.2 98.0 L556.4 98.7 L550.6 99.5 L544.9 100.3 L539.1 101.1" stroke="rgb(150,150,150)" stroke-width="0.8"/>
<path d="M519.9 110.9 L517.5 112.9 L515.2 115.0 L513.1 117.3 L511.1 119.7" stroke="rgb(100,100,100)" stroke-width="0.6"/>
<path d="M610.9 159.2 L611.2 162.8 L612.1 166.4 L613.5 169.8 L615.4 172.9" stroke="rgb(180,180,180)" stroke-width="0.6"/>
<path d="M586.9 61.0 L590.2 65.5 L593.9 69.8 L597.9 73.8 L602.2 77.5" stroke="rgb(100,100,100)" stroke-width="0.8"/>
<path d="M539.9 46.6 L538.5 44.1 L537.1 41.6 L535.9 38.9 L534.8 36.3" stroke="rgb(125,125,125)" stroke-width="0.6"/>
<path d="M602.2 95.3 L598.0 98.2 L593.6 100.8 L589.0 103.0 L584.3 104.8" stroke="rgb(180,180,180)" stroke-width="0.8"/>
<path d="M583.1 165.5 L577.9 166.2 L572.8 167.2 L567.8 168.7 L563.0 170.7" stroke="rgb(125,125,125)" stroke-width="0.8"/>
<path d="M530.9 111.4 L526.8 116.6 L521.9 121.1 L516.3 124.7 L510.2 127.4" stroke="rgb(150,150,150)" stroke-width="0.8"/>
<path d="M575.7 50.4 L581.4 44.4 L586.8 38.2 L591.7 31.6 L596.3 24.8" stroke="rgb(180,180,180)" stroke-width="0.8"/>
<path d="M599.2 116.3 L605.9 118.2 L612.8 119.5 L619.7 120.2 L626.7 120.5" stroke="rgb(125,125,125)" stroke-width="0.6"/>
<path d="M606.4 81.1 L612.4 80.7 L618.4 81.0 L624.3 81.8 L630.1 83.3" stroke="rgb(150,150,150)" stroke-width="0.6"/>
<path d="M588.9 127.9 L590.2 131.4 L591.7 134.7 L593.3 138.0 L595.1 141.2" stroke="rgb(150,150,150)" stroke-width="0.8"/>
<path d="M563.8 95.0 L563.9 91.0 L563.8 87.0 L563.6 83.1 L563.3 79.1" stroke="rgb(80,80,80)" stroke-width="0.6"/>
<path d="M557.1 65.2 L557.1 60.3 L556.4 55.4 L554.9 50.8 L552.8 46.4" stroke="rgb(125,125,125)" stroke-width="0.6"/>
<path d="M562.4 120.9 L559.1 124.7 L555.8 128.6 L552.5 132.4 L549.2 136.3" stroke="rgb(80,80,80)" stroke-width="0.8"/>
<path d="M611.6 88.9 L619.3 87.2 L627.1 86.8 L635.0 87.6 L642.6 89.6" stroke="rgb(80,80,80)" stroke-width="0.8"/>
<path d="M554.7 131.1 L549.9 129.0 L545.4 126.2 L541.4 122.9 L537.9 119.0" stroke="rgb(150,150,150)" stroke-width="0.8"/>
<path d="M526.3 154.1 L522.4 147.9 L519.1 141.3 L516.6 134.4 L514.9 127.3" stroke="rgb(125,125,125)" stroke-width="0.6"/>
<path d="M596.0 114.2 L597.4 111.7 L599.1 109.3 L600.9 107.0 L602.9 104.9" stroke="rgb(150,150,150)" stroke-width="0.6"/>
<path d="M517.5 68.7 L519.7 64.7 L521.9 60.6 L524.1 56.5 L526.2 52.4" stroke="rgb(180,180,180)" stroke-width="0.6"/>
<path d="M585.9 168.3 L579.4 166.7" stroke="rgb(220,220,220)" stroke-width="1.0" stroke-dasharray="2 1.5"/>
<path d="M611.5 163.8 L603.9 165.9" stroke="rgb(140,140,140)" stroke-width="1.0" stroke-dasharray="3 1.5"/>
<path d="M579.8 166.2 L570.3 170.1" stroke="rgb(180,180,180)" stroke-width="0.8" stroke-dasharray="4 2"/>
<path d="M607.5 163.9 L596.4 173.2" stroke="rgb(220,220,220)" stroke-width="1.0" stroke-dasharray="2 1.5"/>
<path d="M637.3 159.7 L623.6 163.2" stroke="rgb(140,140,140)" stroke-width="0.8" stroke-dasharray="2 1.5"/>
<path d="M579.6 165.0 L566.1 168.5" stroke="rgb(140,140,140)" stroke-width="0.8" stroke-dasharray="3 1.5"/>
<path d="M608.3 168.4 L592.8 171.2" stroke="rgb(220,220,220)" stroke-width="0.8" stroke-dasharray="2 1.5"/>
<path d="M576.2 169.5 L564.5 170.4" stroke="rgb(180,180,180)" stroke-width="0.8" stroke-dasharray="2 1.5"/>
<path d="M553.0 173.6 L546.2 177.0" stroke="rgb(180,180,180)" stroke-width="0.8" stroke-dasharray="2 1.5"/>
<path d="M614.9 165.2 L603.9 167.1" stroke="rgb(140,140,140)" stroke-width="0.8" stroke-dasharray="4 2"/>
<path d="M602.4 169.7 L593.1 170.8" stroke="rgb(140,140,140)" stroke-width="1.0" stroke-dasharray="2 1.5"/>
<path d="M570.6 167.8 L564.0 169.7" stroke="rgb(180,180,180)" stroke-width="1.0" stroke-dasharray="2 1.5"/>
<path d="M602.1 169.1 L588.7 166.1" stroke="rgb(220,220,220)" stroke-width="0.8" stroke-dasharray="3 1.5"/>
<path d="M591.8 168.3 L584.1 169.9" stroke="rgb(220,220,220)" stroke-width="0.8" stroke-dasharray="3 1.5"/>
<path d="M598.3 168.2 L583.4 169.4" stroke="rgb(180,180,180)" stroke-width="0.8" stroke-dasharray="4 2"/>
<path d="M633.5 164.6 L617.6 164.4" stroke="rgb(220,220,220)" stroke-width="1.0" stroke-dasharray="2 1.5"/>
<path d="M569.3 172.2 L562.9 174.0" stroke="rgb(140,140,140)" stroke-width="1.0" stroke-dasharray="3 1.5"/>
<path d="M637.6 164.0 L623.4 164.1" stroke="rgb(140,140,140)" stroke-width="0.8" stroke-dasharray="4 2"/>
<path d="M614.0 165.8 L603.2 169.5" stroke="rgb(140,140,140)" stroke-width="1.0" stroke-dasharray="2 1.5"/>
<path d="M587.4 166.8 L573.8 170.5" stroke="rgb(220,220,220)" stroke-width="1.0" stroke-dasharray="4 2"/>
<path d="M584.1 168.9 L573.0 164.3" stroke="rgb(140,140,140)" stroke-width="0.8" stroke-dasharray="2 1.5"/>
<path d="M616.9 168.9 L610.1 167.2" stroke="rgb(140,140,140)" stroke-width="1.0" stroke-dasharray="3 1.5"/>
<path d="M635.5 163.4 L620.1 163.8" stroke="rgb(140,140,140)" stroke-width="1.0" stroke-dasharray="4 2"/>
<path d="M644.3 164.6 L633.0 165.6" stroke="rgb(140,140,140)" stroke-width="1.0" stroke-dasharray="2 1.5"/>
<path d="M614.7 164.5 L609.2 167.0" stroke="rgb(140,140,140)" stroke-width="0.8" stroke-dasharray="4 2"/>
<path d="M617.1 162.9 L607.3 163.0" stroke="rgb(180,180,180)" stroke-width="0.8" stroke-dasharray="3 1.5"/>
<path d="M594.7 167.6 L580.7 168.3" stroke="rgb(140,140,140)" stroke-width="0.8" stroke-dasharray="4 2"/>
<path d="M556.2 173.6 L547.2 179.1" stroke="rgb(220,220,220)" stroke-width="0.8" stroke-dasharray="2 1.5"/>
<path d="M587.1 170.5 L576.3 163.0" stroke="rgb(220,220,220)" stroke-width="1.0" stroke-dasharray="2 1.5"/>
<path d="M590.2 164.5 L579.8 168.0" stroke="rgb(180,180,180)" stroke-width="1.0" stroke-dasharray="2 1.5"/>
<path d="M573.6 169.7 L562.9 173.1" stroke="rgb(220,220,220)" stroke-width="0.8" stroke-dasharray="3 1.5"/>
<path d="M581.3 168.9 L569.1 173.3" stroke="rgb(220,220,220)" stroke-width="0.8" stroke-dasharray="2 1.5"/>
<path d="M603.2 169.8 L592.2 167.1" stroke="rgb(220,220,220)" stroke-width="0.8" stroke-dasharray="3 1.5"/>
<path d="M605.7 168.6 L597.2 169.8" stroke="rgb(140,140,140)" stroke-width="0.8" stroke-dasharray="3 1.5"/>
<path d="M575.8 170.7 L565.5 169.7" stroke="rgb(220,220,220)" stroke-width="1.0" stroke-dasharray="2 1.5"/>
<path d="M598.4 162.8 L588.2 169.8" stroke="rgb(180,180,180)" stroke-width="0.8" stroke-dasharray="3 1.5"/>
<path d="M576.4 164.0 L565.2 169.2" stroke="rgb(140,140,140)" stroke-width="0.8" stroke-dasharray="4 2"/>
<path d="M625.2 161.0 L617.0 163.5" stroke="rgb(180,180,180)" stroke-width="0.8" stroke-dasharray="2 1.5"/>
<path d="M587.5 166.6 L581.2 170.1" stroke="rgb(220,220,220)" stroke-width="0.8" stroke-dasharray="3 1.5"/>
<path d="M647.9 168.3 L635.3 161.7" stroke="rgb(220,220,220)" stroke-width="0.8" stroke-dasharray="2 1.5"/>
<path d="M582.8 169.6 L573.8 172.2" stroke="rgb(180,180,180)" stroke-width="0.8" stroke-dasharray="4 2"/>
<path d="M616.4 165.1 L607.5 170.0" stroke="rgb(180,180,180)" stroke-width="0.8" stroke-dasharray="3 1.5"/>
<path d="M608.2 159.9 L596.0 170.0" stroke="rgb(180,180,180)" stroke-width="1.0" stroke-dasharray="2 1.5"/>
<path d="M605.8 170.2 L599.2 168.8" stroke="rgb(140,140,140)" stroke-width="1.0" stroke-dasharray="3 1.5"/>
<path d="M577.5 169.5 L564.7 172.7" stroke="rgb(180,180,180)" stroke-width="1.0" stroke-dasharray="4 2"/>
</g></g>
<rect x="204" y="189.3" width="25" height="6.4" fill="#8a8a8a"/>
<path d="M69.3 83.6 L66.9 88.6 L75.2 89.8 Z" fill="#f4ec00"/>
<path d="M166.1 63.1 L171.9 65.3 L166.4 71.0 Z" fill="#f4ec00"/>
<path d="M118.5 148.7 L126.8 146.7 L122.1 153.3 Z" fill="#f4ec00"/>
<path d="M163.9 150.2 L172.0 150.2 L166.5 155.2 Z" fill="#f4ec00"/>
<path d="M186.9 136.2 L192.1 138.8 L185.2 143.4 Z" fill="#f4ec00"/>
<path d="M284.0 85.4 L290.3 92.7 L283.4 90.2 Z" fill="#22dd22"/>
<path d="M406.6 103.5 L413.9 101.0 L413.9 106.0 Z" fill="#22dd22"/>
<path d="M319.5 139.3 L327.4 137.1 L323.6 143.4 Z" fill="#22dd22"/>
<path d="M419.6 152.0 L426.6 149.4 L425.0 154.2 Z" fill="#22dd22"/>
<path d="M372.7 170.3 L380.6 171.0 L377.5 166.2 Z" fill="#22dd22"/>
<path d="M514.5 94.9 L519.3 92.7" fill="none" stroke="#d01010" stroke-width="1.3"/>
<path d="M606.4 72.8 L615.9 87.0 L623.8 103.5" fill="none" stroke="#d01010" stroke-width="1.3"/>
<path d="M550.0 137.1 L562.0 139.3 L571.5 147.2" fill="none" stroke="#d01010" stroke-width="1.3"/>
<path d="M615.9 148.8 L611.1 158.3 L608.0 166.2 L603.2 171.9" fill="none" stroke="#d01010" stroke-width="1.3"/>
<path d="M625.4 145.6 L631.7 149.4 L638.7 155.1" fill="none" stroke="#d01010" stroke-width="1.3"/>
<path d="M505.0 85.4 L511.3 92.7 L504.4 90.2 Z" fill="#22dd22"/>
<path d="M627.6 103.5 L634.9 101.0 L634.9 106.0 Z" fill="#22dd22"/>
<path d="M540.5 139.3 L548.4 137.1 L544.6 143.4 Z" fill="#22dd22"/>
<path d="M640.6 152.0 L647.6 149.4 L646.0 154.2 Z" fill="#22dd22"/>
<path d="M593.7 170.3 L601.6 171.0 L598.5 166.2 Z" fill="#22dd22"/>
<path d="M509.1 84.5 L514.5 88.6 L509.8 90.8 Z" fill="#f4ec00"/>
<path d="M606.4 64.2 L612.7 67.4 L608.0 71.2 Z" fill="#f4ec00"/>
<path d="M559.8 147.2 L566.8 147.2 L563.0 152.0 Z" fill="#f4ec00"/>
<path d="M605.4 149.4 L612.7 149.4 L608.6 154.2 Z" fill="#f4ec00"/>
<path d="M627.0 136.1 L632.3 139.3 L626.3 143.4 Z" fill="#f4ec00"/>
<text x="3.4" y="11.0" font-size="17.2" text-anchor="start" font-weight="normal" fill="#000" stroke="#000" stroke-width="0.55">a</text>
<text x="7.2" y="241.8" font-size="16.3" text-anchor="start" font-weight="normal" fill="#000" stroke="#000" stroke-width="0.55">b</text>
<text x="313.4" y="242.2" font-size="16.3" text-anchor="start" font-weight="normal" fill="#000" stroke="#000" stroke-width="0.55">c</text>
<text x="6.3" y="476.8" font-size="16.3" text-anchor="start" font-weight="normal" fill="#000" stroke="#000" stroke-width="0.55">d</text>
<text x="311.3" y="477.0" font-size="16.3" text-anchor="start" font-weight="normal" fill="#000" stroke="#000" stroke-width="0.55">e</text>
<rect x="60.2" y="251.75" width="70.25" height="8.90" fill="#a1a1a6" stroke="#000" stroke-width="2.5"/>
<path d="M131.70 256.20 H133.07 M133.07 253.60 V258.80" stroke="#333" stroke-width="1" fill="none"/>
<rect x="60.2" y="268.00" width="58.30" height="11.40" fill="#000"/>
<path d="M118.50 273.70 H119.46 M119.46 271.10 V276.30" stroke="#333" stroke-width="1" fill="none"/>
<rect x="60.2" y="304.25" width="87.57" height="8.90" fill="#a1a1a6" stroke="#000" stroke-width="2.5"/>
<path d="M149.02 308.70 H150.67 M150.67 306.10 V311.30" stroke="#333" stroke-width="1" fill="none"/>
<rect x="60.2" y="320.50" width="79.20" height="11.40" fill="#000"/>
<path d="M139.40 326.20 H140.78 M140.78 323.60 V328.80" stroke="#333" stroke-width="1" fill="none"/>
<rect x="60.2" y="356.75" width="60.62" height="8.90" fill="#a1a1a6" stroke="#000" stroke-width="2.5"/>
<path d="M122.08 361.20 H123.45 M123.45 358.60 V363.80" stroke="#333" stroke-width="1" fill="none"/>
<rect x="60.2" y="373.00" width="53.90" height="11.40" fill="#000"/>
<path d="M114.10 378.70 H115.20 M115.20 376.10 V381.30" stroke="#333" stroke-width="1" fill="none"/>
<path d="M60.20 242.5 V408.3" stroke="#000" stroke-width="1.7" fill="none"/>
<path d="M59.35 408.00 H170.20" stroke="#000" stroke-width="1.7" fill="none"/>
<path d="M53.70 256.20 H60.2" stroke="#000" stroke-width="1.5"/>
<path d="M53.70 273.70 H60.2" stroke="#000" stroke-width="1.5"/>
<path d="M53.70 291.20 H60.2" stroke="#000" stroke-width="1.5"/>
<path d="M53.70 308.70 H60.2" stroke="#000" stroke-width="1.5"/>
<path d="M53.70 326.20 H60.2" stroke="#000" stroke-width="1.5"/>
<path d="M53.70 343.70 H60.2" stroke="#000" stroke-width="1.5"/>
<path d="M53.70 361.20 H60.2" stroke="#000" stroke-width="1.5"/>
<path d="M53.70 378.70 H60.2" stroke="#000" stroke-width="1.5"/>
<path d="M53.70 396.20 H60.2" stroke="#000" stroke-width="1.5"/>
<path d="M60.20 408.3 V414.60" stroke="#000" stroke-width="1.5"/>
<text x="60.2" y="428.8" font-size="12" text-anchor="middle" font-weight="normal" fill="#222" >0</text>
<path d="M87.70 408.3 V414.60" stroke="#000" stroke-width="1.5"/>
<text x="87.7" y="428.8" font-size="12" text-anchor="middle" font-weight="normal" fill="#222" >10</text>
<path d="M115.20 408.3 V414.60" stroke="#000" stroke-width="1.5"/>
<text x="115.2" y="428.8" font-size="12" text-anchor="middle" font-weight="normal" fill="#222" >20</text>
<path d="M142.70 408.3 V414.60" stroke="#000" stroke-width="1.5"/>
<text x="142.7" y="428.8" font-size="12" text-anchor="middle" font-weight="normal" fill="#222" >30</text>
<path d="M170.20 408.3 V414.60" stroke="#000" stroke-width="1.5"/>
<text x="170.2" y="428.8" font-size="12" text-anchor="middle" font-weight="normal" fill="#222" >40</text>
<text x="50.7" y="278.0" font-size="12" text-anchor="end" font-weight="normal" fill="#222" >HaCaT</text>
<text x="50.7" y="330.5" font-size="12" text-anchor="end" font-weight="normal" fill="#222" >A-549</text>
<text x="50.7" y="383.0" font-size="12" text-anchor="end" font-weight="normal" fill="#222" >MCF-7</text>
<path d="M140.6 255.0 H148.6 V276.0 H140.6" stroke="#444" stroke-width="1.1" fill="none"/>
<path d="M156.90 262.60 L156.90 269.00 M154.13 264.20 L159.67 267.40 M154.13 267.40 L159.67 264.20" stroke="#222" stroke-width="1.1" fill="none" stroke-linecap="round"/>
<path d="M165.80 262.60 L165.80 269.00 M163.03 264.20 L168.57 267.40 M163.03 267.40 L168.57 264.20" stroke="#222" stroke-width="1.1" fill="none" stroke-linecap="round"/>
<path d="M174.70 262.60 L174.70 269.00 M171.93 264.20 L177.47 267.40 M171.93 267.40 L177.47 264.20" stroke="#222" stroke-width="1.1" fill="none" stroke-linecap="round"/>
<path d="M155.2 306.7 H163.8 V326.6 H155.2" stroke="#444" stroke-width="1.1" fill="none"/>
<path d="M171.80 313.60 L171.80 320.00 M169.03 315.20 L174.57 318.40 M169.03 318.40 L174.57 315.20" stroke="#222" stroke-width="1.1" fill="none" stroke-linecap="round"/>
<path d="M180.70 313.60 L180.70 320.00 M177.93 315.20 L183.47 318.40 M177.93 318.40 L183.47 315.20" stroke="#222" stroke-width="1.1" fill="none" stroke-linecap="round"/>
<path d="M189.60 313.60 L189.60 320.00 M186.83 315.20 L192.37 318.40 M186.83 318.40 L192.37 315.20" stroke="#222" stroke-width="1.1" fill="none" stroke-linecap="round"/>
<path d="M132.4 360.4 H140.9 V382.6 H132.4" stroke="#444" stroke-width="1.1" fill="none"/>
<path d="M149.20 368.60 L149.20 375.00 M146.43 370.20 L151.97 373.40 M146.43 373.40 L151.97 370.20" stroke="#222" stroke-width="1.1" fill="none" stroke-linecap="round"/>
<path d="M158.10 368.60 L158.10 375.00 M155.33 370.20 L160.87 373.40 M155.33 373.40 L160.87 370.20" stroke="#222" stroke-width="1.1" fill="none" stroke-linecap="round"/>
<path d="M167.00 368.60 L167.00 375.00 M164.23 370.20 L169.77 373.40 M164.23 373.40 L169.77 370.20" stroke="#222" stroke-width="1.1" fill="none" stroke-linecap="round"/>
<text x="15.4" y="451.5" font-size="12.15" text-anchor="start" font-weight="normal" fill="#222" >MTs' plus end growth speed (μm/min)</text>
<rect x="366.4" y="251.75" width="51.55" height="8.90" fill="#a1a1a6" stroke="#000" stroke-width="2.5"/>
<path d="M419.20 256.20 H421.76 M421.76 253.60 V258.80" stroke="#333" stroke-width="1" fill="none"/>
<rect x="366.4" y="268.00" width="36.67" height="11.40" fill="#000"/>
<path d="M403.06 273.70 H404.90 M404.90 271.10 V276.30" stroke="#333" stroke-width="1" fill="none"/>
<rect x="366.4" y="304.25" width="72.08" height="8.90" fill="#a1a1a6" stroke="#000" stroke-width="2.5"/>
<path d="M439.73 308.70 H443.03 M443.03 306.10 V311.30" stroke="#333" stroke-width="1" fill="none"/>
<rect x="366.4" y="320.50" width="50.60" height="11.40" fill="#000"/>
<path d="M417.00 326.20 H419.20 M419.20 323.60 V328.80" stroke="#333" stroke-width="1" fill="none"/>
<rect x="366.4" y="356.75" width="43.11" height="8.90" fill="#a1a1a6" stroke="#000" stroke-width="2.5"/>
<path d="M410.76 361.20 H412.96 M412.96 358.60 V363.80" stroke="#333" stroke-width="1" fill="none"/>
<rect x="366.4" y="373.00" width="38.13" height="11.40" fill="#000"/>
<path d="M404.53 378.70 H406.36 M406.36 376.10 V381.30" stroke="#333" stroke-width="1" fill="none"/>
<path d="M366.40 242.5 V408.3" stroke="#000" stroke-width="1.7" fill="none"/>
<path d="M365.55 408.00 H476.40" stroke="#000" stroke-width="1.7" fill="none"/>
<path d="M359.90 256.20 H366.4" stroke="#000" stroke-width="1.5"/>
<path d="M359.90 273.70 H366.4" stroke="#000" stroke-width="1.5"/>
<path d="M359.90 291.20 H366.4" stroke="#000" stroke-width="1.5"/>
<path d="M359.90 308.70 H366.4" stroke="#000" stroke-width="1.5"/>
<path d="M359.90 326.20 H366.4" stroke="#000" stroke-width="1.5"/>
<path d="M359.90 343.70 H366.4" stroke="#000" stroke-width="1.5"/>
<path d="M359.90 361.20 H366.4" stroke="#000" stroke-width="1.5"/>
<path d="M359.90 378.70 H366.4" stroke="#000" stroke-width="1.5"/>
<path d="M359.90 396.20 H366.4" stroke="#000" stroke-width="1.5"/>
<path d="M366.40 408.3 V414.60" stroke="#000" stroke-width="1.5"/>
<text x="366.4" y="428.8" font-size="12" text-anchor="middle" font-weight="normal" fill="#222" >0</text>
<path d="M403.06 408.3 V414.60" stroke="#000" stroke-width="1.5"/>
<text x="403.1" y="428.8" font-size="12" text-anchor="middle" font-weight="normal" fill="#222" >5</text>
<path d="M439.73 408.3 V414.60" stroke="#000" stroke-width="1.5"/>
<text x="439.7" y="428.8" font-size="12" text-anchor="middle" font-weight="normal" fill="#222" >10</text>
<path d="M476.39 408.3 V414.60" stroke="#000" stroke-width="1.5"/>
<text x="476.4" y="428.8" font-size="12" text-anchor="middle" font-weight="normal" fill="#222" >15</text>
<text x="356.9" y="278.0" font-size="12" text-anchor="end" font-weight="normal" fill="#222" >HaCaT</text>
<text x="356.9" y="330.5" font-size="12" text-anchor="end" font-weight="normal" fill="#222" >A-549</text>
<text x="356.9" y="383.0" font-size="12" text-anchor="end" font-weight="normal" fill="#222" >MCF-7</text>
<path d="M434.3 254.2 H442.8 V274.3 H434.3" stroke="#444" stroke-width="1.1" fill="none"/>
<path d="M450.40 261.30 L450.40 267.70 M447.63 262.90 L453.17 266.10 M447.63 266.10 L453.17 262.90" stroke="#222" stroke-width="1.1" fill="none" stroke-linecap="round"/>
<path d="M459.30 261.30 L459.30 267.70 M456.53 262.90 L462.07 266.10 M456.53 266.10 L462.07 262.90" stroke="#222" stroke-width="1.1" fill="none" stroke-linecap="round"/>
<path d="M468.20 261.30 L468.20 267.70 M465.43 262.90 L470.97 266.10 M465.43 266.10 L470.97 262.90" stroke="#222" stroke-width="1.1" fill="none" stroke-linecap="round"/>
<path d="M458.8 305.3 H467.6 V325.8 H458.8" stroke="#444" stroke-width="1.1" fill="none"/>
<path d="M475.40 312.70 L475.40 319.10 M472.63 314.30 L478.17 317.50 M472.63 317.50 L478.17 314.30" stroke="#222" stroke-width="1.1" fill="none" stroke-linecap="round"/>
<path d="M484.30 312.70 L484.30 319.10 M481.53 314.30 L487.07 317.50 M481.53 317.50 L487.07 314.30" stroke="#222" stroke-width="1.1" fill="none" stroke-linecap="round"/>
<path d="M493.20 312.70 L493.20 319.10 M490.43 314.30 L495.97 317.50 M490.43 317.50 L495.97 314.30" stroke="#222" stroke-width="1.1" fill="none" stroke-linecap="round"/>
<path d="M424.4 361.9 H432.4 V381.9 H424.4" stroke="#444" stroke-width="1.1" fill="none"/>
<path d="M440.20 369.20 L440.20 375.60 M437.43 370.80 L442.97 374.00 M437.43 374.00 L442.97 370.80" stroke="#222" stroke-width="1.1" fill="none" stroke-linecap="round"/>
<path d="M449.10 369.20 L449.10 375.60 M446.33 370.80 L451.87 374.00 M446.33 374.00 L451.87 370.80" stroke="#222" stroke-width="1.1" fill="none" stroke-linecap="round"/>
<path d="M458.00 369.20 L458.00 375.60 M455.23 370.80 L460.77 374.00 M455.23 374.00 L460.77 370.80" stroke="#222" stroke-width="1.1" fill="none" stroke-linecap="round"/>
<text x="339.0" y="451.5" font-size="11.7" text-anchor="start" font-weight="normal" fill="#222" >MTs' plus end growth track (μm)</text>
<rect x="551.1" y="325.9" width="15.8" height="6.3" fill="#a1a1a6" stroke="#000" stroke-width="2.4"/>
<rect x="549.9" y="346.9" width="18.2" height="8.8" fill="#000"/>
<text x="577.7" y="332.8" font-size="13.5" text-anchor="start" font-weight="normal" fill="#222" >after EMT</text>
<text x="577.7" y="354.8" font-size="13.5" text-anchor="start" font-weight="normal" fill="#222" >before EMT</text>
<rect x="83.20" y="598.26" width="10.60" height="55.94" fill="#000"/>
<path d="M88.50 598.26 V595.79 M85.90 595.79 H91.10" stroke="#222" stroke-width="1.2" fill="none"/>
<rect x="100.45" y="576.20" width="8.20" height="78.00" fill="#a1a1a6" stroke="#000" stroke-width="2.4"/>
<path d="M104.55 575.00 V571.70 M101.95 571.70 H107.15" stroke="#222" stroke-width="1.2" fill="none"/>
<rect x="115.30" y="605.69" width="10.60" height="48.51" fill="#000"/>
<path d="M120.60 605.69 V603.38 M118.00 603.38 H123.20" stroke="#222" stroke-width="1.2" fill="none"/>
<rect x="132.55" y="572.08" width="8.20" height="82.13" fill="#a1a1a6" stroke="#000" stroke-width="2.4"/>
<path d="M136.65 570.88 V567.90 M134.05 567.90 H139.25" stroke="#222" stroke-width="1.2" fill="none"/>
<rect x="163.45" y="560.15" width="10.60" height="94.05" fill="#000"/>
<path d="M168.75 560.15 V557.18 M166.15 557.18 H171.35" stroke="#222" stroke-width="1.2" fill="none"/>
<rect x="180.70" y="552.11" width="8.20" height="102.09" fill="#a1a1a6" stroke="#000" stroke-width="2.4"/>
<path d="M184.80 550.91 V546.78 M182.20 546.78 H187.40" stroke="#222" stroke-width="1.2" fill="none"/>
<rect x="195.55" y="559.65" width="10.60" height="94.55" fill="#000"/>
<path d="M200.85 559.65 V555.53 M198.25 555.53 H203.45" stroke="#222" stroke-width="1.2" fill="none"/>
<rect x="212.80" y="533.96" width="8.20" height="120.24" fill="#a1a1a6" stroke="#000" stroke-width="2.4"/>
<path d="M216.90 532.76 V527.15 M214.30 527.15 H219.50" stroke="#222" stroke-width="1.2" fill="none"/>
<rect x="243.70" y="584.57" width="10.60" height="69.63" fill="#000"/>
<path d="M249.00 584.57 V580.61 M246.40 580.61 H251.60" stroke="#222" stroke-width="1.2" fill="none"/>
<rect x="260.95" y="545.51" width="8.20" height="108.69" fill="#a1a1a6" stroke="#000" stroke-width="2.4"/>
<path d="M265.05 544.31 V537.54 M262.45 537.54 H267.65" stroke="#222" stroke-width="1.2" fill="none"/>
<rect x="275.80" y="594.97" width="10.60" height="59.24" fill="#000"/>
<path d="M281.10 594.97 V590.84 M278.50 590.84 H283.70" stroke="#222" stroke-width="1.2" fill="none"/>
<rect x="293.05" y="549.31" width="8.20" height="104.90" fill="#a1a1a6" stroke="#000" stroke-width="2.4"/>
<path d="M297.15 548.11 V542.00 M294.55 542.00 H299.75" stroke="#222" stroke-width="1.2" fill="none"/>
<path d="M61.80 488.70 V655.05" stroke="#000" stroke-width="1.7" fill="none"/>
<path d="M61.80 654.20 H309.50" stroke="#000" stroke-width="1.7" fill="none"/>
<path d="M55.30 654.20 H61.8" stroke="#000" stroke-width="1.5"/>
<text x="52.8" y="658.5" font-size="12" text-anchor="end" font-weight="bold" fill="#111" >0</text>
<path d="M55.30 621.20 H61.8" stroke="#000" stroke-width="1.5"/>
<text x="52.8" y="625.5" font-size="12" text-anchor="end" font-weight="bold" fill="#111" >2</text>
<path d="M55.30 588.20 H61.8" stroke="#000" stroke-width="1.5"/>
<text x="52.8" y="592.5" font-size="12" text-anchor="end" font-weight="bold" fill="#111" >4</text>
<path d="M55.30 555.20 H61.8" stroke="#000" stroke-width="1.5"/>
<text x="52.8" y="559.5" font-size="12" text-anchor="end" font-weight="bold" fill="#111" >6</text>
<path d="M55.30 522.20 H61.8" stroke="#000" stroke-width="1.5"/>
<text x="52.8" y="526.5" font-size="12" text-anchor="end" font-weight="bold" fill="#111" >8</text>
<path d="M55.30 489.20 H61.8" stroke="#000" stroke-width="1.5"/>
<text x="52.8" y="493.5" font-size="12" text-anchor="end" font-weight="bold" fill="#111" >10</text>
<path d="M72.45 654.2 V661.00" stroke="#000" stroke-width="1.5"/>
<path d="M88.50 654.2 V661.00" stroke="#000" stroke-width="1.5"/>
<path d="M104.55 654.2 V661.00" stroke="#000" stroke-width="1.5"/>
<path d="M120.60 654.2 V661.00" stroke="#000" stroke-width="1.5"/>
<path d="M136.65 654.2 V661.00" stroke="#000" stroke-width="1.5"/>
<path d="M152.70 654.2 V661.00" stroke="#000" stroke-width="1.5"/>
<path d="M168.75 654.2 V661.00" stroke="#000" stroke-width="1.5"/>
<path d="M184.80 654.2 V661.00" stroke="#000" stroke-width="1.5"/>
<path d="M200.85 654.2 V661.00" stroke="#000" stroke-width="1.5"/>
<path d="M216.90 654.2 V661.00" stroke="#000" stroke-width="1.5"/>
<path d="M232.95 654.2 V661.00" stroke="#000" stroke-width="1.5"/>
<path d="M249.00 654.2 V661.00" stroke="#000" stroke-width="1.5"/>
<path d="M265.05 654.2 V661.00" stroke="#000" stroke-width="1.5"/>
<path d="M281.10 654.2 V661.00" stroke="#000" stroke-width="1.5"/>
<path d="M297.15 654.2 V661.00" stroke="#000" stroke-width="1.5"/>
<text x="92.5" y="672.0" font-size="12.6" text-anchor="end" font-weight="normal" fill="#222" transform="rotate(-45 92.5 672.0)">cell interior</text>
<text x="124.6" y="672.0" font-size="12.6" text-anchor="end" font-weight="normal" fill="#222" transform="rotate(-45 124.6 672.0)">cell edge</text>
<text x="172.8" y="672.0" font-size="12.6" text-anchor="end" font-weight="normal" fill="#222" transform="rotate(-45 172.8 672.0)">cell interior</text>
<text x="204.9" y="672.0" font-size="12.6" text-anchor="end" font-weight="normal" fill="#222" transform="rotate(-45 204.9 672.0)">cell edge</text>
<text x="253.0" y="672.0" font-size="12.6" text-anchor="end" font-weight="normal" fill="#222" transform="rotate(-45 253.0 672.0)">cell interior</text>
<text x="285.1" y="672.0" font-size="12.6" text-anchor="end" font-weight="normal" fill="#222" transform="rotate(-45 285.1 672.0)">cell edge</text>
<text x="98.9" y="736.5" font-size="12" text-anchor="middle" font-weight="normal" fill="#222" >MCF-7</text>
<text x="182.0" y="736.5" font-size="12" text-anchor="middle" font-weight="normal" fill="#222" >A-549</text>
<text x="271.0" y="736.5" font-size="12" text-anchor="middle" font-weight="normal" fill="#222" >HaCaT</text>
<path d="M84.4 563.7 V555.2 H103.7 V563.7" stroke="#3a3a3a" stroke-width="1.2" fill="none"/>
<path d="M84.80 543.10 L84.80 548.50 M82.46 544.45 L87.14 547.15 M82.46 547.15 L87.14 544.45" stroke="#222" stroke-width="1.5" fill="none" stroke-linecap="round"/>
<path d="M91.40 543.10 L91.40 548.50 M89.06 544.45 L93.74 547.15 M89.06 547.15 L93.74 544.45" stroke="#222" stroke-width="1.5" fill="none" stroke-linecap="round"/>
<path d="M98.00 543.10 L98.00 548.50 M95.66 544.45 L100.34 547.15 M95.66 547.15 L100.34 544.45" stroke="#222" stroke-width="1.5" fill="none" stroke-linecap="round"/>
<path d="M120.4 554.3 V546.1 H141.3 V554.3" stroke="#3a3a3a" stroke-width="1.2" fill="none"/>
<path d="M121.40 534.30 L121.40 539.70 M119.06 535.65 L123.74 538.35 M119.06 538.35 L123.74 535.65" stroke="#222" stroke-width="1.5" fill="none" stroke-linecap="round"/>
<path d="M128.00 534.30 L128.00 539.70 M125.66 535.65 L130.34 538.35 M125.66 538.35 L130.34 535.65" stroke="#222" stroke-width="1.5" fill="none" stroke-linecap="round"/>
<path d="M134.60 534.30 L134.60 539.70 M132.26 535.65 L136.94 538.35 M132.26 538.35 L136.94 535.65" stroke="#222" stroke-width="1.5" fill="none" stroke-linecap="round"/>
<path d="M167.5 541.3 V533.2 H182.7 V541.3" stroke="#3a3a3a" stroke-width="1.2" fill="none"/>
<path d="M174.50 520.70 L174.50 526.10 M172.16 522.05 L176.84 524.75 M172.16 524.75 L176.84 522.05" stroke="#222" stroke-width="1.5" fill="none" stroke-linecap="round"/>
<path d="M199.7 521.5 V513.3 H216.8 V521.5" stroke="#3a3a3a" stroke-width="1.2" fill="none"/>
<path d="M199.70 501.50 L199.70 506.90 M197.36 502.85 L202.04 505.55 M197.36 505.55 L202.04 502.85" stroke="#222" stroke-width="1.5" fill="none" stroke-linecap="round"/>
<path d="M206.30 501.50 L206.30 506.90 M203.96 502.85 L208.64 505.55 M203.96 505.55 L208.64 502.85" stroke="#222" stroke-width="1.5" fill="none" stroke-linecap="round"/>
<path d="M212.90 501.50 L212.90 506.90 M210.56 502.85 L215.24 505.55 M210.56 505.55 L215.24 502.85" stroke="#222" stroke-width="1.5" fill="none" stroke-linecap="round"/>
<path d="M243.4 532.0 V523.4 H262.8 V532.0" stroke="#3a3a3a" stroke-width="1.2" fill="none"/>
<path d="M244.50 511.80 L244.50 517.20 M242.16 513.15 L246.84 515.85 M242.16 515.85 L246.84 513.15" stroke="#222" stroke-width="1.5" fill="none" stroke-linecap="round"/>
<path d="M251.10 511.80 L251.10 517.20 M248.76 513.15 L253.44 515.85 M248.76 515.85 L253.44 513.15" stroke="#222" stroke-width="1.5" fill="none" stroke-linecap="round"/>
<path d="M257.70 511.80 L257.70 517.20 M255.36 513.15 L260.04 515.85 M255.36 515.85 L260.04 513.15" stroke="#222" stroke-width="1.5" fill="none" stroke-linecap="round"/>
<path d="M280.3 535.0 V526.9 H296.7 V535.0" stroke="#3a3a3a" stroke-width="1.2" fill="none"/>
<path d="M279.50 514.80 L279.50 520.20 M277.16 516.15 L281.84 518.85 M277.16 518.85 L281.84 516.15" stroke="#222" stroke-width="1.5" fill="none" stroke-linecap="round"/>
<path d="M286.10 514.80 L286.10 520.20 M283.76 516.15 L288.44 518.85 M283.76 518.85 L288.44 516.15" stroke="#222" stroke-width="1.5" fill="none" stroke-linecap="round"/>
<path d="M292.70 514.80 L292.70 520.20 M290.36 516.15 L295.04 518.85 M290.36 518.85 L295.04 516.15" stroke="#222" stroke-width="1.5" fill="none" stroke-linecap="round"/>
<text font-size="12" font-weight="bold" fill="#111" text-anchor="middle" transform="translate(10.7 568.7) rotate(-90)"><tspan x="0" y="0">Length of MTs' plus end</tspan><tspan x="-3" y="15.7">growth events (μm)</tspan></text>
<rect x="389.65" y="536.91" width="10.60" height="117.69" fill="#000"/>
<path d="M394.95 536.91 V531.77 M392.35 531.77 H397.55" stroke="#222" stroke-width="1.2" fill="none"/>
<rect x="406.90" y="570.41" width="8.20" height="84.19" fill="#a1a1a6" stroke="#000" stroke-width="2.4"/>
<path d="M411.00 569.21 V564.48 M408.40 564.48 H413.60" stroke="#222" stroke-width="1.2" fill="none"/>
<rect x="421.75" y="533.21" width="10.60" height="121.39" fill="#000"/>
<path d="M427.05 533.21 V528.68 M424.45 528.68 H429.65" stroke="#222" stroke-width="1.2" fill="none"/>
<rect x="439.00" y="546.34" width="8.20" height="108.26" fill="#a1a1a6" stroke="#000" stroke-width="2.4"/>
<path d="M443.10 545.14 V541.23 M440.50 541.23 H445.70" stroke="#222" stroke-width="1.2" fill="none"/>
<rect x="469.90" y="545.14" width="10.60" height="109.46" fill="#000"/>
<path d="M475.20 545.14 V534.85 M472.60 534.85 H477.80" stroke="#222" stroke-width="1.2" fill="none"/>
<rect x="487.15" y="578.03" width="8.20" height="76.57" fill="#a1a1a6" stroke="#000" stroke-width="2.4"/>
<path d="M491.25 576.83 V566.95 M488.65 566.95 H493.85" stroke="#222" stroke-width="1.2" fill="none"/>
<rect x="502.00" y="537.53" width="10.60" height="117.07" fill="#000"/>
<path d="M507.30 537.53 V527.65 M504.70 527.65 H509.90" stroke="#222" stroke-width="1.2" fill="none"/>
<rect x="519.25" y="596.96" width="8.20" height="57.64" fill="#a1a1a6" stroke="#000" stroke-width="2.4"/>
<path d="M523.35 595.76 V587.53 M520.75 587.53 H525.95" stroke="#222" stroke-width="1.2" fill="none"/>
<rect x="550.15" y="539.59" width="10.60" height="115.01" fill="#000"/>
<path d="M555.45 539.59 V532.38 M552.85 532.38 H558.05" stroke="#222" stroke-width="1.2" fill="none"/>
<rect x="567.40" y="554.37" width="8.20" height="100.23" fill="#a1a1a6" stroke="#000" stroke-width="2.4"/>
<path d="M571.50 553.17 V546.79 M568.90 546.79 H574.10" stroke="#222" stroke-width="1.2" fill="none"/>
<rect x="582.25" y="543.91" width="10.60" height="110.69" fill="#000"/>
<path d="M587.55 543.91 V539.38 M584.95 539.38 H590.15" stroke="#222" stroke-width="1.2" fill="none"/>
<rect x="599.50" y="570.21" width="8.20" height="84.39" fill="#a1a1a6" stroke="#000" stroke-width="2.4"/>
<path d="M603.60 569.01 V564.07 M601.00 564.07 H606.20" stroke="#222" stroke-width="1.2" fill="none"/>
<path d="M367.40 489.50 V655.45" stroke="#000" stroke-width="1.7" fill="none"/>
<path d="M367.40 654.60 H615.80" stroke="#000" stroke-width="1.7" fill="none"/>
<path d="M360.90 654.60 H367.4" stroke="#000" stroke-width="1.5"/>
<text x="358.4" y="658.9" font-size="12" text-anchor="end" font-weight="bold" fill="#111" >0</text>
<path d="M360.90 613.45 H367.4" stroke="#000" stroke-width="1.5"/>
<text x="358.4" y="617.8" font-size="12" text-anchor="end" font-weight="bold" fill="#111" >20</text>
<path d="M360.90 572.30 H367.4" stroke="#000" stroke-width="1.5"/>
<text x="358.4" y="576.6" font-size="12" text-anchor="end" font-weight="bold" fill="#111" >40</text>
<path d="M360.90 531.15 H367.4" stroke="#000" stroke-width="1.5"/>
<text x="358.4" y="535.4" font-size="12" text-anchor="end" font-weight="bold" fill="#111" >60</text>
<path d="M360.90 490.00 H367.4" stroke="#000" stroke-width="1.5"/>
<text x="358.4" y="494.3" font-size="12" text-anchor="end" font-weight="bold" fill="#111" >80</text>
<path d="M378.90 654.6 V661.40" stroke="#000" stroke-width="1.5"/>
<path d="M394.95 654.6 V661.40" stroke="#000" stroke-width="1.5"/>
<path d="M411.00 654.6 V661.40" stroke="#000" stroke-width="1.5"/>
<path d="M427.05 654.6 V661.40" stroke="#000" stroke-width="1.5"/>
<path d="M443.10 654.6 V661.40" stroke="#000" stroke-width="1.5"/>
<path d="M459.15 654.6 V661.40" stroke="#000" stroke-width="1.5"/>
<path d="M475.20 654.6 V661.40" stroke="#000" stroke-width="1.5"/>
<path d="M491.25 654.6 V661.40" stroke="#000" stroke-width="1.5"/>
<path d="M507.30 654.6 V661.40" stroke="#000" stroke-width="1.5"/>
<path d="M523.35 654.6 V661.40" stroke="#000" stroke-width="1.5"/>
<path d="M539.40 654.6 V661.40" stroke="#000" stroke-width="1.5"/>
<path d="M555.45 654.6 V661.40" stroke="#000" stroke-width="1.5"/>
<path d="M571.50 654.6 V661.40" stroke="#000" stroke-width="1.5"/>
<path d="M587.55 654.6 V661.40" stroke="#000" stroke-width="1.5"/>
<path d="M603.60 654.6 V661.40" stroke="#000" stroke-width="1.5"/>
<text x="398.9" y="672.0" font-size="12.6" text-anchor="end" font-weight="normal" fill="#222" transform="rotate(-45 398.9 672.0)">cell interior</text>
<text x="431.0" y="672.0" font-size="12.6" text-anchor="end" font-weight="normal" fill="#222" transform="rotate(-45 431.0 672.0)">cell edge</text>
<text x="479.2" y="672.0" font-size="12.6" text-anchor="end" font-weight="normal" fill="#222" transform="rotate(-45 479.2 672.0)">cell interior</text>
<text x="511.3" y="672.0" font-size="12.6" text-anchor="end" font-weight="normal" fill="#222" transform="rotate(-45 511.3 672.0)">cell edge</text>
<text x="559.5" y="672.0" font-size="12.6" text-anchor="end" font-weight="normal" fill="#222" transform="rotate(-45 559.5 672.0)">cell interior</text>
<text x="591.5" y="672.0" font-size="12.6" text-anchor="end" font-weight="normal" fill="#222" transform="rotate(-45 591.5 672.0)">cell edge</text>
<text x="408.3" y="736.5" font-size="12" text-anchor="middle" font-weight="normal" fill="#222" >MCF-7</text>
<text x="499.0" y="736.5" font-size="12" text-anchor="middle" font-weight="normal" fill="#222" >A-549</text>
<text x="585.3" y="736.5" font-size="12" text-anchor="middle" font-weight="normal" fill="#222" >HaCaT</text>
<path d="M396.5 521.2 V511.4 H412.1 V521.2" stroke="#3a3a3a" stroke-width="1.2" fill="none"/>
<path d="M392.20 497.90 L392.20 504.30 M389.43 499.50 L394.97 502.70 M389.43 502.70 L394.97 499.50" stroke="#222" stroke-width="1.15" fill="none" stroke-linecap="round"/>
<path d="M401.20 497.90 L401.20 504.30 M398.43 499.50 L403.97 502.70 M398.43 502.70 L403.97 499.50" stroke="#222" stroke-width="1.15" fill="none" stroke-linecap="round"/>
<path d="M410.20 497.90 L410.20 504.30 M407.43 499.50 L412.97 502.70 M407.43 502.70 L412.97 499.50" stroke="#222" stroke-width="1.15" fill="none" stroke-linecap="round"/>
<path d="M427.9 517.6 V510.2 H438.9 V517.6" stroke="#3a3a3a" stroke-width="1.2" fill="none"/>
<path d="M431.80 496.70 L431.80 503.10 M429.03 498.30 L434.57 501.50 M429.03 501.50 L434.57 498.30" stroke="#222" stroke-width="1.15" fill="none" stroke-linecap="round"/>
<path d="M476.0 526.0 V518.1 H492.3 V526.0" stroke="#3a3a3a" stroke-width="1.2" fill="none"/>
<path d="M478.30 504.90 L478.30 511.30 M475.53 506.50 L481.07 509.70 M475.53 509.70 L481.07 506.50" stroke="#222" stroke-width="1.15" fill="none" stroke-linecap="round"/>
<path d="M487.30 504.90 L487.30 511.30 M484.53 506.50 L490.07 509.70 M484.53 509.70 L490.07 506.50" stroke="#222" stroke-width="1.15" fill="none" stroke-linecap="round"/>
<path d="M506.2 516.8 V508.1 H521.4 V516.8" stroke="#3a3a3a" stroke-width="1.2" fill="none"/>
<path d="M503.40 495.20 L503.40 501.60 M500.63 496.80 L506.17 500.00 M500.63 500.00 L506.17 496.80" stroke="#222" stroke-width="1.15" fill="none" stroke-linecap="round"/>
<path d="M512.40 495.20 L512.40 501.60 M509.63 496.80 L515.17 500.00 M509.63 500.00 L515.17 496.80" stroke="#222" stroke-width="1.15" fill="none" stroke-linecap="round"/>
<path d="M521.40 495.20 L521.40 501.60 M518.63 496.80 L524.17 500.00 M518.63 500.00 L524.17 496.80" stroke="#222" stroke-width="1.15" fill="none" stroke-linecap="round"/>
<path d="M553.5 528.6 V520.2 H571.6 V528.6" stroke="#3a3a3a" stroke-width="1.2" fill="none"/>
<text x="562.5" y="513.4" font-size="12" text-anchor="middle" font-weight="normal" fill="#222" >ns</text>
<path d="M587.2 526.3 V518.4 H602.4 V526.3" stroke="#3a3a3a" stroke-width="1.2" fill="none"/>
<path d="M584.70 504.60 L584.70 511.00 M581.93 506.20 L587.47 509.40 M581.93 509.40 L587.47 506.20" stroke="#222" stroke-width="1.15" fill="none" stroke-linecap="round"/>
<path d="M593.70 504.60 L593.70 511.00 M590.93 506.20 L596.47 509.40 M590.93 509.40 L596.47 506.20" stroke="#222" stroke-width="1.15" fill="none" stroke-linecap="round"/>
<path d="M602.70 504.60 L602.70 511.00 M599.93 506.20 L605.47 509.40 M599.93 509.40 L605.47 506.20" stroke="#222" stroke-width="1.15" fill="none" stroke-linecap="round"/>
<text font-size="12" font-weight="bold" fill="#111" text-anchor="middle" transform="translate(339.3 573) rotate(-90)">Angle (°)</text>
</svg>
</body></html>
